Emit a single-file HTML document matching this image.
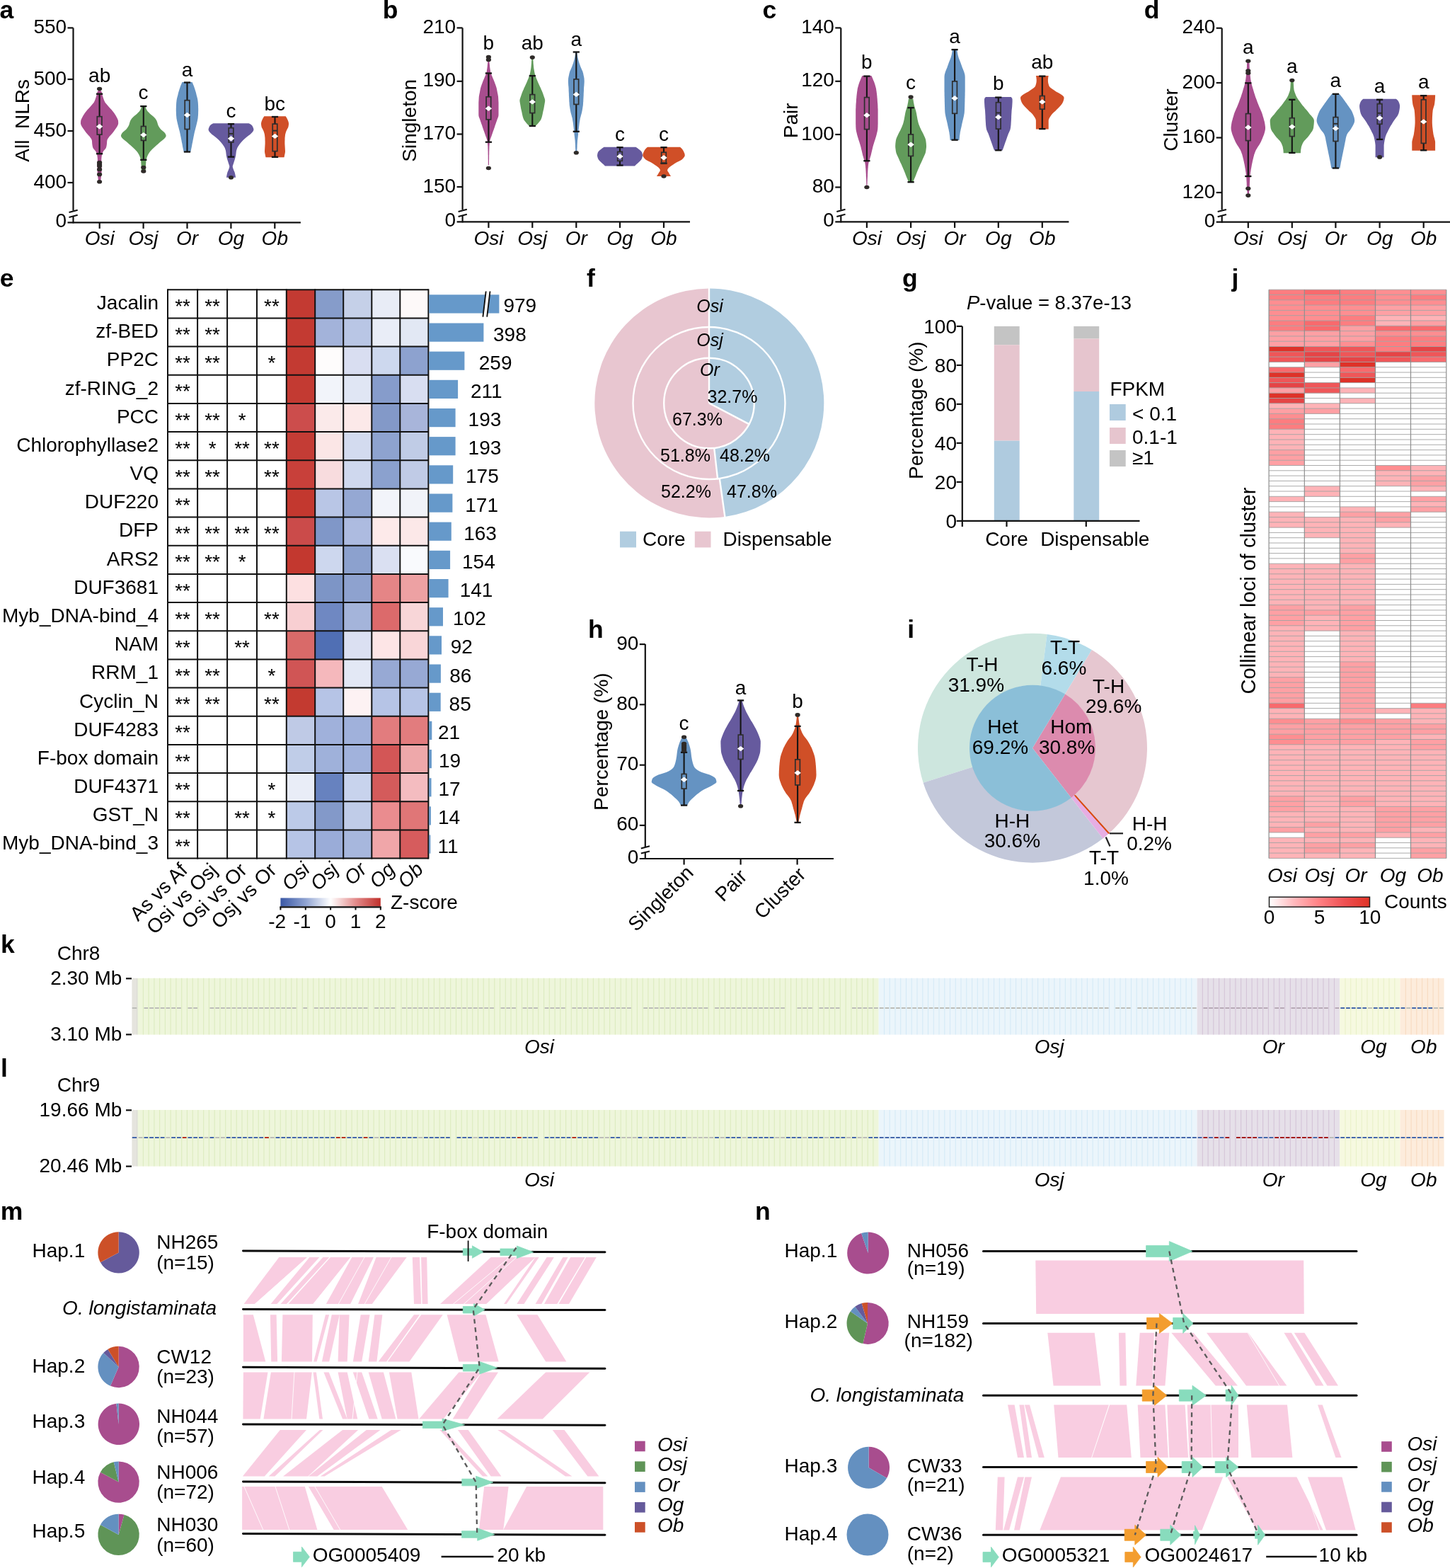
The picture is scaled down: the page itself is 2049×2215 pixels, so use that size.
<!DOCTYPE html>
<html><head><meta charset="utf-8"><title>Figure</title>
<style>
html,body{margin:0;padding:0;background:#ffffff;}
svg{display:block;}
text{font-family:"Liberation Sans", Arial, Helvetica, sans-serif;}
</style></head><body>
<svg xmlns="http://www.w3.org/2000/svg" width="2049" height="2215" viewBox="0 0 2049 2215">
<rect x="0" y="0" width="2049" height="2215" fill="#ffffff"/>
<text x="-0.4" y="25.9" font-size="35.5" font-weight="bold">a</text>
<path d="M142.1 127.9 L143.5 129.6 L144 131.3 L144.3 133 L144.8 134.7 L145.3 136.4 L145.8 138.1 L146.4 139.8 L147 141.5 L147.8 143.2 L148.7 144.9 L150 146.6 L151.5 148.3 L153 150 L154.5 151.7 L156.1 153.4 L157.6 155.1 L159 156.8 L160.4 158.5 L161.7 160.3 L162.8 162 L163.9 163.7 L164.8 165.4 L165.6 167.1 L166.4 168.8 L167 170.5 L167.1 172.2 L167.2 173.9 L167 175.6 L166.3 177.3 L165.4 179 L164.2 180.7 L163 182.4 L161.9 184.1 L160.7 185.8 L159.4 187.5 L157.9 189.2 L156.3 190.9 L154.8 192.6 L153.6 194.3 L152.3 196 L151.5 197.7 L151.2 199.4 L151.1 201.1 L151 202.8 L150.8 204.5 L150.5 206.2 L150.1 207.9 L149.5 209.6 L148.1 211.3 L146.5 213 L145.4 214.7 L144.7 216.4 L144.2 218.1 L143.8 219.8 L143.6 221.5 L143.4 223.2 L143.3 225 L143.3 226.7 L143.3 228.4 L143.4 230.1 L143.4 231.8 L143.5 233.5 L143.5 235.2 L143.6 236.9 L143.6 238.6 L143.6 240.3 L143.6 242 L143.5 243.7 L143.4 245.4 L143.2 247.1 L143 248.8 L142.8 250.5 L142.6 252.2 L142.4 253.9 L142.1 255.6 L139.1 255.6 L138.8 253.9 L138.6 252.2 L138.4 250.5 L138.2 248.8 L138 247.1 L137.8 245.4 L137.7 243.7 L137.6 242 L137.6 240.3 L137.6 238.6 L137.6 236.9 L137.7 235.2 L137.7 233.5 L137.8 231.8 L137.8 230.1 L137.9 228.4 L137.9 226.7 L137.9 225 L137.8 223.2 L137.6 221.5 L137.4 219.8 L137 218.1 L136.5 216.4 L135.8 214.7 L134.7 213 L133.1 211.3 L131.7 209.6 L131.1 207.9 L130.7 206.2 L130.4 204.5 L130.2 202.8 L130.1 201.1 L130 199.4 L129.7 197.7 L128.9 196 L127.6 194.3 L126.4 192.6 L124.9 190.9 L123.3 189.2 L121.8 187.5 L120.5 185.8 L119.3 184.1 L118.2 182.4 L117 180.7 L115.8 179 L114.9 177.3 L114.2 175.6 L114 173.9 L114.1 172.2 L114.2 170.5 L114.8 168.8 L115.6 167.1 L116.4 165.4 L117.3 163.7 L118.4 162 L119.5 160.3 L120.8 158.5 L122.2 156.8 L123.6 155.1 L125.1 153.4 L126.7 151.7 L128.2 150 L129.7 148.3 L131.2 146.6 L132.5 144.9 L133.4 143.2 L134.2 141.5 L134.8 139.8 L135.4 138.1 L135.9 136.4 L136.4 134.7 L136.9 133 L137.2 131.3 L137.7 129.6 L139.1 127.9Z" fill="#a84d8e"/>
<path d="M205.5 150.6 L206 152.3 L206.7 154 L207.6 155.7 L208.8 157.4 L210.4 159.1 L212 160.8 L214.1 162.5 L216.3 164.2 L218.1 165.9 L219.5 167.6 L220.7 169.3 L221.6 171 L222.2 172.7 L222.7 174.5 L223.2 176.2 L224 177.9 L224.9 179.6 L226.1 181.3 L227.5 183 L229.6 184.7 L231.7 186.4 L233.1 188.1 L234.1 189.8 L234.7 191.5 L234.3 193.2 L233 194.9 L231.5 196.6 L229.4 198.3 L227.1 200 L225.1 201.7 L223.3 203.4 L221.4 205.1 L219.5 206.8 L217.6 208.5 L215.7 210.2 L214 211.9 L212.6 213.6 L211.2 215.3 L210.1 217 L209.1 218.7 L208.3 220.5 L207.6 222.2 L207.1 223.9 L206.7 225.6 L206.5 227.3 L206.3 229 L206.2 230.7 L206.1 232.4 L206 234.1 L206 235.8 L205.9 237.5 L205.9 239.2 L205.8 240.9 L205.8 242.6 L199.8 242.6 L199.8 240.9 L199.7 239.2 L199.7 237.5 L199.6 235.8 L199.6 234.1 L199.5 232.4 L199.4 230.7 L199.3 229 L199.1 227.3 L198.9 225.6 L198.5 223.9 L198 222.2 L197.3 220.5 L196.5 218.7 L195.5 217 L194.4 215.3 L193 213.6 L191.6 211.9 L189.9 210.2 L188 208.5 L186.1 206.8 L184.2 205.1 L182.3 203.4 L180.5 201.7 L178.5 200 L176.2 198.3 L174.1 196.6 L172.6 194.9 L171.3 193.2 L170.9 191.5 L171.5 189.8 L172.5 188.1 L173.9 186.4 L176 184.7 L178.1 183 L179.5 181.3 L180.7 179.6 L181.6 177.9 L182.4 176.2 L182.9 174.5 L183.4 172.7 L184 171 L184.9 169.3 L186.1 167.6 L187.5 165.9 L189.3 164.2 L191.5 162.5 L193.6 160.8 L195.2 159.1 L196.8 157.4 L198 155.7 L198.9 154 L199.6 152.3 L200.1 150.6Z" fill="#629b5b"/>
<path d="M271.5 116 L272.3 117.7 L273 119.4 L273.7 121.1 L274.3 122.8 L274.9 124.5 L275.5 126.2 L276 127.9 L276.5 129.6 L277 131.3 L277.4 133 L277.8 134.7 L278.3 136.4 L278.7 138.1 L279.1 139.8 L279.4 141.5 L279.6 143.2 L279.8 144.9 L279.9 146.6 L280 148.3 L280.1 150 L280.1 151.7 L280.2 153.4 L280.2 155.1 L280.2 156.8 L280.1 158.5 L280.1 160.2 L280 161.9 L279.9 163.6 L279.7 165.2 L279.6 166.9 L279.3 168.6 L279 170.3 L278.6 172 L278.2 173.7 L277.8 175.4 L277.4 177.1 L277 178.8 L276.5 180.5 L276.1 182.2 L275.6 183.9 L275.2 185.6 L274.8 187.3 L274.4 189 L274.1 190.7 L273.7 192.4 L273.4 194.1 L273.1 195.8 L272.7 197.5 L272.4 199.2 L272.1 200.9 L271.7 202.6 L271.4 204.3 L271.1 206 L270.8 207.7 L270.4 209.4 L270.1 211.1 L269.7 212.8 L269.4 214.5 L259.6 214.5 L259.3 212.8 L258.9 211.1 L258.6 209.4 L258.2 207.7 L257.9 206 L257.6 204.3 L257.3 202.6 L256.9 200.9 L256.6 199.2 L256.3 197.5 L255.9 195.8 L255.6 194.1 L255.3 192.4 L254.9 190.7 L254.6 189 L254.2 187.3 L253.8 185.6 L253.4 183.9 L252.9 182.2 L252.5 180.5 L252 178.8 L251.6 177.1 L251.2 175.4 L250.8 173.7 L250.4 172 L250 170.3 L249.7 168.6 L249.4 166.9 L249.3 165.2 L249.1 163.6 L249 161.9 L248.9 160.2 L248.9 158.5 L248.8 156.8 L248.8 155.1 L248.8 153.4 L248.9 151.7 L248.9 150 L249 148.3 L249.1 146.6 L249.2 144.9 L249.4 143.2 L249.6 141.5 L249.9 139.8 L250.3 138.1 L250.7 136.4 L251.2 134.7 L251.6 133 L252 131.3 L252.5 129.6 L253 127.9 L253.5 126.2 L254.1 124.5 L254.7 122.8 L255.3 121.1 L256 119.4 L256.7 117.7 L257.5 116Z" fill="#6593c2"/>
<path d="M351.6 174.2 L354.9 175.9 L356.5 177.7 L357.4 179.4 L358.1 181.2 L358.5 182.9 L358.1 184.6 L356.9 186.4 L355.4 188.1 L353.4 189.9 L351.2 191.6 L349 193.3 L346.9 195.1 L344.9 196.8 L343.1 198.6 L341.5 200.3 L340 202.1 L338.6 203.8 L337.4 205.5 L336.2 207.3 L335.3 209 L334.7 210.8 L334.1 212.5 L333.8 214.2 L333.6 216 L333.4 217.7 L333.2 219.5 L332.8 221.2 L332.4 222.9 L331.9 224.7 L331.4 226.4 L330.8 228.2 L330.3 229.9 L329.7 231.7 L329.1 233.4 L328.7 235.1 L329 236.9 L329.6 238.6 L330.3 240.4 L331 242.1 L331.7 243.8 L332.1 245.6 L332.5 247.3 L332.8 249.1 L333 250.8 L320 250.8 L320.2 249.1 L320.5 247.3 L320.9 245.6 L321.3 243.8 L322 242.1 L322.7 240.4 L323.4 238.6 L324 236.9 L324.3 235.1 L323.9 233.4 L323.3 231.7 L322.7 229.9 L322.2 228.2 L321.6 226.4 L321.1 224.7 L320.6 222.9 L320.2 221.2 L319.8 219.5 L319.6 217.7 L319.4 216 L319.2 214.2 L318.9 212.5 L318.3 210.8 L317.7 209 L316.8 207.3 L315.6 205.5 L314.4 203.8 L313 202.1 L311.5 200.3 L309.9 198.6 L308.1 196.8 L306.1 195.1 L304 193.3 L301.8 191.6 L299.6 189.9 L297.6 188.1 L296.1 186.4 L294.9 184.6 L294.5 182.9 L294.9 181.2 L295.6 179.4 L296.5 177.7 L298.1 175.9 L301.4 174.2Z" fill="#665a9e"/>
<path d="M403.7 164.2 L404.8 166 L405.8 167.7 L406.6 169.5 L407.3 171.2 L407.8 173 L408 174.8 L407.9 176.5 L407.6 178.3 L407.2 180 L406.2 181.8 L405.3 183.6 L404.5 185.3 L403.9 187.1 L403.4 188.8 L403 190.6 L402.8 192.4 L402.6 194.1 L402.5 195.9 L402.5 197.7 L402.4 199.4 L402.4 201.2 L402.4 202.9 L402.5 204.7 L402.6 206.5 L402.7 208.2 L402.8 210 L402.9 211.7 L403 213.5 L402.9 215.3 L402.6 217 L402.2 218.8 L401.9 220.5 L401.5 222.3 L375.5 222.3 L375.1 220.5 L374.8 218.8 L374.4 217 L374.1 215.3 L374 213.5 L374.1 211.7 L374.2 210 L374.3 208.2 L374.4 206.5 L374.5 204.7 L374.6 202.9 L374.6 201.2 L374.6 199.4 L374.5 197.7 L374.5 195.9 L374.4 194.1 L374.2 192.4 L374 190.6 L373.6 188.8 L373.1 187.1 L372.5 185.3 L371.7 183.6 L370.8 181.8 L369.8 180 L369.4 178.3 L369.1 176.5 L369 174.8 L369.2 173 L369.7 171.2 L370.4 169.5 L371.2 167.7 L372.2 166 L373.3 164.2Z" fill="#d04f27"/>
<line x1="140.6" y1="132.7" x2="140.6" y2="164.7" stroke="#151515" stroke-width="2.1"/>
<line x1="140.6" y1="190.1" x2="140.6" y2="217.2" stroke="#151515" stroke-width="2.1"/>
<line x1="136" y1="132.7" x2="145.2" y2="132.7" stroke="#151515" stroke-width="2.3"/>
<line x1="136" y1="217.2" x2="145.2" y2="217.2" stroke="#151515" stroke-width="2.3"/>
<rect x="137.3" y="164.7" width="6.6" height="25.4" fill="none" stroke="#2e2e2e" stroke-width="1.7"/>
<polygon points="135.9,178.7 140.6,175 145.3,178.7 140.6,182.4" fill="#ffffff"/>
<ellipse cx="140.6" cy="125.5" rx="3.6" ry="2.8" fill="#2e2a28"/>
<ellipse cx="140.6" cy="229.6" rx="3.6" ry="2.8" fill="#2e2a28"/>
<ellipse cx="140.6" cy="232" rx="3.6" ry="2.8" fill="#2e2a28"/>
<ellipse cx="140.6" cy="234.5" rx="3.6" ry="2.8" fill="#2e2a28"/>
<ellipse cx="140.6" cy="239.4" rx="3.6" ry="2.8" fill="#2e2a28"/>
<ellipse cx="140.6" cy="246.4" rx="3.6" ry="2.8" fill="#2e2a28"/>
<ellipse cx="140.6" cy="256.7" rx="3.6" ry="2.8" fill="#2e2a28"/>
<line x1="202.8" y1="150.1" x2="202.8" y2="178.5" stroke="#151515" stroke-width="2.1"/>
<line x1="202.8" y1="198.4" x2="202.8" y2="225.8" stroke="#151515" stroke-width="2.1"/>
<line x1="198.2" y1="150.1" x2="207.4" y2="150.1" stroke="#151515" stroke-width="2.3"/>
<line x1="198.2" y1="225.8" x2="207.4" y2="225.8" stroke="#151515" stroke-width="2.3"/>
<rect x="199.5" y="178.5" width="6.6" height="19.9" fill="none" stroke="#2e2e2e" stroke-width="1.7"/>
<polygon points="198.1,190.6 202.8,186.9 207.5,190.6 202.8,194.3" fill="#ffffff"/>
<ellipse cx="202.8" cy="236.6" rx="3.6" ry="2.8" fill="#2e2a28"/>
<ellipse cx="202.8" cy="242" rx="3.6" ry="2.8" fill="#2e2a28"/>
<line x1="264.5" y1="116.5" x2="264.5" y2="141.7" stroke="#151515" stroke-width="2.1"/>
<line x1="264.5" y1="182.5" x2="264.5" y2="214.5" stroke="#151515" stroke-width="2.1"/>
<line x1="259.9" y1="116.5" x2="269.1" y2="116.5" stroke="#151515" stroke-width="2.3"/>
<line x1="259.9" y1="214.5" x2="269.1" y2="214.5" stroke="#151515" stroke-width="2.3"/>
<rect x="261.2" y="141.7" width="6.6" height="40.8" fill="none" stroke="#2e2e2e" stroke-width="1.7"/>
<polygon points="259.8,162.5 264.5,158.8 269.2,162.5 264.5,166.2" fill="#ffffff"/>
<line x1="326.5" y1="175.1" x2="326.5" y2="180.7" stroke="#151515" stroke-width="2.1"/>
<line x1="326.5" y1="201" x2="326.5" y2="221.6" stroke="#151515" stroke-width="2.1"/>
<line x1="321.9" y1="175.1" x2="331.1" y2="175.1" stroke="#151515" stroke-width="2.3"/>
<line x1="321.9" y1="221.6" x2="331.1" y2="221.6" stroke="#151515" stroke-width="2.3"/>
<rect x="323.2" y="180.7" width="6.6" height="20.3" fill="none" stroke="#2e2e2e" stroke-width="1.7"/>
<line x1="323.2" y1="188.9" x2="329.8" y2="188.9" stroke="#2e2e2e" stroke-width="2"/>
<polygon points="321.8,195.8 326.5,192.1 331.2,195.8 326.5,199.5" fill="#ffffff"/>
<ellipse cx="326.5" cy="250.8" rx="3.6" ry="2.8" fill="#2e2a28"/>
<line x1="388.5" y1="165" x2="388.5" y2="175.1" stroke="#151515" stroke-width="2.1"/>
<line x1="388.5" y1="213.6" x2="388.5" y2="221.8" stroke="#151515" stroke-width="2.1"/>
<line x1="383.9" y1="165" x2="393.1" y2="165" stroke="#151515" stroke-width="2.3"/>
<line x1="383.9" y1="221.8" x2="393.1" y2="221.8" stroke="#151515" stroke-width="2.3"/>
<rect x="385.2" y="175.1" width="6.6" height="38.5" fill="none" stroke="#2e2e2e" stroke-width="1.7"/>
<line x1="385.2" y1="184.6" x2="391.8" y2="184.6" stroke="#2e2e2e" stroke-width="2"/>
<polygon points="383.8,192.4 388.5,188.7 393.2,192.4 388.5,196.1" fill="#ffffff"/>
<line x1="103.5" y1="39.4" x2="103.5" y2="297.4" stroke="#111" stroke-width="2.2"/>
<line x1="103.5" y1="305.9" x2="103.5" y2="315.4" stroke="#111" stroke-width="2.2"/>
<line x1="97.5" y1="299.9" x2="109.7" y2="296.7" stroke="#111" stroke-width="2.1"/>
<line x1="97.5" y1="307" x2="109.7" y2="303.8" stroke="#111" stroke-width="2.1"/>
<line x1="95.5" y1="39.4" x2="103.5" y2="39.4" stroke="#111" stroke-width="2.2"/>
<text x="94.1" y="46.9" font-size="28" text-anchor="end">550</text>
<line x1="95.5" y1="112" x2="103.5" y2="112" stroke="#111" stroke-width="2.2"/>
<text x="94.1" y="119.5" font-size="28" text-anchor="end">500</text>
<line x1="95.5" y1="185" x2="103.5" y2="185" stroke="#111" stroke-width="2.2"/>
<text x="94.1" y="192.5" font-size="28" text-anchor="end">450</text>
<line x1="95.5" y1="258" x2="103.5" y2="258" stroke="#111" stroke-width="2.2"/>
<text x="94.1" y="265.5" font-size="28" text-anchor="end">400</text>
<text x="94.1" y="321.4" font-size="28" text-anchor="end">0</text>
<line x1="95.5" y1="314.4" x2="424.9" y2="314.4" stroke="#111" stroke-width="2.2"/>
<line x1="140.7" y1="314.4" x2="140.7" y2="322.9" stroke="#111" stroke-width="2.2"/>
<text x="140.7" y="346.3" font-size="28" text-anchor="middle" font-style="italic">Osi</text>
<line x1="202.6" y1="314.4" x2="202.6" y2="322.9" stroke="#111" stroke-width="2.2"/>
<text x="202.6" y="346.3" font-size="28" text-anchor="middle" font-style="italic">Osj</text>
<line x1="264.5" y1="314.4" x2="264.5" y2="322.9" stroke="#111" stroke-width="2.2"/>
<text x="264.5" y="346.3" font-size="28" text-anchor="middle" font-style="italic">Or</text>
<line x1="326.4" y1="314.4" x2="326.4" y2="322.9" stroke="#111" stroke-width="2.2"/>
<text x="326.4" y="346.3" font-size="28" text-anchor="middle" font-style="italic">Og</text>
<line x1="388.3" y1="314.4" x2="388.3" y2="322.9" stroke="#111" stroke-width="2.2"/>
<text x="388.3" y="346.3" font-size="28" text-anchor="middle" font-style="italic">Ob</text>
<text x="140.7" y="116" font-size="28" text-anchor="middle">ab</text>
<text x="202.6" y="140.3" font-size="28" text-anchor="middle">c</text>
<text x="264.5" y="107.9" font-size="28" text-anchor="middle">a</text>
<text x="326.4" y="166.4" font-size="28" text-anchor="middle">c</text>
<text x="388.3" y="156" font-size="28" text-anchor="middle">bc</text>
<text x="40.8" y="170.3" font-size="28" text-anchor="middle" transform="rotate(-90 40.8 170.3)">All&#160; NLRs</text>
<text x="540.7" y="25.9" font-size="35.5" font-weight="bold">b</text>
<path d="M691.4 87.1 L691.6 88.8 L691.8 90.5 L692 92.2 L692.1 93.9 L692.3 95.6 L692.5 97.3 L692.8 99 L693 100.7 L693.4 102.4 L693.8 104.1 L694.5 105.8 L695.3 107.5 L696 109.2 L696.7 110.9 L697.4 112.6 L698.1 114.3 L698.8 116 L699.4 117.7 L700.1 119.4 L700.6 121.1 L701.2 122.8 L701.7 124.5 L702.1 126.2 L702.4 127.9 L702.7 129.6 L703 131.3 L703.4 133 L703.7 134.7 L704 136.4 L704.1 138.1 L704.2 139.8 L704.3 141.5 L704.4 143.2 L704.5 144.9 L704.5 146.6 L704.5 148.3 L704.5 150 L704.5 151.7 L704.5 153.4 L704.5 155.1 L704.5 156.8 L704.5 158.5 L704.5 160.1 L704.5 161.8 L704.4 163.5 L704 165.2 L703.3 166.9 L702.7 168.6 L702.1 170.3 L701.5 172 L700.9 173.7 L700.3 175.4 L699.7 177.1 L699.2 178.8 L698.6 180.5 L698 182.2 L697.4 183.9 L696.8 185.6 L696.2 187.3 L695.6 189 L695 190.7 L694.4 192.4 L693.8 194.1 L693.2 195.8 L692.6 197.5 L692.2 199.2 L692 200.9 L691.8 202.6 L691.7 204.3 L691.5 206 L691.4 207.7 L691.4 209.4 L691.3 211.1 L691.3 212.8 L691.2 214.5 L691.2 216.2 L691.2 217.9 L691.1 219.6 L691.1 221.3 L691.1 223 L691.1 224.7 L691 226.4 L691 228.1 L691 229.8 L691 231.5 L691 233.2 L689.8 233.2 L689.8 231.5 L689.8 229.8 L689.8 228.1 L689.8 226.4 L689.7 224.7 L689.7 223 L689.7 221.3 L689.7 219.6 L689.6 217.9 L689.6 216.2 L689.6 214.5 L689.5 212.8 L689.5 211.1 L689.4 209.4 L689.4 207.7 L689.3 206 L689.1 204.3 L689 202.6 L688.8 200.9 L688.6 199.2 L688.2 197.5 L687.6 195.8 L687 194.1 L686.4 192.4 L685.8 190.7 L685.2 189 L684.6 187.3 L684 185.6 L683.4 183.9 L682.8 182.2 L682.2 180.5 L681.6 178.8 L681.1 177.1 L680.5 175.4 L679.9 173.7 L679.3 172 L678.7 170.3 L678.1 168.6 L677.5 166.9 L676.8 165.2 L676.4 163.5 L676.3 161.8 L676.3 160.1 L676.3 158.5 L676.3 156.8 L676.3 155.1 L676.3 153.4 L676.3 151.7 L676.3 150 L676.3 148.3 L676.3 146.6 L676.3 144.9 L676.4 143.2 L676.5 141.5 L676.6 139.8 L676.7 138.1 L676.8 136.4 L677.1 134.7 L677.4 133 L677.8 131.3 L678.1 129.6 L678.4 127.9 L678.7 126.2 L679.1 124.5 L679.6 122.8 L680.2 121.1 L680.7 119.4 L681.4 117.7 L682 116 L682.7 114.3 L683.4 112.6 L684.1 110.9 L684.8 109.2 L685.5 107.5 L686.3 105.8 L687 104.1 L687.4 102.4 L687.8 100.7 L688 99 L688.3 97.3 L688.5 95.6 L688.7 93.9 L688.8 92.2 L689 90.5 L689.2 88.8 L689.4 87.1Z" fill="#a84d8e"/>
<path d="M753.3 81.6 L753.3 83.3 L753.4 85 L753.5 86.8 L753.6 88.5 L753.7 90.2 L753.9 91.9 L754 93.6 L754.2 95.4 L754.4 97.1 L754.7 98.8 L755 100.5 L755.3 102.3 L755.7 104 L756.1 105.7 L756.7 107.4 L757.3 109.1 L758 110.9 L758.7 112.6 L759.4 114.3 L760.1 116 L760.9 117.8 L761.7 119.5 L762.5 121.2 L763.3 122.9 L764.1 124.6 L764.8 126.4 L765.6 128.1 L766.3 129.8 L767 131.5 L767.6 133.2 L768.2 135 L768.8 136.7 L769.4 138.4 L769.9 140.1 L770.2 141.8 L770.1 143.6 L769.8 145.3 L769.5 147 L769.2 148.7 L768.9 150.5 L768.6 152.2 L768.3 153.9 L767.9 155.6 L767.5 157.3 L767.1 159.1 L766.8 160.8 L766.4 162.5 L766 164.2 L765.5 165.9 L764.9 167.7 L764.1 169.4 L763 171.1 L761.6 172.8 L760.2 174.6 L758.5 176.3 L756.6 178 L748 178 L746.1 176.3 L744.4 174.6 L743 172.8 L741.6 171.1 L740.5 169.4 L739.7 167.7 L739.1 165.9 L738.6 164.2 L738.2 162.5 L737.8 160.8 L737.5 159.1 L737.1 157.3 L736.7 155.6 L736.3 153.9 L736 152.2 L735.7 150.5 L735.4 148.7 L735.1 147 L734.8 145.3 L734.5 143.6 L734.4 141.8 L734.7 140.1 L735.2 138.4 L735.8 136.7 L736.4 135 L737 133.2 L737.6 131.5 L738.3 129.8 L739 128.1 L739.8 126.4 L740.5 124.6 L741.3 122.9 L742.1 121.2 L742.9 119.5 L743.7 117.8 L744.5 116 L745.2 114.3 L745.9 112.6 L746.6 110.9 L747.3 109.1 L747.9 107.4 L748.5 105.7 L748.9 104 L749.3 102.3 L749.6 100.5 L749.9 98.8 L750.2 97.1 L750.4 95.4 L750.6 93.6 L750.7 91.9 L750.9 90.2 L751 88.5 L751.1 86.8 L751.2 85 L751.3 83.3 L751.3 81.6Z" fill="#629b5b"/>
<path d="M815.3 73.5 L815.5 75.2 L815.7 76.9 L816 78.6 L816.2 80.3 L816.6 82 L817 83.7 L817.4 85.3 L817.9 87 L818.4 88.7 L819 90.4 L819.6 92.1 L820.2 93.8 L820.9 95.5 L821.7 97.2 L822.4 98.9 L823.2 100.6 L823.7 102.3 L824.2 104 L824.5 105.7 L824.9 107.4 L825.2 109 L825.5 110.7 L825.6 112.4 L825.7 114.1 L825.7 115.8 L825.6 117.5 L825.5 119.2 L825.4 120.9 L825.2 122.6 L825.1 124.3 L825 126 L825 127.7 L824.9 129.4 L824.8 131.1 L824.7 132.7 L824.7 134.4 L824.6 136.1 L824.5 137.8 L824.4 139.5 L824.3 141.2 L824.3 142.9 L824.1 144.6 L824 146.3 L823.9 148 L823.7 149.7 L823.4 151.4 L823.2 153.1 L822.9 154.8 L822.6 156.4 L822.3 158.1 L821.9 159.8 L821.4 161.5 L820.9 163.2 L820.5 164.9 L820 166.6 L819.7 168.3 L819.4 170 L819.1 171.7 L818.8 173.4 L818.6 175.1 L818.4 176.8 L818.2 178.5 L818 180.1 L817.8 181.8 L817.6 183.5 L817.5 185.2 L817.3 186.9 L817.1 188.6 L817 190.3 L816.8 192 L816.6 193.7 L816.4 195.4 L816.2 197.1 L816 198.8 L815.9 200.5 L815.8 202.2 L815.7 203.8 L815.6 205.5 L815.6 207.2 L815.5 208.9 L815.4 210.6 L815.4 212.3 L815.3 214 L813.3 214 L813.2 212.3 L813.2 210.6 L813.1 208.9 L813 207.2 L813 205.5 L812.9 203.8 L812.8 202.2 L812.7 200.5 L812.6 198.8 L812.4 197.1 L812.2 195.4 L812 193.7 L811.8 192 L811.6 190.3 L811.5 188.6 L811.3 186.9 L811.1 185.2 L811 183.5 L810.8 181.8 L810.6 180.1 L810.4 178.5 L810.2 176.8 L810 175.1 L809.8 173.4 L809.5 171.7 L809.2 170 L808.9 168.3 L808.6 166.6 L808.1 164.9 L807.7 163.2 L807.2 161.5 L806.7 159.8 L806.3 158.1 L806 156.4 L805.7 154.8 L805.4 153.1 L805.2 151.4 L804.9 149.7 L804.7 148 L804.6 146.3 L804.5 144.6 L804.3 142.9 L804.3 141.2 L804.2 139.5 L804.1 137.8 L804 136.1 L803.9 134.4 L803.9 132.7 L803.8 131.1 L803.7 129.4 L803.6 127.7 L803.6 126 L803.5 124.3 L803.4 122.6 L803.2 120.9 L803.1 119.2 L803 117.5 L802.9 115.8 L802.9 114.1 L803 112.4 L803.1 110.7 L803.4 109 L803.7 107.4 L804.1 105.7 L804.4 104 L804.9 102.3 L805.4 100.6 L806.2 98.9 L806.9 97.2 L807.7 95.5 L808.4 93.8 L809 92.1 L809.6 90.4 L810.2 88.7 L810.7 87 L811.2 85.3 L811.6 83.7 L812 82 L812.4 80.3 L812.6 78.6 L812.9 76.9 L813.1 75.2 L813.3 73.5Z" fill="#6593c2"/>
<path d="M898.5 207.7 L901.1 209.5 L903.3 211.3 L905.4 213 L906.9 214.8 L907.5 216.6 L907.9 218.4 L908 220.2 L907.6 221.9 L907.1 223.7 L906.2 225.5 L904.7 227.3 L902.9 229.1 L901 230.8 L898.9 232.6 L897 234.4 L855 234.4 L853.1 232.6 L851 230.8 L849.1 229.1 L847.3 227.3 L845.8 225.5 L844.9 223.7 L844.4 221.9 L844 220.2 L844.1 218.4 L844.5 216.6 L845.1 214.8 L846.6 213 L848.7 211.3 L850.9 209.5 L853.5 207.7Z" fill="#665a9e"/>
<path d="M961 207.7 L963 209.5 L964.5 211.3 L965.6 213.1 L966.5 214.9 L967.3 216.7 L967.7 218.5 L967.7 220.3 L966.7 222.1 L965.1 223.9 L963.2 225.7 L960 227.5 L956.3 229.2 L953.4 231 L950.9 232.8 L948.2 234.6 L945.6 236.4 L944 238.2 L943.1 240 L943.4 241.8 L944.7 243.6 L945.8 245.4 L946.9 247.2 L948 249 L928 249 L929.1 247.2 L930.2 245.4 L931.3 243.6 L932.6 241.8 L932.9 240 L932 238.2 L930.4 236.4 L927.8 234.6 L925.1 232.8 L922.6 231 L919.7 229.2 L916 227.5 L912.8 225.7 L910.9 223.9 L909.3 222.1 L908.3 220.3 L908.3 218.5 L908.7 216.7 L909.5 214.9 L910.4 213.1 L911.5 211.3 L913 209.5 L915 207.7Z" fill="#d04f27"/>
<line x1="690.4" y1="103.5" x2="690.4" y2="136.8" stroke="#151515" stroke-width="2.1"/>
<line x1="690.4" y1="168.8" x2="690.4" y2="200.7" stroke="#151515" stroke-width="2.1"/>
<line x1="685.8" y1="103.5" x2="695" y2="103.5" stroke="#151515" stroke-width="2.3"/>
<line x1="685.8" y1="200.7" x2="695" y2="200.7" stroke="#151515" stroke-width="2.3"/>
<rect x="687.1" y="136.8" width="6.6" height="32" fill="none" stroke="#2e2e2e" stroke-width="1.7"/>
<polygon points="685.7,153.3 690.4,149.6 695.1,153.3 690.4,157" fill="#ffffff"/>
<ellipse cx="690.4" cy="80.6" rx="3.6" ry="2.8" fill="#2e2a28"/>
<ellipse cx="690.4" cy="84.4" rx="3.6" ry="2.8" fill="#2e2a28"/>
<ellipse cx="690.4" cy="237.5" rx="3.6" ry="2.8" fill="#2e2a28"/>
<line x1="752.3" y1="107.1" x2="752.3" y2="133.6" stroke="#151515" stroke-width="2.1"/>
<line x1="752.3" y1="159.6" x2="752.3" y2="178" stroke="#151515" stroke-width="2.1"/>
<line x1="747.7" y1="107.1" x2="756.9" y2="107.1" stroke="#151515" stroke-width="2.3"/>
<line x1="747.7" y1="178" x2="756.9" y2="178" stroke="#151515" stroke-width="2.3"/>
<rect x="749" y="133.6" width="6.6" height="26" fill="none" stroke="#2e2e2e" stroke-width="1.7"/>
<polygon points="747.6,143.9 752.3,140.2 757,143.9 752.3,147.6" fill="#ffffff"/>
<ellipse cx="752.3" cy="81.1" rx="3.6" ry="2.8" fill="#2e2a28"/>
<line x1="814.3" y1="73.5" x2="814.3" y2="111.9" stroke="#151515" stroke-width="2.1"/>
<line x1="814.3" y1="147.4" x2="814.3" y2="185.8" stroke="#151515" stroke-width="2.1"/>
<line x1="809.7" y1="73.5" x2="818.9" y2="73.5" stroke="#151515" stroke-width="2.3"/>
<line x1="809.7" y1="185.8" x2="818.9" y2="185.8" stroke="#151515" stroke-width="2.3"/>
<rect x="811" y="111.9" width="6.6" height="35.5" fill="none" stroke="#2e2e2e" stroke-width="1.7"/>
<polygon points="809.6,133.4 814.3,129.7 819,133.4 814.3,137.1" fill="#ffffff"/>
<ellipse cx="814.3" cy="215.8" rx="3.6" ry="2.8" fill="#2e2a28"/>
<line x1="876" y1="208.2" x2="876" y2="214.4" stroke="#151515" stroke-width="2.1"/>
<line x1="876" y1="227.3" x2="876" y2="233.5" stroke="#151515" stroke-width="2.1"/>
<line x1="871.4" y1="208.2" x2="880.6" y2="208.2" stroke="#151515" stroke-width="2.3"/>
<line x1="871.4" y1="233.5" x2="880.6" y2="233.5" stroke="#151515" stroke-width="2.3"/>
<rect x="872.7" y="214.4" width="6.6" height="12.9" fill="none" stroke="#2e2e2e" stroke-width="1.7"/>
<polygon points="871.3,220.9 876,217.2 880.7,220.9 876,224.6" fill="#ffffff"/>
<line x1="938" y1="208.2" x2="938" y2="215.2" stroke="#151515" stroke-width="2.1"/>
<line x1="938" y1="230.2" x2="938" y2="230.7" stroke="#151515" stroke-width="2.1"/>
<line x1="933.4" y1="208.2" x2="942.6" y2="208.2" stroke="#151515" stroke-width="2.3"/>
<line x1="933.4" y1="230.7" x2="942.6" y2="230.7" stroke="#151515" stroke-width="2.3"/>
<rect x="934.7" y="215.2" width="6.6" height="15" fill="none" stroke="#2e2e2e" stroke-width="1.7"/>
<polygon points="933.3,222.8 938,219.1 942.7,222.8 938,226.5" fill="#ffffff"/>
<ellipse cx="938" cy="249" rx="3.6" ry="2.8" fill="#2e2a28"/>
<line x1="653.6" y1="39.4" x2="653.6" y2="296.4" stroke="#111" stroke-width="2.2"/>
<line x1="653.6" y1="304.9" x2="653.6" y2="314.4" stroke="#111" stroke-width="2.2"/>
<line x1="647.6" y1="298.9" x2="659.8" y2="295.7" stroke="#111" stroke-width="2.1"/>
<line x1="647.6" y1="306" x2="659.8" y2="302.8" stroke="#111" stroke-width="2.1"/>
<line x1="645.6" y1="39.4" x2="653.6" y2="39.4" stroke="#111" stroke-width="2.2"/>
<text x="644.2" y="46.9" font-size="28" text-anchor="end">210</text>
<line x1="645.6" y1="114.8" x2="653.6" y2="114.8" stroke="#111" stroke-width="2.2"/>
<text x="644.2" y="122.3" font-size="28" text-anchor="end">190</text>
<line x1="645.6" y1="189.5" x2="653.6" y2="189.5" stroke="#111" stroke-width="2.2"/>
<text x="644.2" y="197" font-size="28" text-anchor="end">170</text>
<line x1="645.6" y1="264" x2="653.6" y2="264" stroke="#111" stroke-width="2.2"/>
<text x="644.2" y="271.5" font-size="28" text-anchor="end">150</text>
<text x="644.2" y="320.4" font-size="28" text-anchor="end">0</text>
<line x1="645.6" y1="313.4" x2="975" y2="313.4" stroke="#111" stroke-width="2.2"/>
<line x1="690.4" y1="313.4" x2="690.4" y2="321.9" stroke="#111" stroke-width="2.2"/>
<text x="690.4" y="346.3" font-size="28" text-anchor="middle" font-style="italic">Osi</text>
<line x1="752.3" y1="313.4" x2="752.3" y2="321.9" stroke="#111" stroke-width="2.2"/>
<text x="752.3" y="346.3" font-size="28" text-anchor="middle" font-style="italic">Osj</text>
<line x1="814.3" y1="313.4" x2="814.3" y2="321.9" stroke="#111" stroke-width="2.2"/>
<text x="814.3" y="346.3" font-size="28" text-anchor="middle" font-style="italic">Or</text>
<line x1="876" y1="313.4" x2="876" y2="321.9" stroke="#111" stroke-width="2.2"/>
<text x="876" y="346.3" font-size="28" text-anchor="middle" font-style="italic">Og</text>
<line x1="938" y1="313.4" x2="938" y2="321.9" stroke="#111" stroke-width="2.2"/>
<text x="938" y="346.3" font-size="28" text-anchor="middle" font-style="italic">Ob</text>
<text x="690.4" y="69.8" font-size="28" text-anchor="middle">b</text>
<text x="752.3" y="69.8" font-size="28" text-anchor="middle">ab</text>
<text x="814.3" y="65.3" font-size="28" text-anchor="middle">a</text>
<text x="876" y="199.2" font-size="28" text-anchor="middle">c</text>
<text x="938" y="199.2" font-size="28" text-anchor="middle">c</text>
<text x="588" y="170.3" font-size="28" text-anchor="middle" transform="rotate(-90 588 170.3)">Singleton</text>
<text x="1077.6" y="25.9" font-size="35.5" font-weight="bold">c</text>
<path d="M1231.4 107.1 L1232.2 108.8 L1233 110.5 L1233.7 112.2 L1234.4 113.9 L1235.1 115.6 L1235.7 117.3 L1236.3 119 L1236.8 120.7 L1237.3 122.4 L1237.7 124.1 L1238.1 125.8 L1238.3 127.5 L1238.6 129.2 L1238.8 130.9 L1239 132.6 L1239.2 134.3 L1239.4 136 L1239.5 137.7 L1239.7 139.4 L1239.8 141.1 L1239.9 142.8 L1240 144.5 L1240.2 146.3 L1240.3 148 L1240.4 149.7 L1240.4 151.4 L1240.5 153.1 L1240.6 154.8 L1240.6 156.5 L1240.6 158.2 L1240.6 159.9 L1240.6 161.6 L1240.6 163.3 L1240.6 165 L1240.6 166.7 L1240.6 168.4 L1240.6 170.1 L1240.6 171.8 L1240.6 173.5 L1240.6 175.2 L1240.5 176.9 L1240.5 178.6 L1240.4 180.3 L1240.3 182 L1240.1 183.7 L1239.8 185.4 L1239.4 187.1 L1239 188.8 L1238.6 190.5 L1238.1 192.2 L1237.6 193.9 L1237.1 195.6 L1236.6 197.3 L1236 199 L1235.4 200.7 L1234.9 202.4 L1234.4 204.1 L1233.9 205.8 L1233.4 207.5 L1233 209.2 L1232.6 210.9 L1232.2 212.6 L1231.8 214.3 L1231.4 216 L1231 217.7 L1230.6 219.4 L1230.1 221.1 L1229.6 222.8 L1229.1 224.6 L1228.5 226.3 L1227.9 228 L1227.5 229.7 L1227.2 231.4 L1227 233.1 L1226.8 234.8 L1226.7 236.5 L1226.5 238.2 L1226.4 239.9 L1226.3 241.6 L1226.2 243.3 L1226.1 245 L1226 246.7 L1226 248.4 L1225.9 250.1 L1225.8 251.8 L1225.7 253.5 L1225.7 255.2 L1225.6 256.9 L1225.6 258.6 L1225.5 260.3 L1225.5 262 L1224.3 262 L1224.3 260.3 L1224.2 258.6 L1224.2 256.9 L1224.1 255.2 L1224.1 253.5 L1224 251.8 L1223.9 250.1 L1223.8 248.4 L1223.8 246.7 L1223.7 245 L1223.6 243.3 L1223.5 241.6 L1223.4 239.9 L1223.3 238.2 L1223.1 236.5 L1223 234.8 L1222.8 233.1 L1222.6 231.4 L1222.3 229.7 L1221.9 228 L1221.3 226.3 L1220.7 224.6 L1220.2 222.8 L1219.7 221.1 L1219.2 219.4 L1218.8 217.7 L1218.4 216 L1218 214.3 L1217.6 212.6 L1217.2 210.9 L1216.8 209.2 L1216.4 207.5 L1215.9 205.8 L1215.4 204.1 L1214.9 202.4 L1214.4 200.7 L1213.8 199 L1213.2 197.3 L1212.7 195.6 L1212.2 193.9 L1211.7 192.2 L1211.2 190.5 L1210.8 188.8 L1210.4 187.1 L1210 185.4 L1209.7 183.7 L1209.5 182 L1209.4 180.3 L1209.3 178.6 L1209.3 176.9 L1209.2 175.2 L1209.2 173.5 L1209.2 171.8 L1209.2 170.1 L1209.2 168.4 L1209.2 166.7 L1209.2 165 L1209.2 163.3 L1209.2 161.6 L1209.2 159.9 L1209.2 158.2 L1209.2 156.5 L1209.2 154.8 L1209.3 153.1 L1209.4 151.4 L1209.4 149.7 L1209.5 148 L1209.6 146.3 L1209.8 144.5 L1209.9 142.8 L1210 141.1 L1210.1 139.4 L1210.3 137.7 L1210.4 136 L1210.6 134.3 L1210.8 132.6 L1211 130.9 L1211.2 129.2 L1211.5 127.5 L1211.7 125.8 L1212.1 124.1 L1212.5 122.4 L1213 120.7 L1213.5 119 L1214.1 117.3 L1214.7 115.6 L1215.4 113.9 L1216.1 112.2 L1216.8 110.5 L1217.6 108.8 L1218.4 107.1Z" fill="#a84d8e"/>
<path d="M1290.3 139.5 L1290.5 141.2 L1290.8 142.9 L1291 144.6 L1291.4 146.3 L1291.7 148 L1292.1 149.7 L1292.6 151.4 L1293.1 153.1 L1293.7 154.9 L1294.2 156.6 L1294.6 158.3 L1295 160 L1295.3 161.7 L1295.6 163.4 L1295.9 165.1 L1296.2 166.8 L1296.5 168.5 L1296.9 170.2 L1297.3 171.9 L1297.7 173.6 L1298.2 175.3 L1298.9 177 L1299.6 178.7 L1300.3 180.4 L1301.1 182.1 L1301.9 183.9 L1302.8 185.6 L1303.7 187.3 L1304.6 189 L1305.4 190.7 L1306.2 192.4 L1306.9 194.1 L1307.6 195.8 L1308.1 197.5 L1308.4 199.2 L1308.6 200.9 L1308.8 202.6 L1308.9 204.3 L1309 206 L1309 207.7 L1308.8 209.4 L1308.6 211.1 L1308.4 212.8 L1308.1 214.6 L1307.7 216.3 L1307 218 L1306.2 219.7 L1305.4 221.4 L1304.7 223.1 L1303.9 224.8 L1303.2 226.5 L1302.4 228.2 L1301.6 229.9 L1300.8 231.6 L1300 233.3 L1299.3 235 L1298.5 236.7 L1297.8 238.4 L1297.1 240.1 L1296.4 241.8 L1295.7 243.6 L1295 245.3 L1294.4 247 L1293.7 248.7 L1293 250.4 L1292.3 252.1 L1291.6 253.8 L1290.9 255.5 L1290.1 257.2 L1284.1 257.2 L1283.3 255.5 L1282.6 253.8 L1281.9 252.1 L1281.2 250.4 L1280.5 248.7 L1279.8 247 L1279.2 245.3 L1278.5 243.6 L1277.8 241.8 L1277.1 240.1 L1276.4 238.4 L1275.7 236.7 L1274.9 235 L1274.2 233.3 L1273.4 231.6 L1272.6 229.9 L1271.8 228.2 L1271 226.5 L1270.3 224.8 L1269.5 223.1 L1268.8 221.4 L1268 219.7 L1267.2 218 L1266.5 216.3 L1266.1 214.6 L1265.8 212.8 L1265.6 211.1 L1265.4 209.4 L1265.2 207.7 L1265.2 206 L1265.3 204.3 L1265.4 202.6 L1265.6 200.9 L1265.8 199.2 L1266.1 197.5 L1266.6 195.8 L1267.3 194.1 L1268 192.4 L1268.8 190.7 L1269.6 189 L1270.5 187.3 L1271.4 185.6 L1272.3 183.9 L1273.1 182.1 L1273.9 180.4 L1274.6 178.7 L1275.3 177 L1276 175.3 L1276.5 173.6 L1276.9 171.9 L1277.3 170.2 L1277.7 168.5 L1278 166.8 L1278.3 165.1 L1278.6 163.4 L1278.9 161.7 L1279.2 160 L1279.6 158.3 L1280 156.6 L1280.5 154.9 L1281.1 153.1 L1281.6 151.4 L1282.1 149.7 L1282.5 148 L1282.8 146.3 L1283.2 144.6 L1283.4 142.9 L1283.7 141.2 L1283.9 139.5Z" fill="#629b5b"/>
<path d="M1352.3 69.7 L1352.5 71.4 L1352.7 73.1 L1353 74.8 L1353.3 76.5 L1353.7 78.3 L1354.2 80 L1354.7 81.7 L1355.4 83.4 L1356 85.1 L1356.7 86.8 L1357.4 88.5 L1358 90.2 L1358.6 91.9 L1359.2 93.6 L1359.8 95.4 L1360.5 97.1 L1361.2 98.8 L1361.9 100.5 L1362.5 102.2 L1363 103.9 L1363.4 105.6 L1363.6 107.3 L1363.7 109 L1363.7 110.8 L1363.7 112.5 L1363.7 114.2 L1363.7 115.9 L1363.7 117.6 L1363.7 119.3 L1363.7 121 L1363.7 122.7 L1363.7 124.4 L1363.7 126.2 L1363.7 127.9 L1363.7 129.6 L1363.6 131.3 L1363.6 133 L1363.6 134.7 L1363.5 136.4 L1363.5 138.1 L1363.4 139.8 L1363.4 141.5 L1363.4 143.3 L1363.3 145 L1363.3 146.7 L1363.2 148.4 L1363.2 150.1 L1363.1 151.8 L1363.1 153.5 L1363 155.2 L1362.9 156.9 L1362.8 158.7 L1362.6 160.4 L1362.3 162.1 L1362 163.8 L1361.6 165.5 L1361.2 167.2 L1360.8 168.9 L1360.4 170.6 L1360 172.3 L1359.6 174.1 L1359.2 175.8 L1358.9 177.5 L1358.5 179.2 L1358.1 180.9 L1357.7 182.6 L1357.4 184.3 L1357 186 L1356.7 187.7 L1356.5 189.4 L1356.2 191.2 L1356 192.9 L1355.9 194.6 L1355.7 196.3 L1355.6 198 L1342.6 198 L1342.5 196.3 L1342.3 194.6 L1342.2 192.9 L1342 191.2 L1341.7 189.4 L1341.5 187.7 L1341.2 186 L1340.8 184.3 L1340.5 182.6 L1340.1 180.9 L1339.7 179.2 L1339.3 177.5 L1339 175.8 L1338.6 174.1 L1338.2 172.3 L1337.8 170.6 L1337.4 168.9 L1337 167.2 L1336.6 165.5 L1336.2 163.8 L1335.9 162.1 L1335.6 160.4 L1335.4 158.7 L1335.3 156.9 L1335.2 155.2 L1335.1 153.5 L1335.1 151.8 L1335 150.1 L1335 148.4 L1334.9 146.7 L1334.9 145 L1334.8 143.3 L1334.8 141.5 L1334.8 139.8 L1334.7 138.1 L1334.7 136.4 L1334.6 134.7 L1334.6 133 L1334.6 131.3 L1334.5 129.6 L1334.5 127.9 L1334.5 126.2 L1334.5 124.4 L1334.5 122.7 L1334.5 121 L1334.5 119.3 L1334.5 117.6 L1334.5 115.9 L1334.5 114.2 L1334.5 112.5 L1334.5 110.8 L1334.5 109 L1334.6 107.3 L1334.8 105.6 L1335.2 103.9 L1335.7 102.2 L1336.3 100.5 L1337 98.8 L1337.7 97.1 L1338.4 95.4 L1339 93.6 L1339.6 91.9 L1340.2 90.2 L1340.8 88.5 L1341.5 86.8 L1342.2 85.1 L1342.8 83.4 L1343.5 81.7 L1344 80 L1344.5 78.3 L1344.9 76.5 L1345.2 74.8 L1345.5 73.1 L1345.7 71.4 L1345.9 69.7Z" fill="#6593c2"/>
<path d="M1428.7 137.1 L1430.2 138.8 L1430.6 140.5 L1430.6 142.2 L1430.6 144 L1430.5 145.7 L1430.4 147.4 L1430.3 149.1 L1430.2 150.8 L1430 152.5 L1429.8 154.3 L1429.6 156 L1429.5 157.7 L1429.4 159.4 L1429.3 161.1 L1429.2 162.8 L1429.1 164.6 L1429.1 166.3 L1429 168 L1428.9 169.7 L1428.8 171.4 L1428.7 173.1 L1428.6 174.8 L1428.5 176.6 L1428.3 178.3 L1428.1 180 L1427.8 181.7 L1427.4 183.4 L1426.7 185.1 L1425.9 186.9 L1425.1 188.6 L1424.5 190.3 L1423.8 192 L1423.2 193.7 L1422.6 195.4 L1422 197.2 L1421.4 198.9 L1420.8 200.6 L1420.2 202.3 L1419.6 204 L1419 205.7 L1418.4 207.5 L1417.8 209.2 L1417.1 210.9 L1416.5 212.6 L1405.1 212.6 L1404.5 210.9 L1403.8 209.2 L1403.2 207.5 L1402.6 205.7 L1402 204 L1401.4 202.3 L1400.8 200.6 L1400.2 198.9 L1399.6 197.2 L1399 195.4 L1398.4 193.7 L1397.8 192 L1397.1 190.3 L1396.5 188.6 L1395.7 186.9 L1394.9 185.1 L1394.2 183.4 L1393.8 181.7 L1393.5 180 L1393.3 178.3 L1393.1 176.6 L1393 174.8 L1392.9 173.1 L1392.8 171.4 L1392.7 169.7 L1392.6 168 L1392.5 166.3 L1392.5 164.6 L1392.4 162.8 L1392.3 161.1 L1392.2 159.4 L1392.1 157.7 L1392 156 L1391.8 154.3 L1391.6 152.5 L1391.4 150.8 L1391.3 149.1 L1391.2 147.4 L1391.1 145.7 L1391 144 L1391 142.2 L1391 140.5 L1391.4 138.8 L1392.9 137.1Z" fill="#665a9e"/>
<path d="M1481.7 107.1 L1481.3 108.8 L1481.1 110.5 L1480.9 112.2 L1480.9 114 L1481 115.7 L1481.3 117.4 L1481.7 119.1 L1482.2 120.8 L1483 122.5 L1484.9 124.3 L1487.4 126 L1490 127.7 L1492.4 129.4 L1495.4 131.1 L1498.4 132.8 L1501 134.6 L1502.9 136.3 L1503.6 138 L1503.4 139.7 L1503 141.4 L1502.5 143.1 L1501.8 144.8 L1500.8 146.6 L1499.5 148.3 L1498 150 L1496.3 151.7 L1494.6 153.4 L1493 155.1 L1491.2 156.9 L1489.3 158.6 L1487.5 160.3 L1486 162 L1484.8 163.7 L1483.6 165.4 L1482.6 167.2 L1481.9 168.9 L1481.7 170.6 L1481.7 172.3 L1481.7 174 L1481.7 175.7 L1481.7 177.5 L1481.7 179.2 L1481.7 180.9 L1481.7 182.6 L1463.9 182.6 L1463.9 180.9 L1463.9 179.2 L1463.9 177.5 L1463.9 175.7 L1463.9 174 L1463.9 172.3 L1463.9 170.6 L1463.7 168.9 L1463 167.2 L1462 165.4 L1460.8 163.7 L1459.6 162 L1458.1 160.3 L1456.3 158.6 L1454.4 156.9 L1452.6 155.1 L1451 153.4 L1449.3 151.7 L1447.6 150 L1446.1 148.3 L1444.8 146.6 L1443.8 144.8 L1443.1 143.1 L1442.6 141.4 L1442.2 139.7 L1442 138 L1442.7 136.3 L1444.6 134.6 L1447.2 132.8 L1450.2 131.1 L1453.2 129.4 L1455.6 127.7 L1458.2 126 L1460.7 124.3 L1462.6 122.5 L1463.4 120.8 L1463.9 119.1 L1464.3 117.4 L1464.6 115.7 L1464.7 114 L1464.7 112.2 L1464.5 110.5 L1464.3 108.8 L1463.9 107.1Z" fill="#d04f27"/>
<line x1="1224.9" y1="107.6" x2="1224.9" y2="137.6" stroke="#151515" stroke-width="2.1"/>
<line x1="1224.9" y1="182.6" x2="1224.9" y2="227.2" stroke="#151515" stroke-width="2.1"/>
<line x1="1220.3" y1="107.6" x2="1229.5" y2="107.6" stroke="#151515" stroke-width="2.3"/>
<line x1="1220.3" y1="227.2" x2="1229.5" y2="227.2" stroke="#151515" stroke-width="2.3"/>
<rect x="1221.6" y="137.6" width="6.6" height="45" fill="none" stroke="#2e2e2e" stroke-width="1.7"/>
<polygon points="1220.2,162.8 1224.9,159.1 1229.6,162.8 1224.9,166.5" fill="#ffffff"/>
<ellipse cx="1224.9" cy="264.5" rx="3.6" ry="2.8" fill="#2e2a28"/>
<line x1="1287.1" y1="152.2" x2="1287.1" y2="189.9" stroke="#151515" stroke-width="2.1"/>
<line x1="1287.1" y1="220.4" x2="1287.1" y2="257.2" stroke="#151515" stroke-width="2.1"/>
<line x1="1282.5" y1="152.2" x2="1291.7" y2="152.2" stroke="#151515" stroke-width="2.3"/>
<line x1="1282.5" y1="257.2" x2="1291.7" y2="257.2" stroke="#151515" stroke-width="2.3"/>
<rect x="1283.8" y="189.9" width="6.6" height="30.5" fill="none" stroke="#2e2e2e" stroke-width="1.7"/>
<polygon points="1282.4,204.2 1287.1,200.5 1291.8,204.2 1287.1,207.9" fill="#ffffff"/>
<ellipse cx="1287.1" cy="137.1" rx="3.6" ry="2.8" fill="#2e2a28"/>
<line x1="1349.1" y1="70.1" x2="1349.1" y2="114.9" stroke="#151515" stroke-width="2.1"/>
<line x1="1349.1" y1="160.3" x2="1349.1" y2="197.7" stroke="#151515" stroke-width="2.1"/>
<line x1="1344.5" y1="70.1" x2="1353.7" y2="70.1" stroke="#151515" stroke-width="2.3"/>
<line x1="1344.5" y1="197.7" x2="1353.7" y2="197.7" stroke="#151515" stroke-width="2.3"/>
<rect x="1345.8" y="114.9" width="6.6" height="45.4" fill="none" stroke="#2e2e2e" stroke-width="1.7"/>
<polygon points="1344.4,138.7 1349.1,135 1353.8,138.7 1349.1,142.4" fill="#ffffff"/>
<line x1="1410.8" y1="137.6" x2="1410.8" y2="144.7" stroke="#151515" stroke-width="2.1"/>
<line x1="1410.8" y1="182.1" x2="1410.8" y2="212.3" stroke="#151515" stroke-width="2.1"/>
<line x1="1406.2" y1="137.6" x2="1415.4" y2="137.6" stroke="#151515" stroke-width="2.3"/>
<line x1="1406.2" y1="212.3" x2="1415.4" y2="212.3" stroke="#151515" stroke-width="2.3"/>
<rect x="1407.5" y="144.7" width="6.6" height="37.4" fill="none" stroke="#2e2e2e" stroke-width="1.7"/>
<line x1="1407.5" y1="159.4" x2="1414.1" y2="159.4" stroke="#2e2e2e" stroke-width="2"/>
<polygon points="1406.1,165.5 1410.8,161.8 1415.5,165.5 1410.8,169.2" fill="#ffffff"/>
<line x1="1472.8" y1="107.6" x2="1472.8" y2="135.5" stroke="#151515" stroke-width="2.1"/>
<line x1="1472.8" y1="154.2" x2="1472.8" y2="182.1" stroke="#151515" stroke-width="2.1"/>
<line x1="1468.2" y1="107.6" x2="1477.4" y2="107.6" stroke="#151515" stroke-width="2.3"/>
<line x1="1468.2" y1="182.1" x2="1477.4" y2="182.1" stroke="#151515" stroke-width="2.3"/>
<rect x="1469.5" y="135.5" width="6.6" height="18.7" fill="none" stroke="#2e2e2e" stroke-width="1.7"/>
<polygon points="1468.1,143.9 1472.8,140.2 1477.5,143.9 1472.8,147.6" fill="#ffffff"/>
<line x1="1188.3" y1="39.4" x2="1188.3" y2="296.4" stroke="#111" stroke-width="2.2"/>
<line x1="1188.3" y1="304.9" x2="1188.3" y2="314.4" stroke="#111" stroke-width="2.2"/>
<line x1="1182.3" y1="298.9" x2="1194.5" y2="295.7" stroke="#111" stroke-width="2.1"/>
<line x1="1182.3" y1="306" x2="1194.5" y2="302.8" stroke="#111" stroke-width="2.1"/>
<line x1="1180.3" y1="39.4" x2="1188.3" y2="39.4" stroke="#111" stroke-width="2.2"/>
<text x="1178.9" y="46.9" font-size="28" text-anchor="end">140</text>
<line x1="1180.3" y1="114.8" x2="1188.3" y2="114.8" stroke="#111" stroke-width="2.2"/>
<text x="1178.9" y="122.3" font-size="28" text-anchor="end">120</text>
<line x1="1180.3" y1="190" x2="1188.3" y2="190" stroke="#111" stroke-width="2.2"/>
<text x="1178.9" y="197.5" font-size="28" text-anchor="end">100</text>
<line x1="1180.3" y1="264.5" x2="1188.3" y2="264.5" stroke="#111" stroke-width="2.2"/>
<text x="1178.9" y="272" font-size="28" text-anchor="end">80</text>
<text x="1178.9" y="320.4" font-size="28" text-anchor="end">0</text>
<line x1="1180.3" y1="313.4" x2="1510.4" y2="313.4" stroke="#111" stroke-width="2.2"/>
<line x1="1224.9" y1="313.4" x2="1224.9" y2="321.9" stroke="#111" stroke-width="2.2"/>
<text x="1224.9" y="346.3" font-size="28" text-anchor="middle" font-style="italic">Osi</text>
<line x1="1287.1" y1="313.4" x2="1287.1" y2="321.9" stroke="#111" stroke-width="2.2"/>
<text x="1287.1" y="346.3" font-size="28" text-anchor="middle" font-style="italic">Osj</text>
<line x1="1349.1" y1="313.4" x2="1349.1" y2="321.9" stroke="#111" stroke-width="2.2"/>
<text x="1349.1" y="346.3" font-size="28" text-anchor="middle" font-style="italic">Or</text>
<line x1="1410.8" y1="313.4" x2="1410.8" y2="321.9" stroke="#111" stroke-width="2.2"/>
<text x="1410.8" y="346.3" font-size="28" text-anchor="middle" font-style="italic">Og</text>
<line x1="1472.8" y1="313.4" x2="1472.8" y2="321.9" stroke="#111" stroke-width="2.2"/>
<text x="1472.8" y="346.3" font-size="28" text-anchor="middle" font-style="italic">Ob</text>
<text x="1224.9" y="97" font-size="28" text-anchor="middle">b</text>
<text x="1287.1" y="125.8" font-size="28" text-anchor="middle">c</text>
<text x="1349.1" y="60.5" font-size="28" text-anchor="middle">a</text>
<text x="1410.8" y="127.2" font-size="28" text-anchor="middle">b</text>
<text x="1472.8" y="97" font-size="28" text-anchor="middle">ab</text>
<text x="1127.2" y="170.3" font-size="28" text-anchor="middle" transform="rotate(-90 1127.2 170.3)">Pair</text>
<text x="1616.7" y="25.9" font-size="35.5" font-weight="bold">d</text>
<path d="M1765.5 88.5 L1765.5 90.2 L1765.6 91.9 L1765.6 93.6 L1765.7 95.2 L1765.8 96.9 L1765.9 98.6 L1766.1 100.3 L1766.2 102 L1766.4 103.7 L1766.6 105.4 L1766.7 107 L1766.9 108.7 L1767.1 110.4 L1767.3 112.1 L1767.6 113.8 L1767.9 115.5 L1768.3 117.2 L1768.7 118.9 L1769.1 120.5 L1769.6 122.2 L1770.1 123.9 L1770.6 125.6 L1771.1 127.3 L1771.6 129 L1772.1 130.7 L1772.6 132.3 L1773.2 134 L1773.7 135.7 L1774.3 137.4 L1774.9 139.1 L1775.6 140.8 L1776.2 142.5 L1776.8 144.2 L1777.4 145.8 L1778.1 147.5 L1778.8 149.2 L1779.5 150.9 L1780.2 152.6 L1781 154.3 L1781.7 156 L1782.4 157.6 L1783.1 159.3 L1783.7 161 L1784.2 162.7 L1784.7 164.4 L1785.2 166.1 L1785.7 167.8 L1786.1 169.4 L1786.6 171.1 L1787 172.8 L1787.3 174.5 L1787.6 176.2 L1787.8 177.9 L1788 179.6 L1788 181.2 L1787.9 182.9 L1787.6 184.6 L1787.2 186.3 L1786.7 188 L1786.2 189.7 L1785.5 191.4 L1784.9 193.1 L1784.2 194.7 L1783.5 196.4 L1782.8 198.1 L1782.1 199.8 L1781.2 201.5 L1780.2 203.2 L1779.2 204.9 L1778.1 206.5 L1777 208.2 L1776 209.9 L1775 211.6 L1774.2 213.3 L1773.5 215 L1772.9 216.7 L1772.3 218.3 L1771.9 220 L1771.4 221.7 L1771 223.4 L1770.6 225.1 L1770.2 226.8 L1769.8 228.5 L1769.5 230.2 L1769.1 231.8 L1768.8 233.5 L1768.5 235.2 L1768.2 236.9 L1767.9 238.6 L1767.6 240.3 L1767.4 242 L1767.1 243.6 L1766.9 245.3 L1766.7 247 L1766.5 248.7 L1766.4 250.4 L1766.2 252.1 L1766.2 253.8 L1766.1 255.4 L1766 257.1 L1765.9 258.8 L1765.9 260.5 L1765.8 262.2 L1765.7 263.9 L1765.6 265.6 L1765.5 267.3 L1765.3 268.9 L1765.2 270.6 L1765 272.3 L1764.8 274 L1762.8 274 L1762.6 272.3 L1762.4 270.6 L1762.3 268.9 L1762.1 267.3 L1762 265.6 L1761.9 263.9 L1761.8 262.2 L1761.7 260.5 L1761.7 258.8 L1761.6 257.1 L1761.5 255.4 L1761.4 253.8 L1761.4 252.1 L1761.2 250.4 L1761.1 248.7 L1760.9 247 L1760.7 245.3 L1760.5 243.6 L1760.2 242 L1760 240.3 L1759.7 238.6 L1759.4 236.9 L1759.1 235.2 L1758.8 233.5 L1758.5 231.8 L1758.1 230.2 L1757.8 228.5 L1757.4 226.8 L1757 225.1 L1756.6 223.4 L1756.2 221.7 L1755.7 220 L1755.3 218.3 L1754.7 216.7 L1754.1 215 L1753.4 213.3 L1752.6 211.6 L1751.6 209.9 L1750.6 208.2 L1749.5 206.5 L1748.4 204.9 L1747.4 203.2 L1746.4 201.5 L1745.5 199.8 L1744.8 198.1 L1744.1 196.4 L1743.4 194.7 L1742.7 193.1 L1742.1 191.4 L1741.4 189.7 L1740.9 188 L1740.4 186.3 L1740 184.6 L1739.7 182.9 L1739.6 181.2 L1739.6 179.6 L1739.8 177.9 L1740 176.2 L1740.3 174.5 L1740.6 172.8 L1741 171.1 L1741.5 169.4 L1741.9 167.8 L1742.4 166.1 L1742.9 164.4 L1743.4 162.7 L1743.9 161 L1744.5 159.3 L1745.2 157.6 L1745.9 156 L1746.6 154.3 L1747.4 152.6 L1748.1 150.9 L1748.8 149.2 L1749.5 147.5 L1750.2 145.8 L1750.8 144.2 L1751.4 142.5 L1752 140.8 L1752.7 139.1 L1753.3 137.4 L1753.9 135.7 L1754.4 134 L1755 132.3 L1755.5 130.7 L1756 129 L1756.5 127.3 L1757 125.6 L1757.5 123.9 L1758 122.2 L1758.5 120.5 L1758.9 118.9 L1759.3 117.2 L1759.7 115.5 L1760 113.8 L1760.3 112.1 L1760.5 110.4 L1760.7 108.7 L1760.9 107 L1761 105.4 L1761.2 103.7 L1761.4 102 L1761.5 100.3 L1761.7 98.6 L1761.8 96.9 L1761.9 95.2 L1762 93.6 L1762 91.9 L1762.1 90.2 L1762.1 88.5Z" fill="#a84d8e"/>
<path d="M1827.8 115.2 L1827.8 116.9 L1827.9 118.6 L1828 120.3 L1828.1 122 L1828.2 123.8 L1828.4 125.5 L1828.6 127.2 L1829.1 128.9 L1829.6 130.6 L1830.3 132.3 L1830.9 134 L1831.7 135.7 L1832.6 137.5 L1833.7 139.2 L1834.8 140.9 L1836 142.6 L1837.3 144.3 L1838.5 146 L1839.8 147.7 L1841.1 149.4 L1842.6 151.1 L1844 152.9 L1845.5 154.6 L1847 156.3 L1848.4 158 L1849.7 159.7 L1851 161.4 L1852.5 163.1 L1854 164.8 L1855.4 166.6 L1856.4 168.3 L1856.9 170 L1856.9 171.7 L1856.8 173.4 L1856.7 175.1 L1856.5 176.8 L1856.3 178.5 L1856.1 180.3 L1855.7 182 L1855 183.7 L1854.1 185.4 L1852.9 187.1 L1851.7 188.8 L1850.5 190.5 L1849.2 192.2 L1847.8 193.9 L1846.1 195.7 L1844.5 197.4 L1843 199.1 L1841.8 200.8 L1840.8 202.5 L1840.1 204.2 L1839.4 205.9 L1838.9 207.6 L1838.6 209.4 L1838.3 211.1 L1838.1 212.8 L1838 214.5 L1837.9 216.2 L1813.7 216.2 L1813.6 214.5 L1813.5 212.8 L1813.3 211.1 L1813 209.4 L1812.7 207.6 L1812.2 205.9 L1811.5 204.2 L1810.8 202.5 L1809.8 200.8 L1808.6 199.1 L1807.1 197.4 L1805.5 195.7 L1803.8 193.9 L1802.4 192.2 L1801.1 190.5 L1799.9 188.8 L1798.7 187.1 L1797.5 185.4 L1796.6 183.7 L1795.9 182 L1795.5 180.3 L1795.3 178.5 L1795.1 176.8 L1794.9 175.1 L1794.8 173.4 L1794.7 171.7 L1794.7 170 L1795.2 168.3 L1796.2 166.6 L1797.6 164.8 L1799.1 163.1 L1800.6 161.4 L1801.9 159.7 L1803.2 158 L1804.6 156.3 L1806.1 154.6 L1807.6 152.9 L1809 151.1 L1810.5 149.4 L1811.8 147.7 L1813.1 146 L1814.3 144.3 L1815.6 142.6 L1816.8 140.9 L1817.9 139.2 L1819 137.5 L1819.9 135.7 L1820.7 134 L1821.3 132.3 L1822 130.6 L1822.5 128.9 L1823 127.2 L1823.2 125.5 L1823.4 123.8 L1823.5 122 L1823.6 120.3 L1823.7 118.6 L1823.8 116.9 L1823.8 115.2Z" fill="#629b5b"/>
<path d="M1892.6 132.5 L1894 134.2 L1895.3 135.9 L1896.6 137.6 L1897.9 139.3 L1899.1 141 L1900.4 142.7 L1901.6 144.4 L1902.8 146.1 L1903.9 147.8 L1905.2 149.5 L1906.4 151.2 L1907.6 152.9 L1908.7 154.6 L1909.8 156.3 L1910.7 158 L1911.4 159.7 L1912.1 161.4 L1912.6 163.1 L1913.2 164.8 L1913.7 166.5 L1914 168.2 L1914.2 169.9 L1914.1 171.6 L1913.7 173.3 L1913 175 L1912.1 176.7 L1911.2 178.4 L1910.2 180.1 L1909.3 181.8 L1908.1 183.5 L1906.8 185.2 L1905.4 186.8 L1904.2 188.5 L1903.3 190.2 L1902.7 191.9 L1902.2 193.6 L1901.8 195.3 L1901.5 197 L1901.2 198.7 L1900.8 200.4 L1900.5 202.1 L1900.2 203.8 L1899.8 205.5 L1899.5 207.2 L1899.1 208.9 L1898.8 210.6 L1898.4 212.3 L1898.1 214 L1897.7 215.7 L1897.4 217.4 L1897 219.1 L1896.7 220.8 L1896.3 222.5 L1896 224.2 L1895.6 225.9 L1895.3 227.6 L1894.9 229.3 L1894.6 231 L1894.3 232.7 L1894 234.4 L1893.7 236.1 L1893.4 237.8 L1881.4 237.8 L1881.1 236.1 L1880.8 234.4 L1880.5 232.7 L1880.2 231 L1879.9 229.3 L1879.5 227.6 L1879.2 225.9 L1878.8 224.2 L1878.5 222.5 L1878.1 220.8 L1877.8 219.1 L1877.4 217.4 L1877.1 215.7 L1876.7 214 L1876.4 212.3 L1876 210.6 L1875.7 208.9 L1875.3 207.2 L1875 205.5 L1874.6 203.8 L1874.3 202.1 L1874 200.4 L1873.6 198.7 L1873.3 197 L1873 195.3 L1872.6 193.6 L1872.1 191.9 L1871.5 190.2 L1870.6 188.5 L1869.4 186.8 L1868 185.2 L1866.7 183.5 L1865.5 181.8 L1864.6 180.1 L1863.6 178.4 L1862.7 176.7 L1861.8 175 L1861.1 173.3 L1860.7 171.6 L1860.6 169.9 L1860.8 168.2 L1861.1 166.5 L1861.6 164.8 L1862.2 163.1 L1862.7 161.4 L1863.4 159.7 L1864.1 158 L1865 156.3 L1866.1 154.6 L1867.2 152.9 L1868.4 151.2 L1869.6 149.5 L1870.9 147.8 L1872 146.1 L1873.2 144.4 L1874.4 142.7 L1875.7 141 L1876.9 139.3 L1878.2 137.6 L1879.5 135.9 L1880.8 134.2 L1882.2 132.5Z" fill="#6593c2"/>
<path d="M1972.9 139.8 L1974.9 141.5 L1976.2 143.2 L1977 145 L1977.6 146.7 L1978 148.4 L1978.1 150.1 L1978 151.8 L1977.8 153.6 L1977.5 155.3 L1977.2 157 L1976.8 158.7 L1976.3 160.4 L1975.6 162.1 L1974.6 163.9 L1973.4 165.6 L1972.1 167.3 L1970.8 169 L1969.6 170.7 L1968.4 172.5 L1967.4 174.2 L1966.4 175.9 L1965.3 177.6 L1964.3 179.3 L1963.4 181.1 L1962.5 182.8 L1961.6 184.5 L1960.8 186.2 L1959.9 187.9 L1959.1 189.6 L1958.4 191.4 L1957.8 193.1 L1957.4 194.8 L1957 196.5 L1956.6 198.2 L1956.3 200 L1956 201.7 L1955.8 203.4 L1955.6 205.1 L1955.6 206.8 L1955.6 208.6 L1955.6 210.3 L1955.6 212 L1955.6 213.7 L1955.6 215.4 L1955.6 217.1 L1955.6 218.9 L1955.6 220.6 L1955.6 222.3 L1943.6 222.3 L1943.6 220.6 L1943.6 218.9 L1943.6 217.1 L1943.6 215.4 L1943.6 213.7 L1943.6 212 L1943.6 210.3 L1943.6 208.6 L1943.6 206.8 L1943.6 205.1 L1943.4 203.4 L1943.2 201.7 L1942.9 200 L1942.6 198.2 L1942.2 196.5 L1941.8 194.8 L1941.4 193.1 L1940.8 191.4 L1940.1 189.6 L1939.3 187.9 L1938.4 186.2 L1937.6 184.5 L1936.7 182.8 L1935.8 181.1 L1934.9 179.3 L1933.9 177.6 L1932.8 175.9 L1931.8 174.2 L1930.8 172.5 L1929.6 170.7 L1928.4 169 L1927.1 167.3 L1925.8 165.6 L1924.6 163.9 L1923.6 162.1 L1922.9 160.4 L1922.4 158.7 L1922 157 L1921.7 155.3 L1921.4 153.6 L1921.2 151.8 L1921.1 150.1 L1921.2 148.4 L1921.6 146.7 L1922.2 145 L1923 143.2 L1924.3 141.5 L1926.3 139.8Z" fill="#665a9e"/>
<path d="M2028.1 134.2 L2028.1 135.9 L2028 137.6 L2027.9 139.3 L2027.8 141 L2027.6 142.7 L2027.4 144.5 L2027.2 146.2 L2026.9 147.9 L2026.5 149.6 L2025.9 151.3 L2025.4 153 L2024.9 154.7 L2024.6 156.4 L2024.5 158.1 L2024.3 159.8 L2024.2 161.5 L2024.1 163.2 L2024 165 L2023.9 166.7 L2023.9 168.4 L2023.8 170.1 L2023.8 171.8 L2023.8 173.5 L2023.9 175.2 L2024 176.9 L2024.1 178.6 L2024.3 180.3 L2024.5 182 L2024.7 183.8 L2024.9 185.5 L2025.2 187.2 L2025.4 188.9 L2025.7 190.6 L2026.1 192.3 L2026.6 194 L2027.1 195.7 L2027.5 197.4 L2027.9 199.1 L2028.1 200.8 L2028.1 202.5 L2028.1 204.3 L2028.1 206 L2028.1 207.7 L2028.1 209.4 L2028.1 211.1 L2028.1 212.8 L1995.3 212.8 L1995.3 211.1 L1995.3 209.4 L1995.3 207.7 L1995.3 206 L1995.3 204.3 L1995.3 202.5 L1995.3 200.8 L1995.5 199.1 L1995.9 197.4 L1996.3 195.7 L1996.8 194 L1997.3 192.3 L1997.7 190.6 L1998 188.9 L1998.2 187.2 L1998.5 185.5 L1998.7 183.8 L1998.9 182 L1999.1 180.3 L1999.3 178.6 L1999.4 176.9 L1999.5 175.2 L1999.6 173.5 L1999.6 171.8 L1999.6 170.1 L1999.5 168.4 L1999.5 166.7 L1999.4 165 L1999.3 163.2 L1999.2 161.5 L1999.1 159.8 L1998.9 158.1 L1998.8 156.4 L1998.5 154.7 L1998 153 L1997.5 151.3 L1996.9 149.6 L1996.5 147.9 L1996.2 146.2 L1996 144.5 L1995.8 142.7 L1995.6 141 L1995.5 139.3 L1995.4 137.6 L1995.3 135.9 L1995.3 134.2Z" fill="#d04f27"/>
<line x1="1763.8" y1="117.3" x2="1763.8" y2="160.6" stroke="#151515" stroke-width="2.1"/>
<line x1="1763.8" y1="198.6" x2="1763.8" y2="249" stroke="#151515" stroke-width="2.1"/>
<line x1="1759.2" y1="117.3" x2="1768.4" y2="117.3" stroke="#151515" stroke-width="2.3"/>
<line x1="1759.2" y1="249" x2="1768.4" y2="249" stroke="#151515" stroke-width="2.3"/>
<rect x="1760.5" y="160.6" width="6.6" height="38" fill="none" stroke="#2e2e2e" stroke-width="1.7"/>
<polygon points="1759.1,180 1763.8,176.3 1768.5,180 1763.8,183.7" fill="#ffffff"/>
<ellipse cx="1763.8" cy="86.2" rx="3.6" ry="2.8" fill="#2e2a28"/>
<ellipse cx="1763.8" cy="100" rx="3.6" ry="2.8" fill="#2e2a28"/>
<ellipse cx="1763.8" cy="103.2" rx="3.6" ry="2.8" fill="#2e2a28"/>
<ellipse cx="1763.8" cy="266.3" rx="3.6" ry="2.8" fill="#2e2a28"/>
<ellipse cx="1763.8" cy="276.1" rx="3.6" ry="2.8" fill="#2e2a28"/>
<line x1="1825.8" y1="140.8" x2="1825.8" y2="166.7" stroke="#151515" stroke-width="2.1"/>
<line x1="1825.8" y1="192.6" x2="1825.8" y2="215.9" stroke="#151515" stroke-width="2.1"/>
<line x1="1821.2" y1="140.8" x2="1830.4" y2="140.8" stroke="#151515" stroke-width="2.3"/>
<line x1="1821.2" y1="215.9" x2="1830.4" y2="215.9" stroke="#151515" stroke-width="2.3"/>
<rect x="1822.5" y="166.7" width="6.6" height="25.9" fill="none" stroke="#2e2e2e" stroke-width="1.7"/>
<polygon points="1821.1,179.1 1825.8,175.4 1830.5,179.1 1825.8,182.8" fill="#ffffff"/>
<ellipse cx="1825.8" cy="113.5" rx="3.6" ry="2.8" fill="#2e2a28"/>
<line x1="1887.4" y1="132.8" x2="1887.4" y2="165.6" stroke="#151515" stroke-width="2.1"/>
<line x1="1887.4" y1="199.5" x2="1887.4" y2="237.5" stroke="#151515" stroke-width="2.1"/>
<line x1="1882.8" y1="132.8" x2="1892" y2="132.8" stroke="#151515" stroke-width="2.3"/>
<line x1="1882.8" y1="237.5" x2="1892" y2="237.5" stroke="#151515" stroke-width="2.3"/>
<rect x="1884.1" y="165.6" width="6.6" height="33.9" fill="none" stroke="#2e2e2e" stroke-width="1.7"/>
<line x1="1884.1" y1="174.8" x2="1890.7" y2="174.8" stroke="#2e2e2e" stroke-width="2"/>
<polygon points="1882.7,181.4 1887.4,177.7 1892.1,181.4 1887.4,185.1" fill="#ffffff"/>
<line x1="1949.6" y1="140.8" x2="1949.6" y2="146.7" stroke="#151515" stroke-width="2.1"/>
<line x1="1949.6" y1="175.3" x2="1949.6" y2="196.9" stroke="#151515" stroke-width="2.1"/>
<line x1="1945" y1="140.8" x2="1954.2" y2="140.8" stroke="#151515" stroke-width="2.3"/>
<line x1="1945" y1="196.9" x2="1954.2" y2="196.9" stroke="#151515" stroke-width="2.3"/>
<rect x="1946.3" y="146.7" width="6.6" height="28.6" fill="none" stroke="#2e2e2e" stroke-width="1.7"/>
<line x1="1946.3" y1="159.8" x2="1952.9" y2="159.8" stroke="#2e2e2e" stroke-width="2"/>
<polygon points="1944.9,166.7 1949.6,163 1954.3,166.7 1949.6,170.4" fill="#ffffff"/>
<ellipse cx="1949.6" cy="221.9" rx="3.6" ry="2.8" fill="#2e2a28"/>
<line x1="2011.7" y1="135.1" x2="2011.7" y2="140.8" stroke="#151515" stroke-width="2.1"/>
<line x1="2011.7" y1="202.4" x2="2011.7" y2="212.3" stroke="#151515" stroke-width="2.1"/>
<line x1="2007.1" y1="135.1" x2="2016.3" y2="135.1" stroke="#151515" stroke-width="2.3"/>
<line x1="2007.1" y1="212.3" x2="2016.3" y2="212.3" stroke="#151515" stroke-width="2.3"/>
<rect x="2008.4" y="140.8" width="6.6" height="61.6" fill="none" stroke="#2e2e2e" stroke-width="1.7"/>
<polygon points="2007,171.9 2011.7,168.2 2016.4,171.9 2011.7,175.6" fill="#ffffff"/>
<line x1="1726.7" y1="39.7" x2="1726.7" y2="296.6" stroke="#111" stroke-width="2.2"/>
<line x1="1726.7" y1="305.1" x2="1726.7" y2="314.6" stroke="#111" stroke-width="2.2"/>
<line x1="1720.7" y1="299.1" x2="1732.9" y2="295.9" stroke="#111" stroke-width="2.1"/>
<line x1="1720.7" y1="306.2" x2="1732.9" y2="303" stroke="#111" stroke-width="2.1"/>
<line x1="1718.7" y1="39.7" x2="1726.7" y2="39.7" stroke="#111" stroke-width="2.2"/>
<text x="1717.3" y="47.2" font-size="28" text-anchor="end">240</text>
<line x1="1718.7" y1="117" x2="1726.7" y2="117" stroke="#111" stroke-width="2.2"/>
<text x="1717.3" y="124.5" font-size="28" text-anchor="end">200</text>
<line x1="1718.7" y1="194.5" x2="1726.7" y2="194.5" stroke="#111" stroke-width="2.2"/>
<text x="1717.3" y="202" font-size="28" text-anchor="end">160</text>
<line x1="1718.7" y1="272" x2="1726.7" y2="272" stroke="#111" stroke-width="2.2"/>
<text x="1717.3" y="279.5" font-size="28" text-anchor="end">120</text>
<text x="1717.3" y="320.6" font-size="28" text-anchor="end">0</text>
<line x1="1718.7" y1="313.6" x2="2049" y2="313.6" stroke="#111" stroke-width="2.2"/>
<line x1="1763.8" y1="313.6" x2="1763.8" y2="322.1" stroke="#111" stroke-width="2.2"/>
<text x="1763.8" y="346.3" font-size="28" text-anchor="middle" font-style="italic">Osi</text>
<line x1="1825.8" y1="313.6" x2="1825.8" y2="322.1" stroke="#111" stroke-width="2.2"/>
<text x="1825.8" y="346.3" font-size="28" text-anchor="middle" font-style="italic">Osj</text>
<line x1="1887.4" y1="313.6" x2="1887.4" y2="322.1" stroke="#111" stroke-width="2.2"/>
<text x="1887.4" y="346.3" font-size="28" text-anchor="middle" font-style="italic">Or</text>
<line x1="1949.6" y1="313.6" x2="1949.6" y2="322.1" stroke="#111" stroke-width="2.2"/>
<text x="1949.6" y="346.3" font-size="28" text-anchor="middle" font-style="italic">Og</text>
<line x1="2011.7" y1="313.6" x2="2011.7" y2="322.1" stroke="#111" stroke-width="2.2"/>
<text x="2011.7" y="346.3" font-size="28" text-anchor="middle" font-style="italic">Ob</text>
<text x="1763.8" y="75.9" font-size="28" text-anchor="middle">a</text>
<text x="1825.8" y="102.8" font-size="28" text-anchor="middle">a</text>
<text x="1887.4" y="122.5" font-size="28" text-anchor="middle">a</text>
<text x="1949.6" y="130.8" font-size="28" text-anchor="middle">a</text>
<text x="2011.7" y="125.3" font-size="28" text-anchor="middle">a</text>
<text x="1664.5" y="169.4" font-size="28" text-anchor="middle" transform="rotate(-90 1664.5 169.4)">Cluster</text>
<text x="-0.3" y="405.3" font-size="35.5" font-weight="bold">e</text>
<rect x="404.8" y="409.2" width="40.4" height="40.5" fill="#c33a32"/>
<rect x="445.2" y="409.2" width="40" height="40.5" fill="#869cca"/>
<rect x="485.2" y="409.2" width="40.1" height="40.5" fill="#c5d0e8"/>
<rect x="525.3" y="409.2" width="40" height="40.5" fill="#e8ecf6"/>
<rect x="565.3" y="409.2" width="40.1" height="40.5" fill="#fdf9f9"/>
<rect x="404.8" y="449.4" width="40.4" height="40.5" fill="#c33a32"/>
<rect x="445.2" y="449.4" width="40" height="40.5" fill="#a3b3da"/>
<rect x="485.2" y="449.4" width="40.1" height="40.5" fill="#b9c6e5"/>
<rect x="525.3" y="449.4" width="40" height="40.5" fill="#e9edf7"/>
<rect x="565.3" y="449.4" width="40.1" height="40.5" fill="#e2e8f4"/>
<rect x="404.8" y="489.5" width="40.4" height="40.5" fill="#c33a32"/>
<rect x="445.2" y="489.5" width="40" height="40.5" fill="#fefcfc"/>
<rect x="485.2" y="489.5" width="40.1" height="40.5" fill="#d9def1"/>
<rect x="525.3" y="489.5" width="40" height="40.5" fill="#cdd8ee"/>
<rect x="565.3" y="489.5" width="40.1" height="40.5" fill="#8da2cf"/>
<rect x="404.8" y="529.7" width="40.4" height="40.5" fill="#c33a32"/>
<rect x="445.2" y="529.7" width="40" height="40.5" fill="#f2f4fa"/>
<rect x="485.2" y="529.7" width="40.1" height="40.5" fill="#e0e6f4"/>
<rect x="525.3" y="529.7" width="40" height="40.5" fill="#869ccb"/>
<rect x="565.3" y="529.7" width="40.1" height="40.5" fill="#d8def1"/>
<rect x="404.8" y="569.9" width="40.4" height="40.5" fill="#cc4d4c"/>
<rect x="445.2" y="569.9" width="40" height="40.5" fill="#fbeaea"/>
<rect x="485.2" y="569.9" width="40.1" height="40.5" fill="#fce9e9"/>
<rect x="525.3" y="569.9" width="40" height="40.5" fill="#8399c8"/>
<rect x="565.3" y="569.9" width="40.1" height="40.5" fill="#a8b5da"/>
<rect x="404.8" y="610" width="40.4" height="40.5" fill="#c43c35"/>
<rect x="445.2" y="610" width="40" height="40.5" fill="#fbe6e6"/>
<rect x="485.2" y="610" width="40.1" height="40.5" fill="#d3dbef"/>
<rect x="525.3" y="610" width="40" height="40.5" fill="#8ea3cf"/>
<rect x="565.3" y="610" width="40.1" height="40.5" fill="#c0cce6"/>
<rect x="404.8" y="650.2" width="40.4" height="40.5" fill="#c8403a"/>
<rect x="445.2" y="650.2" width="40" height="40.5" fill="#f8dcde"/>
<rect x="485.2" y="650.2" width="40.1" height="40.5" fill="#cfd8ee"/>
<rect x="525.3" y="650.2" width="40" height="40.5" fill="#8ba1ce"/>
<rect x="565.3" y="650.2" width="40.1" height="40.5" fill="#c0cbe6"/>
<rect x="404.8" y="690.4" width="40.4" height="40.5" fill="#c3382f"/>
<rect x="445.2" y="690.4" width="40" height="40.5" fill="#b9c6e6"/>
<rect x="485.2" y="690.4" width="40.1" height="40.5" fill="#95a8d3"/>
<rect x="525.3" y="690.4" width="40" height="40.5" fill="#f2f4fa"/>
<rect x="565.3" y="690.4" width="40.1" height="40.5" fill="#f1f3f9"/>
<rect x="404.8" y="730.6" width="40.4" height="40.5" fill="#cb4b4a"/>
<rect x="445.2" y="730.6" width="40" height="40.5" fill="#8097c8"/>
<rect x="485.2" y="730.6" width="40.1" height="40.5" fill="#adbbe0"/>
<rect x="525.3" y="730.6" width="40" height="40.5" fill="#fdeaea"/>
<rect x="565.3" y="730.6" width="40.1" height="40.5" fill="#fce8e8"/>
<rect x="404.8" y="770.7" width="40.4" height="40.5" fill="#c3382f"/>
<rect x="445.2" y="770.7" width="40" height="40.5" fill="#cdd7ee"/>
<rect x="485.2" y="770.7" width="40.1" height="40.5" fill="#8ca1ce"/>
<rect x="525.3" y="770.7" width="40" height="40.5" fill="#dae0f2"/>
<rect x="565.3" y="770.7" width="40.1" height="40.5" fill="#f9fafd"/>
<rect x="404.8" y="810.9" width="40.4" height="40.5" fill="#fde0e1"/>
<rect x="445.2" y="810.9" width="40" height="40.5" fill="#7d95c6"/>
<rect x="485.2" y="810.9" width="40.1" height="40.5" fill="#8ea2cf"/>
<rect x="525.3" y="810.9" width="40" height="40.5" fill="#e58586"/>
<rect x="565.3" y="810.9" width="40.1" height="40.5" fill="#eda1a3"/>
<rect x="404.8" y="851.1" width="40.4" height="40.5" fill="#f8cfd2"/>
<rect x="445.2" y="851.1" width="40" height="40.5" fill="#6f88c2"/>
<rect x="485.2" y="851.1" width="40.1" height="40.5" fill="#a4b4da"/>
<rect x="525.3" y="851.1" width="40" height="40.5" fill="#dc6a6b"/>
<rect x="565.3" y="851.1" width="40.1" height="40.5" fill="#f8d6d8"/>
<rect x="404.8" y="891.2" width="40.4" height="40.5" fill="#d96a69"/>
<rect x="445.2" y="891.2" width="40" height="40.5" fill="#506fb4"/>
<rect x="485.2" y="891.2" width="40.1" height="40.5" fill="#dbe0f2"/>
<rect x="525.3" y="891.2" width="40" height="40.5" fill="#fde5e6"/>
<rect x="565.3" y="891.2" width="40.1" height="40.5" fill="#f9d6d8"/>
<rect x="404.8" y="931.4" width="40.4" height="40.5" fill="#d05555"/>
<rect x="445.2" y="931.4" width="40" height="40.5" fill="#f5b8bc"/>
<rect x="485.2" y="931.4" width="40.1" height="40.5" fill="#e3e8f5"/>
<rect x="525.3" y="931.4" width="40" height="40.5" fill="#97a9d4"/>
<rect x="565.3" y="931.4" width="40.1" height="40.5" fill="#97a9d4"/>
<rect x="404.8" y="971.6" width="40.4" height="40.5" fill="#c33a30"/>
<rect x="445.2" y="971.6" width="40" height="40.5" fill="#b6c4e6"/>
<rect x="485.2" y="971.6" width="40.1" height="40.5" fill="#fdf2f3"/>
<rect x="525.3" y="971.6" width="40" height="40.5" fill="#b6c4e6"/>
<rect x="565.3" y="971.6" width="40.1" height="40.5" fill="#b6c4e6"/>
<rect x="404.8" y="1011.8" width="40.4" height="40.5" fill="#bfcae6"/>
<rect x="445.2" y="1011.8" width="40" height="40.5" fill="#a0b1db"/>
<rect x="485.2" y="1011.8" width="40.1" height="40.5" fill="#a0b1db"/>
<rect x="525.3" y="1011.8" width="40" height="40.5" fill="#e27c7e"/>
<rect x="565.3" y="1011.8" width="40.1" height="40.5" fill="#e27c7e"/>
<rect x="404.8" y="1051.9" width="40.4" height="40.5" fill="#c0cde8"/>
<rect x="445.2" y="1051.9" width="40" height="40.5" fill="#9fb1da"/>
<rect x="485.2" y="1051.9" width="40.1" height="40.5" fill="#a1b2dc"/>
<rect x="525.3" y="1051.9" width="40" height="40.5" fill="#d35656"/>
<rect x="565.3" y="1051.9" width="40.1" height="40.5" fill="#eea8aa"/>
<rect x="404.8" y="1092.1" width="40.4" height="40.5" fill="#e9edf7"/>
<rect x="445.2" y="1092.1" width="40" height="40.5" fill="#6782bf"/>
<rect x="485.2" y="1092.1" width="40.1" height="40.5" fill="#c8d3ed"/>
<rect x="525.3" y="1092.1" width="40" height="40.5" fill="#d45b5b"/>
<rect x="565.3" y="1092.1" width="40.1" height="40.5" fill="#f4bcc0"/>
<rect x="404.8" y="1132.3" width="40.4" height="40.5" fill="#bccae8"/>
<rect x="445.2" y="1132.3" width="40" height="40.5" fill="#8399c9"/>
<rect x="485.2" y="1132.3" width="40.1" height="40.5" fill="#c0cce8"/>
<rect x="525.3" y="1132.3" width="40" height="40.5" fill="#ea8c8f"/>
<rect x="565.3" y="1132.3" width="40.1" height="40.5" fill="#e07677"/>
<rect x="404.8" y="1172.4" width="40.4" height="40.5" fill="#b6c4e6"/>
<rect x="445.2" y="1172.4" width="40" height="40.5" fill="#9aacd8"/>
<rect x="485.2" y="1172.4" width="40.1" height="40.5" fill="#a7b7dd"/>
<rect x="525.3" y="1172.4" width="40" height="40.5" fill="#f0a6a9"/>
<rect x="565.3" y="1172.4" width="40.1" height="40.5" fill="#d65c5d"/>
<line x1="237" y1="409.2" x2="605.4" y2="409.2" stroke="#111" stroke-width="2"/>
<line x1="237" y1="449.4" x2="605.4" y2="449.4" stroke="#111" stroke-width="2"/>
<line x1="237" y1="489.5" x2="605.4" y2="489.5" stroke="#111" stroke-width="2"/>
<line x1="237" y1="529.7" x2="605.4" y2="529.7" stroke="#111" stroke-width="2"/>
<line x1="237" y1="569.9" x2="605.4" y2="569.9" stroke="#111" stroke-width="2"/>
<line x1="237" y1="610" x2="605.4" y2="610" stroke="#111" stroke-width="2"/>
<line x1="237" y1="650.2" x2="605.4" y2="650.2" stroke="#111" stroke-width="2"/>
<line x1="237" y1="690.4" x2="605.4" y2="690.4" stroke="#111" stroke-width="2"/>
<line x1="237" y1="730.6" x2="605.4" y2="730.6" stroke="#111" stroke-width="2"/>
<line x1="237" y1="770.7" x2="605.4" y2="770.7" stroke="#111" stroke-width="2"/>
<line x1="237" y1="810.9" x2="605.4" y2="810.9" stroke="#111" stroke-width="2"/>
<line x1="237" y1="851.1" x2="605.4" y2="851.1" stroke="#111" stroke-width="2"/>
<line x1="237" y1="891.2" x2="605.4" y2="891.2" stroke="#111" stroke-width="2"/>
<line x1="237" y1="931.4" x2="605.4" y2="931.4" stroke="#111" stroke-width="2"/>
<line x1="237" y1="971.6" x2="605.4" y2="971.6" stroke="#111" stroke-width="2"/>
<line x1="237" y1="1011.8" x2="605.4" y2="1011.8" stroke="#111" stroke-width="2"/>
<line x1="237" y1="1051.9" x2="605.4" y2="1051.9" stroke="#111" stroke-width="2"/>
<line x1="237" y1="1092.1" x2="605.4" y2="1092.1" stroke="#111" stroke-width="2"/>
<line x1="237" y1="1132.3" x2="605.4" y2="1132.3" stroke="#111" stroke-width="2"/>
<line x1="237" y1="1172.4" x2="605.4" y2="1172.4" stroke="#111" stroke-width="2"/>
<line x1="237" y1="1212.6" x2="605.4" y2="1212.6" stroke="#111" stroke-width="2"/>
<line x1="237" y1="408.2" x2="237" y2="1213.6" stroke="#111" stroke-width="2"/>
<line x1="279.1" y1="408.2" x2="279.1" y2="1213.6" stroke="#111" stroke-width="2"/>
<line x1="321.1" y1="408.2" x2="321.1" y2="1213.6" stroke="#111" stroke-width="2"/>
<line x1="363" y1="408.2" x2="363" y2="1213.6" stroke="#111" stroke-width="2"/>
<line x1="404.8" y1="408.2" x2="404.8" y2="1213.6" stroke="#111" stroke-width="2"/>
<line x1="445.2" y1="408.2" x2="445.2" y2="1213.6" stroke="#111" stroke-width="2"/>
<line x1="485.2" y1="408.2" x2="485.2" y2="1213.6" stroke="#111" stroke-width="2"/>
<line x1="525.3" y1="408.2" x2="525.3" y2="1213.6" stroke="#111" stroke-width="2"/>
<line x1="565.3" y1="408.2" x2="565.3" y2="1213.6" stroke="#111" stroke-width="2"/>
<line x1="605.4" y1="408.2" x2="605.4" y2="1213.6" stroke="#111" stroke-width="2"/>
<text x="224" y="437.1" font-size="28" text-anchor="end">Jacalin</text>
<text x="258.1" y="441.8" font-size="28" text-anchor="middle">**</text>
<text x="300.1" y="441.8" font-size="28" text-anchor="middle">**</text>
<text x="383.9" y="441.8" font-size="28" text-anchor="middle">**</text>
<text x="224" y="477.3" font-size="28" text-anchor="end">zf-BED</text>
<text x="258.1" y="482" font-size="28" text-anchor="middle">**</text>
<text x="300.1" y="482" font-size="28" text-anchor="middle">**</text>
<text x="224" y="517.4" font-size="28" text-anchor="end">PP2C</text>
<text x="258.1" y="522.1" font-size="28" text-anchor="middle">**</text>
<text x="300.1" y="522.1" font-size="28" text-anchor="middle">**</text>
<text x="383.9" y="522.1" font-size="28" text-anchor="middle">*</text>
<text x="224" y="557.6" font-size="28" text-anchor="end">zf-RING_2</text>
<text x="258.1" y="562.3" font-size="28" text-anchor="middle">**</text>
<text x="224" y="597.8" font-size="28" text-anchor="end">PCC</text>
<text x="258.1" y="602.5" font-size="28" text-anchor="middle">**</text>
<text x="300.1" y="602.5" font-size="28" text-anchor="middle">**</text>
<text x="342.1" y="602.5" font-size="28" text-anchor="middle">*</text>
<text x="224" y="637.9" font-size="28" text-anchor="end">Chlorophyllase2</text>
<text x="258.1" y="642.6" font-size="28" text-anchor="middle">**</text>
<text x="300.1" y="642.6" font-size="28" text-anchor="middle">*</text>
<text x="342.1" y="642.6" font-size="28" text-anchor="middle">**</text>
<text x="383.9" y="642.6" font-size="28" text-anchor="middle">**</text>
<text x="224" y="678.1" font-size="28" text-anchor="end">VQ</text>
<text x="258.1" y="682.8" font-size="28" text-anchor="middle">**</text>
<text x="300.1" y="682.8" font-size="28" text-anchor="middle">**</text>
<text x="383.9" y="682.8" font-size="28" text-anchor="middle">**</text>
<text x="224" y="718.3" font-size="28" text-anchor="end">DUF220</text>
<text x="258.1" y="723" font-size="28" text-anchor="middle">**</text>
<text x="224" y="758.4" font-size="28" text-anchor="end">DFP</text>
<text x="258.1" y="763.1" font-size="28" text-anchor="middle">**</text>
<text x="300.1" y="763.1" font-size="28" text-anchor="middle">**</text>
<text x="342.1" y="763.1" font-size="28" text-anchor="middle">**</text>
<text x="383.9" y="763.1" font-size="28" text-anchor="middle">**</text>
<text x="224" y="798.6" font-size="28" text-anchor="end">ARS2</text>
<text x="258.1" y="803.3" font-size="28" text-anchor="middle">**</text>
<text x="300.1" y="803.3" font-size="28" text-anchor="middle">**</text>
<text x="342.1" y="803.3" font-size="28" text-anchor="middle">*</text>
<text x="224" y="838.8" font-size="28" text-anchor="end">DUF3681</text>
<text x="258.1" y="843.5" font-size="28" text-anchor="middle">**</text>
<text x="224" y="879" font-size="28" text-anchor="end">Myb_DNA-bind_4</text>
<text x="258.1" y="883.7" font-size="28" text-anchor="middle">**</text>
<text x="300.1" y="883.7" font-size="28" text-anchor="middle">**</text>
<text x="383.9" y="883.7" font-size="28" text-anchor="middle">**</text>
<text x="224" y="919.1" font-size="28" text-anchor="end">NAM</text>
<text x="258.1" y="923.8" font-size="28" text-anchor="middle">**</text>
<text x="342.1" y="923.8" font-size="28" text-anchor="middle">**</text>
<text x="224" y="959.3" font-size="28" text-anchor="end">RRM_1</text>
<text x="258.1" y="964" font-size="28" text-anchor="middle">**</text>
<text x="300.1" y="964" font-size="28" text-anchor="middle">**</text>
<text x="383.9" y="964" font-size="28" text-anchor="middle">*</text>
<text x="224" y="999.5" font-size="28" text-anchor="end">Cyclin_N</text>
<text x="258.1" y="1004.2" font-size="28" text-anchor="middle">**</text>
<text x="300.1" y="1004.2" font-size="28" text-anchor="middle">**</text>
<text x="383.9" y="1004.2" font-size="28" text-anchor="middle">**</text>
<text x="224" y="1039.6" font-size="28" text-anchor="end">DUF4283</text>
<text x="258.1" y="1044.3" font-size="28" text-anchor="middle">**</text>
<text x="224" y="1079.8" font-size="28" text-anchor="end">F-box domain</text>
<text x="258.1" y="1084.5" font-size="28" text-anchor="middle">**</text>
<text x="224" y="1120" font-size="28" text-anchor="end">DUF4371</text>
<text x="258.1" y="1124.7" font-size="28" text-anchor="middle">**</text>
<text x="383.9" y="1124.7" font-size="28" text-anchor="middle">*</text>
<text x="224" y="1160.1" font-size="28" text-anchor="end">GST_N</text>
<text x="258.1" y="1164.8" font-size="28" text-anchor="middle">**</text>
<text x="342.1" y="1164.8" font-size="28" text-anchor="middle">**</text>
<text x="383.9" y="1164.8" font-size="28" text-anchor="middle">*</text>
<text x="224" y="1200.3" font-size="28" text-anchor="end">Myb_DNA-bind_3</text>
<text x="258.1" y="1205" font-size="28" text-anchor="middle">**</text>
<rect x="606.2" y="416.3" width="99.2" height="26.2" fill="#6699ca"/>
<text x="711.4" y="441.3" font-size="28">979</text>
<rect x="606.2" y="456.5" width="77.2" height="26.2" fill="#6699ca"/>
<text x="697" y="481.5" font-size="28">398</text>
<rect x="606.2" y="496.6" width="50.2" height="26.2" fill="#6699ca"/>
<text x="676.8" y="521.6" font-size="28">259</text>
<rect x="606.2" y="536.8" width="40.9" height="26.2" fill="#6699ca"/>
<text x="665" y="561.8" font-size="28">211</text>
<rect x="606.2" y="577" width="37.4" height="26.2" fill="#6699ca"/>
<text x="661.6" y="602" font-size="28">193</text>
<rect x="606.2" y="617.1" width="37.4" height="26.2" fill="#6699ca"/>
<text x="661.6" y="642.1" font-size="28">193</text>
<rect x="606.2" y="657.3" width="34" height="26.2" fill="#6699ca"/>
<text x="658" y="682.3" font-size="28">175</text>
<rect x="606.2" y="697.5" width="33.2" height="26.2" fill="#6699ca"/>
<text x="657.3" y="722.5" font-size="28">171</text>
<rect x="606.2" y="737.6" width="31.6" height="26.2" fill="#6699ca"/>
<text x="655.2" y="762.6" font-size="28">163</text>
<rect x="606.2" y="777.8" width="29.9" height="26.2" fill="#6699ca"/>
<text x="653" y="802.8" font-size="28">154</text>
<rect x="606.2" y="818" width="27.4" height="26.2" fill="#6699ca"/>
<text x="649.7" y="843" font-size="28">141</text>
<rect x="606.2" y="858.2" width="19.8" height="26.2" fill="#6699ca"/>
<text x="640" y="883.2" font-size="28">102</text>
<rect x="606.2" y="898.3" width="17.8" height="26.2" fill="#6699ca"/>
<text x="636.8" y="923.3" font-size="28">92</text>
<rect x="606.2" y="938.5" width="16.7" height="26.2" fill="#6699ca"/>
<text x="635.2" y="963.5" font-size="28">86</text>
<rect x="606.2" y="978.7" width="16.5" height="26.2" fill="#6699ca"/>
<text x="634.6" y="1003.7" font-size="28">85</text>
<rect x="606.2" y="1018.8" width="4.1" height="26.2" fill="#6699ca"/>
<text x="619" y="1043.8" font-size="28">21</text>
<rect x="606.2" y="1059" width="3.7" height="26.2" fill="#6699ca"/>
<text x="619.9" y="1084" font-size="28">19</text>
<rect x="606.2" y="1099.2" width="3.3" height="26.2" fill="#6699ca"/>
<text x="619.4" y="1124.2" font-size="28">17</text>
<rect x="606.2" y="1139.3" width="2.7" height="26.2" fill="#6699ca"/>
<text x="619" y="1164.3" font-size="28">14</text>
<rect x="606.2" y="1179.5" width="2.1" height="26.2" fill="#6699ca"/>
<text x="618.4" y="1204.5" font-size="28">11</text>
<polygon points="682.6,447.3 686.9,411.8 692.3,411.8 688,447.3" fill="#ffffff"/>
<line x1="682.4" y1="447.6" x2="686.7" y2="411.5" stroke="#111" stroke-width="1.9"/>
<line x1="688.2" y1="447.6" x2="692.5" y2="411.5" stroke="#111" stroke-width="1.9"/>
<text x="266.6" y="1231" font-size="28" text-anchor="end" transform="rotate(-45 266.6 1231)">As vs Af</text>
<text x="308.6" y="1231" font-size="28" text-anchor="end" transform="rotate(-45 308.6 1231)">Osi vs Osj</text>
<text x="350.6" y="1231" font-size="28" text-anchor="end" transform="rotate(-45 350.6 1231)">Osi vs Or</text>
<text x="392.4" y="1231" font-size="28" text-anchor="end" transform="rotate(-45 392.4 1231)">Osj vs Or</text>
<text x="439.5" y="1229.8" font-size="28" text-anchor="end" font-style="italic" transform="rotate(-45 439.5 1229.8)">Osi</text>
<text x="479.7" y="1229.8" font-size="28" text-anchor="end" font-style="italic" transform="rotate(-45 479.7 1229.8)">Osj</text>
<text x="519.8" y="1229.8" font-size="28" text-anchor="end" font-style="italic" transform="rotate(-45 519.8 1229.8)">Or</text>
<text x="559.8" y="1229.8" font-size="28" text-anchor="end" font-style="italic" transform="rotate(-45 559.8 1229.8)">Og</text>
<text x="599.8" y="1229.8" font-size="28" text-anchor="end" font-style="italic" transform="rotate(-45 599.8 1229.8)">Ob</text>
<defs><linearGradient id="zg" x1="0" x2="1" y1="0" y2="0"><stop offset="0" stop-color="#3a58a5"/><stop offset="0.25" stop-color="#8fa3d2"/><stop offset="0.5" stop-color="#ffffff"/><stop offset="0.75" stop-color="#e38c8c"/><stop offset="1" stop-color="#c0302b"/></linearGradient></defs>
<rect x="396.4" y="1268.5" width="141.4" height="12" fill="url(#zg)"/>
<line x1="395.4" y1="1281.3" x2="538.8" y2="1281.3" stroke="#111" stroke-width="2.2"/>
<line x1="396.4" y1="1281" x2="396.4" y2="1285.5" stroke="#111" stroke-width="2"/>
<line x1="431.8" y1="1281" x2="431.8" y2="1285.5" stroke="#111" stroke-width="2"/>
<line x1="467.1" y1="1281" x2="467.1" y2="1285.5" stroke="#111" stroke-width="2"/>
<line x1="502.5" y1="1281" x2="502.5" y2="1285.5" stroke="#111" stroke-width="2"/>
<line x1="537.8" y1="1281" x2="537.8" y2="1285.5" stroke="#111" stroke-width="2"/>
<text x="404.2" y="1310.5" font-size="28" text-anchor="end">-2</text>
<text x="439.4" y="1310.5" font-size="28" text-anchor="end">-1</text>
<text x="467.1" y="1310.5" font-size="28" text-anchor="middle">0</text>
<text x="502.5" y="1310.5" font-size="28" text-anchor="middle">1</text>
<text x="537.8" y="1310.5" font-size="28" text-anchor="middle">2</text>
<text x="552" y="1284" font-size="28">Z-score</text>
<text x="828.9" y="405.3" font-size="35.5" font-weight="bold">f</text>
<path d="M1002 407.5 A162 162 0 0 1 1024.3 730 L1016.8 676 A107.5 107.5 0 0 0 1002 462 Z" fill="#b1cde0"/>
<path d="M1024.3 730 A162 162 0 1 1 1002 407.5 L1002 462 A107.5 107.5 0 1 0 1016.8 676 Z" fill="#e8c6d0"/>
<path d="M1002 462 A107.5 107.5 0 0 1 1014.1 676.3 L1009.2 632.9 A63.8 63.8 0 0 0 1002 505.7 Z" fill="#b1cde0"/>
<path d="M1014.1 676.3 A107.5 107.5 0 1 1 1002 462 L1002 505.7 A63.8 63.8 0 1 0 1009.2 632.9 Z" fill="#e8c6d0"/>
<path d="M1002 569.5 L1002 505.7 A63.8 63.8 0 0 1 1058.5 599.2 Z" fill="#b1cde0"/>
<path d="M1002 569.5 L1058.5 599.2 A63.8 63.8 0 1 1 1002 505.7 Z" fill="#e8c6d0"/>
<circle cx="1002" cy="569.5" r="107.5" fill="none" stroke="#fff" stroke-width="2.4"/>
<circle cx="1002" cy="569.5" r="63.8" fill="none" stroke="#fff" stroke-width="2.4"/>
<line x1="1002" y1="569.5" x2="1002" y2="406.5" stroke="#fff" stroke-width="2.4"/>
<line x1="1016.8" y1="676" x2="1024.5" y2="730.9" stroke="#fff" stroke-width="2.4"/>
<line x1="1009.2" y1="632.9" x2="1014.2" y2="677.3" stroke="#fff" stroke-width="2.4"/>
<line x1="1002" y1="569.5" x2="1059.4" y2="599.6" stroke="#fff" stroke-width="2.4"/>
<text x="1003" y="440.5" font-size="25" text-anchor="middle" font-style="italic">Osi</text>
<text x="1003" y="489" font-size="25" text-anchor="middle" font-style="italic">Osj</text>
<text x="1003" y="531" font-size="25" text-anchor="middle" font-style="italic">Or</text>
<text x="999.5" y="569" font-size="25">32.7%</text>
<text x="950" y="600.7" font-size="25">67.3%</text>
<text x="933" y="652" font-size="25">51.8%</text>
<text x="1017" y="652" font-size="25">48.2%</text>
<text x="934" y="703.4" font-size="25">52.2%</text>
<text x="1027" y="703.4" font-size="25">47.8%</text>
<rect x="876" y="750.7" width="23" height="22.7" fill="#b1cde0"/>
<text x="908" y="771" font-size="28">Core</text>
<rect x="981.8" y="750.7" width="22.7" height="22.7" fill="#e8c6d0"/>
<text x="1021.6" y="771" font-size="28">Dispensable</text>
<text x="1275" y="405.3" font-size="35.5" font-weight="bold">g</text>
<rect x="1404.8" y="460.9" width="35.9" height="26.4" fill="#c4c4c4"/>
<rect x="1404.8" y="487.3" width="35.9" height="135.3" fill="#e6c5ce"/>
<rect x="1404.8" y="622.6" width="35.9" height="113.3" fill="#afcbdf"/>
<rect x="1517.3" y="460.9" width="35.9" height="17.6" fill="#c4c4c4"/>
<rect x="1517.3" y="478.5" width="35.9" height="74.5" fill="#e6c5ce"/>
<rect x="1517.3" y="553" width="35.9" height="182.9" fill="#afcbdf"/>
<line x1="1359.8" y1="460.9" x2="1359.8" y2="744" stroke="#111" stroke-width="2.2"/>
<line x1="1351.8" y1="735.9" x2="1359.8" y2="735.9" stroke="#111" stroke-width="2.2"/>
<text x="1352" y="745.9" font-size="28" text-anchor="end">0</text>
<line x1="1351.8" y1="680.9" x2="1359.8" y2="680.9" stroke="#111" stroke-width="2.2"/>
<text x="1352" y="690.9" font-size="28" text-anchor="end">20</text>
<line x1="1351.8" y1="625.9" x2="1359.8" y2="625.9" stroke="#111" stroke-width="2.2"/>
<text x="1352" y="635.9" font-size="28" text-anchor="end">40</text>
<line x1="1351.8" y1="570.9" x2="1359.8" y2="570.9" stroke="#111" stroke-width="2.2"/>
<text x="1352" y="580.9" font-size="28" text-anchor="end">60</text>
<line x1="1351.8" y1="515.9" x2="1359.8" y2="515.9" stroke="#111" stroke-width="2.2"/>
<text x="1352" y="525.9" font-size="28" text-anchor="end">80</text>
<line x1="1351.8" y1="460.9" x2="1359.8" y2="460.9" stroke="#111" stroke-width="2.2"/>
<text x="1352" y="470.9" font-size="28" text-anchor="end">100</text>
<line x1="1358.8" y1="735.9" x2="1610.5" y2="735.9" stroke="#111" stroke-width="2.2"/>
<line x1="1422.5" y1="735.9" x2="1422.5" y2="744" stroke="#111" stroke-width="2.2"/>
<line x1="1534.8" y1="735.9" x2="1534.8" y2="744" stroke="#111" stroke-width="2.2"/>
<text x="1422.5" y="771" font-size="28" text-anchor="middle">Core</text>
<text x="1547.2" y="771" font-size="28" text-anchor="middle">Dispensable</text>
<text x="1304.5" y="579.7" font-size="28" text-anchor="middle" transform="rotate(-90 1304.5 579.7)">Percentage (%)</text>
<text x="1366" y="437" font-size="27.5"><tspan font-style="italic">P</tspan>-value = 8.37e-13</text>
<text x="1568.4" y="559" font-size="28">FPKM</text>
<rect x="1568" y="571" width="22.7" height="23" fill="#afcbdf"/>
<rect x="1568" y="604" width="22.7" height="23" fill="#e6c5ce"/>
<rect x="1568" y="636" width="22.7" height="23" fill="#c4c4c4"/>
<text x="1600" y="594" font-size="28">&lt; 0.1</text>
<text x="1600" y="627" font-size="28">0.1-1</text>
<text x="1600" y="656" font-size="28">≥1</text>
<text x="830.9" y="900.9" font-size="35.5" font-weight="bold">h</text>
<path d="M969 1041.2 L970 1042.9 L970.9 1044.6 L971.7 1046.4 L972.5 1048.1 L973.1 1049.8 L973.7 1051.5 L974.3 1053.2 L974.8 1055 L975.3 1056.7 L975.7 1058.4 L976 1060.1 L976.3 1061.9 L976.5 1063.6 L976.7 1065.3 L976.9 1067 L977.1 1068.7 L977.4 1070.5 L977.7 1072.2 L978 1073.9 L978.4 1075.6 L978.8 1077.3 L979.3 1079.1 L979.9 1080.8 L980.6 1082.5 L981.6 1084.2 L983.2 1086 L985.5 1087.7 L988.4 1089.4 L991.8 1091.1 L997.2 1092.8 L1002.9 1094.6 L1006.5 1096.3 L1009.4 1098 L1011.2 1099.7 L1011.9 1101.5 L1012.3 1103.2 L1012.5 1104.9 L1011.1 1106.6 L1008.3 1108.3 L1005.5 1110.1 L1002.1 1111.8 L998.4 1113.5 L994.8 1115.2 L991.8 1116.9 L989.3 1118.7 L987.1 1120.4 L985 1122.1 L983 1123.8 L981.1 1125.5 L979.2 1127.3 L977.2 1129 L975.5 1130.7 L974 1132.4 L972.9 1134.2 L972 1135.9 L971.3 1137.6 L961.9 1137.6 L961.2 1135.9 L960.3 1134.2 L959.2 1132.4 L957.7 1130.7 L956 1129 L954 1127.3 L952.1 1125.5 L950.2 1123.8 L948.2 1122.1 L946.1 1120.4 L943.9 1118.7 L941.4 1116.9 L938.4 1115.2 L934.8 1113.5 L931.1 1111.8 L927.7 1110.1 L924.9 1108.3 L922.1 1106.6 L920.7 1104.9 L920.9 1103.2 L921.3 1101.5 L922 1099.7 L923.8 1098 L926.7 1096.3 L930.3 1094.6 L936 1092.8 L941.4 1091.1 L944.8 1089.4 L947.7 1087.7 L950 1086 L951.6 1084.2 L952.6 1082.5 L953.3 1080.8 L953.9 1079.1 L954.4 1077.3 L954.8 1075.6 L955.2 1073.9 L955.5 1072.2 L955.8 1070.5 L956.1 1068.7 L956.3 1067 L956.5 1065.3 L956.7 1063.6 L956.9 1061.9 L957.2 1060.1 L957.5 1058.4 L957.9 1056.7 L958.4 1055 L958.9 1053.2 L959.5 1051.5 L960.1 1049.8 L960.7 1048.1 L961.5 1046.4 L962.3 1044.6 L963.2 1042.9 L964.2 1041.2Z" fill="#6593c2"/>
<path d="M1048.5 989.4 L1049 991.1 L1049.5 992.8 L1050 994.5 L1050.6 996.2 L1051.2 997.9 L1051.9 999.6 L1052.6 1001.3 L1053.3 1003 L1054.1 1004.7 L1054.9 1006.4 L1055.8 1008.1 L1056.7 1009.8 L1057.7 1011.5 L1058.6 1013.2 L1059.6 1015 L1060.6 1016.7 L1061.6 1018.4 L1062.7 1020.1 L1063.7 1021.8 L1064.7 1023.5 L1065.7 1025.2 L1066.6 1026.9 L1067.5 1028.6 L1068.4 1030.3 L1069.3 1032 L1070.1 1033.7 L1070.9 1035.4 L1071.5 1037.1 L1072.2 1038.8 L1072.9 1040.5 L1073.5 1042.2 L1074.1 1043.9 L1074.5 1045.6 L1074.8 1047.3 L1074.8 1049 L1074.8 1050.7 L1074.7 1052.4 L1074.7 1054.1 L1074.6 1055.8 L1074.5 1057.5 L1074.4 1059.2 L1074.3 1060.9 L1074.1 1062.6 L1073.7 1064.4 L1073.2 1066.1 L1072.7 1067.8 L1072.1 1069.5 L1071.5 1071.2 L1070.9 1072.9 L1070.2 1074.6 L1069.4 1076.3 L1068.5 1078 L1067.5 1079.7 L1066.6 1081.4 L1065.6 1083.1 L1064.7 1084.8 L1063.7 1086.5 L1062.6 1088.2 L1061.6 1089.9 L1060.5 1091.6 L1059.5 1093.3 L1058.6 1095 L1057.6 1096.7 L1056.7 1098.4 L1055.7 1100.1 L1054.8 1101.8 L1054 1103.5 L1053.2 1105.2 L1052.6 1106.9 L1052 1108.6 L1051.4 1110.3 L1050.9 1112 L1050.5 1113.8 L1050.1 1115.5 L1049.7 1117.2 L1049.4 1118.9 L1049.1 1120.6 L1048.9 1122.3 L1048.7 1124 L1048.5 1125.7 L1048.3 1127.4 L1048.1 1129.1 L1048 1130.8 L1047.8 1132.5 L1047.7 1134.2 L1047.5 1135.9 L1047.4 1137.6 L1045.8 1137.6 L1045.7 1135.9 L1045.5 1134.2 L1045.4 1132.5 L1045.2 1130.8 L1045.1 1129.1 L1044.9 1127.4 L1044.7 1125.7 L1044.5 1124 L1044.3 1122.3 L1044.1 1120.6 L1043.8 1118.9 L1043.5 1117.2 L1043.1 1115.5 L1042.7 1113.8 L1042.3 1112 L1041.8 1110.3 L1041.2 1108.6 L1040.6 1106.9 L1040 1105.2 L1039.2 1103.5 L1038.4 1101.8 L1037.5 1100.1 L1036.5 1098.4 L1035.6 1096.7 L1034.6 1095 L1033.7 1093.3 L1032.7 1091.6 L1031.6 1089.9 L1030.6 1088.2 L1029.5 1086.5 L1028.5 1084.8 L1027.6 1083.1 L1026.6 1081.4 L1025.7 1079.7 L1024.7 1078 L1023.8 1076.3 L1023 1074.6 L1022.3 1072.9 L1021.7 1071.2 L1021.1 1069.5 L1020.5 1067.8 L1020 1066.1 L1019.5 1064.4 L1019.1 1062.6 L1018.9 1060.9 L1018.8 1059.2 L1018.7 1057.5 L1018.6 1055.8 L1018.5 1054.1 L1018.5 1052.4 L1018.4 1050.7 L1018.4 1049 L1018.4 1047.3 L1018.7 1045.6 L1019.1 1043.9 L1019.7 1042.2 L1020.3 1040.5 L1021 1038.8 L1021.7 1037.1 L1022.3 1035.4 L1023.1 1033.7 L1023.9 1032 L1024.8 1030.3 L1025.7 1028.6 L1026.6 1026.9 L1027.5 1025.2 L1028.5 1023.5 L1029.5 1021.8 L1030.5 1020.1 L1031.6 1018.4 L1032.6 1016.7 L1033.6 1015 L1034.6 1013.2 L1035.5 1011.5 L1036.5 1009.8 L1037.4 1008.1 L1038.3 1006.4 L1039.1 1004.7 L1039.9 1003 L1040.6 1001.3 L1041.3 999.6 L1042 997.9 L1042.6 996.2 L1043.2 994.5 L1043.7 992.8 L1044.2 991.1 L1044.7 989.4Z" fill="#665a9e"/>
<path d="M1128.3 1010.6 L1128.3 1012.3 L1128.4 1014 L1128.6 1015.7 L1128.8 1017.3 L1129 1019 L1129.2 1020.7 L1129.5 1022.4 L1129.8 1024.1 L1130.1 1025.8 L1130.5 1027.5 L1131.1 1029.2 L1131.7 1030.8 L1132.4 1032.5 L1133.1 1034.2 L1133.9 1035.9 L1134.8 1037.6 L1135.8 1039.3 L1137.1 1041 L1138.4 1042.6 L1139.7 1044.3 L1141 1046 L1142.1 1047.7 L1143.1 1049.4 L1144 1051.1 L1145 1052.8 L1145.8 1054.5 L1146.7 1056.1 L1147.4 1057.8 L1148.1 1059.5 L1148.7 1061.2 L1149.4 1062.9 L1149.9 1064.6 L1150.5 1066.3 L1151 1067.9 L1151.4 1069.6 L1151.7 1071.3 L1152 1073 L1152.2 1074.7 L1152.4 1076.4 L1152.6 1078.1 L1152.7 1079.8 L1152.9 1081.4 L1153 1083.1 L1153.1 1084.8 L1153.2 1086.5 L1153.3 1088.2 L1153.4 1089.9 L1153.4 1091.6 L1153.5 1093.2 L1153.5 1094.9 L1153.4 1096.6 L1153.2 1098.3 L1152.9 1100 L1152.4 1101.7 L1151.9 1103.4 L1151.3 1105.1 L1150.7 1106.7 L1150.1 1108.4 L1149.4 1110.1 L1148.6 1111.8 L1147.7 1113.5 L1146.8 1115.2 L1145.8 1116.9 L1144.8 1118.5 L1143.8 1120.2 L1142.5 1121.9 L1141.2 1123.6 L1139.9 1125.3 L1138.6 1127 L1137.5 1128.7 L1136.6 1130.4 L1135.9 1132 L1135.4 1133.7 L1134.9 1135.4 L1134.4 1137.1 L1134 1138.8 L1133.5 1140.5 L1133.1 1142.2 L1132.6 1143.8 L1132.1 1145.5 L1131.6 1147.2 L1131.2 1148.9 L1130.7 1150.6 L1130.3 1152.3 L1129.9 1154 L1129.6 1155.7 L1129.2 1157.3 L1128.9 1159 L1128.6 1160.7 L1128.3 1162.4 L1125.9 1162.4 L1125.6 1160.7 L1125.3 1159 L1125 1157.3 L1124.6 1155.7 L1124.3 1154 L1123.9 1152.3 L1123.5 1150.6 L1123 1148.9 L1122.6 1147.2 L1122.1 1145.5 L1121.6 1143.8 L1121.1 1142.2 L1120.7 1140.5 L1120.2 1138.8 L1119.8 1137.1 L1119.3 1135.4 L1118.8 1133.7 L1118.3 1132 L1117.6 1130.4 L1116.7 1128.7 L1115.6 1127 L1114.3 1125.3 L1113 1123.6 L1111.7 1121.9 L1110.4 1120.2 L1109.4 1118.5 L1108.4 1116.9 L1107.4 1115.2 L1106.5 1113.5 L1105.6 1111.8 L1104.8 1110.1 L1104.1 1108.4 L1103.5 1106.7 L1102.9 1105.1 L1102.3 1103.4 L1101.8 1101.7 L1101.3 1100 L1101 1098.3 L1100.8 1096.6 L1100.7 1094.9 L1100.7 1093.2 L1100.8 1091.6 L1100.8 1089.9 L1100.9 1088.2 L1101 1086.5 L1101.1 1084.8 L1101.2 1083.1 L1101.3 1081.4 L1101.5 1079.8 L1101.6 1078.1 L1101.8 1076.4 L1102 1074.7 L1102.2 1073 L1102.5 1071.3 L1102.8 1069.6 L1103.2 1067.9 L1103.7 1066.3 L1104.3 1064.6 L1104.8 1062.9 L1105.5 1061.2 L1106.1 1059.5 L1106.8 1057.8 L1107.5 1056.1 L1108.4 1054.5 L1109.2 1052.8 L1110.2 1051.1 L1111.1 1049.4 L1112.1 1047.7 L1113.2 1046 L1114.5 1044.3 L1115.8 1042.6 L1117.1 1041 L1118.4 1039.3 L1119.4 1037.6 L1120.3 1035.9 L1121.1 1034.2 L1121.8 1032.5 L1122.5 1030.8 L1123.1 1029.2 L1123.7 1027.5 L1124.1 1025.8 L1124.4 1024.1 L1124.7 1022.4 L1125 1020.7 L1125.2 1019 L1125.4 1017.3 L1125.6 1015.7 L1125.8 1014 L1125.9 1012.3 L1125.9 1010.6Z" fill="#d04f27"/>
<line x1="966.6" y1="1062.8" x2="966.6" y2="1093.4" stroke="#151515" stroke-width="2.1"/>
<line x1="966.6" y1="1114.1" x2="966.6" y2="1137.6" stroke="#151515" stroke-width="2.1"/>
<line x1="962" y1="1062.8" x2="971.2" y2="1062.8" stroke="#151515" stroke-width="2.3"/>
<line x1="962" y1="1137.6" x2="971.2" y2="1137.6" stroke="#151515" stroke-width="2.3"/>
<rect x="963.3" y="1093.4" width="6.6" height="20.7" fill="none" stroke="#2e2e2e" stroke-width="1.7"/>
<polygon points="961.9,1101.2 966.6,1097.5 971.3,1101.2 966.6,1104.9" fill="#ffffff"/>
<ellipse cx="966.6" cy="1041.2" rx="3.6" ry="2.8" fill="#2e2a28"/>
<ellipse cx="966.6" cy="1050.6" rx="3.6" ry="2.8" fill="#2e2a28"/>
<ellipse cx="966.6" cy="1053" rx="3.6" ry="2.8" fill="#2e2a28"/>
<ellipse cx="966.6" cy="1055.4" rx="3.6" ry="2.8" fill="#2e2a28"/>
<ellipse cx="966.6" cy="1057.8" rx="3.6" ry="2.8" fill="#2e2a28"/>
<ellipse cx="966.6" cy="1060.2" rx="3.6" ry="2.8" fill="#2e2a28"/>
<line x1="1046.6" y1="989.4" x2="1046.6" y2="1038.1" stroke="#151515" stroke-width="2.1"/>
<line x1="1046.6" y1="1072.5" x2="1046.6" y2="1117" stroke="#151515" stroke-width="2.1"/>
<line x1="1042" y1="989.4" x2="1051.2" y2="989.4" stroke="#151515" stroke-width="2.3"/>
<line x1="1042" y1="1117" x2="1051.2" y2="1117" stroke="#151515" stroke-width="2.3"/>
<rect x="1043.3" y="1038.1" width="6.6" height="34.4" fill="none" stroke="#2e2e2e" stroke-width="1.7"/>
<polygon points="1041.9,1057.6 1046.6,1053.9 1051.3,1057.6 1046.6,1061.3" fill="#ffffff"/>
<ellipse cx="1046.6" cy="1138.8" rx="3.6" ry="2.8" fill="#2e2a28"/>
<line x1="1127.1" y1="1025.9" x2="1127.1" y2="1072.9" stroke="#151515" stroke-width="2.1"/>
<line x1="1127.1" y1="1108.9" x2="1127.1" y2="1161.9" stroke="#151515" stroke-width="2.1"/>
<line x1="1122.5" y1="1025.9" x2="1131.7" y2="1025.9" stroke="#151515" stroke-width="2.3"/>
<line x1="1122.5" y1="1161.9" x2="1131.7" y2="1161.9" stroke="#151515" stroke-width="2.3"/>
<rect x="1123.8" y="1072.9" width="6.6" height="36" fill="none" stroke="#2e2e2e" stroke-width="1.7"/>
<polygon points="1122.4,1091.8 1127.1,1088.1 1131.8,1091.8 1127.1,1095.5" fill="#ffffff"/>
<ellipse cx="1127.1" cy="1009.9" rx="3.6" ry="2.8" fill="#2e2a28"/>
<line x1="911.8" y1="910.1" x2="911.8" y2="1196" stroke="#111" stroke-width="2.2"/>
<line x1="911.8" y1="1204.5" x2="911.8" y2="1214" stroke="#111" stroke-width="2.2"/>
<line x1="905.8" y1="1198.5" x2="918" y2="1195.3" stroke="#111" stroke-width="2.1"/>
<line x1="905.8" y1="1205.6" x2="918" y2="1202.4" stroke="#111" stroke-width="2.1"/>
<line x1="903.8" y1="910.1" x2="911.8" y2="910.1" stroke="#111" stroke-width="2.2"/>
<text x="902.4" y="917.6" font-size="28" text-anchor="end">90</text>
<line x1="903.8" y1="995.3" x2="911.8" y2="995.3" stroke="#111" stroke-width="2.2"/>
<text x="902.4" y="1002.8" font-size="28" text-anchor="end">80</text>
<line x1="903.8" y1="1080.7" x2="911.8" y2="1080.7" stroke="#111" stroke-width="2.2"/>
<text x="902.4" y="1088.2" font-size="28" text-anchor="end">70</text>
<line x1="903.8" y1="1165.9" x2="911.8" y2="1165.9" stroke="#111" stroke-width="2.2"/>
<text x="902.4" y="1173.4" font-size="28" text-anchor="end">60</text>
<text x="902.4" y="1220" font-size="28" text-anchor="end">0</text>
<line x1="903.8" y1="1213" x2="1178" y2="1213" stroke="#111" stroke-width="2.2"/>
<line x1="966.6" y1="1213" x2="966.6" y2="1221.5" stroke="#111" stroke-width="2.2"/>
<line x1="1046.6" y1="1213" x2="1046.6" y2="1221.5" stroke="#111" stroke-width="2.2"/>
<line x1="1126.6" y1="1213" x2="1126.6" y2="1221.5" stroke="#111" stroke-width="2.2"/>
<text x="981.6" y="1234.5" font-size="28" text-anchor="end" transform="rotate(-45 981.6 1234.5)">Singleton</text>
<text x="1057.1" y="1239.7" font-size="28" text-anchor="end" transform="rotate(-45 1057.1 1239.7)">Pair</text>
<text x="1140.1" y="1237" font-size="28" text-anchor="end" transform="rotate(-45 1140.1 1237)">Cluster</text>
<text x="966.6" y="1031" font-size="28" text-anchor="middle">c</text>
<text x="1046.6" y="980.5" font-size="28" text-anchor="middle">a</text>
<text x="1127" y="1000" font-size="28" text-anchor="middle">b</text>
<text x="859" y="1047.6" font-size="28" text-anchor="middle" transform="rotate(-90 859 1047.6)">Percentage (%)</text>
<text x="1282.3" y="900.9" font-size="35.5" font-weight="bold">i</text>
<path d="M1304.6 1105.7 A162 162 0 0 1 1479.6 896 L1470.2 968.9 A88.5 88.5 0 0 0 1374.6 1083.5 Z" fill="#cde6de"/>
<path d="M1479.6 896 A162 162 0 0 1 1542.9 918.1 L1504.8 981 A88.5 88.5 0 0 0 1470.2 968.9 Z" fill="#b3dcea"/>
<path d="M1542.9 918.1 A162 162 0 0 1 1567.8 1176.7 L1518.4 1122.3 A88.5 88.5 0 0 0 1504.8 981 Z" fill="#e6c7d0"/>
<path d="M1567.8 1176.7 A162 162 0 0 1 1566.3 1178 L1517.6 1123 A88.5 88.5 0 0 0 1518.4 1122.3 Z" fill="#d84a10"/>
<path d="M1566.3 1178 A162 162 0 0 1 1558.5 1184.5 L1513.4 1126.5 A88.5 88.5 0 0 0 1517.6 1123 Z" fill="#e6aee3"/>
<path d="M1558.5 1184.5 A162 162 0 0 1 1304.6 1105.7 L1374.6 1083.5 A88.5 88.5 0 0 0 1513.4 1126.5 Z" fill="#c3c8da"/>
<path d="M1459 1056.7 L1505.1 980.6 A89 89 0 0 1 1513.7 1126.9 Z" fill="#dc8bae"/>
<path d="M1459 1056.7 L1513.7 1126.9 A89 89 0 1 1 1505.1 980.6 Z" fill="#8bbfd8"/>
<line x1="1519.1" y1="1123.7" x2="1567.2" y2="1177.3" stroke="#d84a10" stroke-width="2"/>
<line x1="1567.9" y1="1177.3" x2="1587" y2="1177.3" stroke="#222" stroke-width="2.2"/>
<line x1="1562.7" y1="1182.5" x2="1568.5" y2="1195.5" stroke="#222" stroke-width="2.2"/>
<text x="1388" y="948.4" font-size="28" text-anchor="middle">T-H</text>
<text x="1379.4" y="977" font-size="28" text-anchor="middle">31.9%</text>
<text x="1505" y="923.5" font-size="28" text-anchor="middle">T-T</text>
<text x="1503.4" y="952.6" font-size="28" text-anchor="middle">6.6%</text>
<text x="1566.6" y="978.7" font-size="28" text-anchor="middle">T-H</text>
<text x="1573.6" y="1007.4" font-size="28" text-anchor="middle">29.6%</text>
<text x="1417" y="1035.5" font-size="28" text-anchor="middle">Het</text>
<text x="1413.5" y="1064.6" font-size="28" text-anchor="middle">69.2%</text>
<text x="1513.8" y="1035.5" font-size="28" text-anchor="middle">Hom</text>
<text x="1507.6" y="1064.6" font-size="28" text-anchor="middle">30.8%</text>
<text x="1430.4" y="1169.4" font-size="28" text-anchor="middle">H-H</text>
<text x="1430.4" y="1197.3" font-size="28" text-anchor="middle">30.6%</text>
<text x="1560" y="1221" font-size="28" text-anchor="middle">T-T</text>
<text x="1563" y="1249.6" font-size="28" text-anchor="middle">1.0%</text>
<text x="1599.7" y="1173.2" font-size="28">H-H</text>
<text x="1592.2" y="1201" font-size="28">0.2%</text>
<text x="1740.4" y="405.3" font-size="35.5" font-weight="bold">j</text>
<rect x="1793.1" y="409.2" width="50.2" height="7.5" fill="#fd7d80"/>
<rect x="1843.3" y="409.2" width="50.1" height="7.5" fill="#f86a6d"/>
<rect x="1893.4" y="409.2" width="50.1" height="7.5" fill="#fd7d80"/>
<rect x="1943.5" y="409.2" width="50" height="7.5" fill="#ff8e91"/>
<rect x="1993.5" y="409.2" width="50.3" height="7.5" fill="#ff8e91"/>
<rect x="1793.1" y="416.5" width="50.2" height="7.5" fill="#fd7d80"/>
<rect x="1843.3" y="416.5" width="50.1" height="7.5" fill="#fd7d80"/>
<rect x="1893.4" y="416.5" width="50.1" height="7.5" fill="#fd7d80"/>
<rect x="1943.5" y="416.5" width="50" height="7.5" fill="#ff8e91"/>
<rect x="1993.5" y="416.5" width="50.3" height="7.5" fill="#fd7d80"/>
<rect x="1793.1" y="423.8" width="50.2" height="7.5" fill="#ff8e91"/>
<rect x="1843.3" y="423.8" width="50.1" height="7.5" fill="#fd7d80"/>
<rect x="1893.4" y="423.8" width="50.1" height="7.5" fill="#fd7d80"/>
<rect x="1943.5" y="423.8" width="50" height="7.5" fill="#ff8e91"/>
<rect x="1993.5" y="423.8" width="50.3" height="7.5" fill="#ff8e91"/>
<rect x="1793.1" y="431.1" width="50.2" height="7.5" fill="#ff8e91"/>
<rect x="1843.3" y="431.1" width="50.1" height="7.5" fill="#ff8e91"/>
<rect x="1893.4" y="431.1" width="50.1" height="7.5" fill="#ff8e91"/>
<rect x="1943.5" y="431.1" width="50" height="7.5" fill="#ffa0a4"/>
<rect x="1993.5" y="431.1" width="50.3" height="7.5" fill="#ffa0a4"/>
<rect x="1793.1" y="438.4" width="50.2" height="7.5" fill="#ff8e91"/>
<rect x="1843.3" y="438.4" width="50.1" height="7.5" fill="#ff8e91"/>
<rect x="1893.4" y="438.4" width="50.1" height="7.5" fill="#ff8e91"/>
<rect x="1943.5" y="438.4" width="50" height="7.5" fill="#ffa0a4"/>
<rect x="1993.5" y="438.4" width="50.3" height="7.5" fill="#ffa0a4"/>
<rect x="1793.1" y="445.7" width="50.2" height="7.5" fill="#ff8e91"/>
<rect x="1843.3" y="445.7" width="50.1" height="7.5" fill="#ff8e91"/>
<rect x="1893.4" y="445.7" width="50.1" height="7.5" fill="#fd7d80"/>
<rect x="1943.5" y="445.7" width="50" height="7.5" fill="#ffb3b7"/>
<rect x="1993.5" y="445.7" width="50.3" height="7.5" fill="#ffb3b7"/>
<rect x="1793.1" y="453" width="50.2" height="7.5" fill="#fd7d80"/>
<rect x="1843.3" y="453" width="50.1" height="7.5" fill="#f86a6d"/>
<rect x="1893.4" y="453" width="50.1" height="7.5" fill="#fd7d80"/>
<rect x="1943.5" y="453" width="50" height="7.5" fill="#ffb3b7"/>
<rect x="1993.5" y="453" width="50.3" height="7.5" fill="#ffa0a4"/>
<rect x="1793.1" y="460.3" width="50.2" height="7.5" fill="#fd7d80"/>
<rect x="1843.3" y="460.3" width="50.1" height="7.5" fill="#f86a6d"/>
<rect x="1893.4" y="460.3" width="50.1" height="7.5" fill="#ffa0a4"/>
<rect x="1943.5" y="460.3" width="50" height="7.5" fill="#f86a6d"/>
<rect x="1993.5" y="460.3" width="50.3" height="7.5" fill="#f86a6d"/>
<rect x="1793.1" y="467.6" width="50.2" height="7.5" fill="#ffa0a4"/>
<rect x="1843.3" y="467.6" width="50.1" height="7.5" fill="#ffa0a4"/>
<rect x="1893.4" y="467.6" width="50.1" height="7.5" fill="#ffa0a4"/>
<rect x="1943.5" y="467.6" width="50" height="7.5" fill="#ff8e91"/>
<rect x="1993.5" y="467.6" width="50.3" height="7.5" fill="#ff8e91"/>
<rect x="1793.1" y="474.9" width="50.2" height="7.5" fill="#ffa0a4"/>
<rect x="1843.3" y="474.9" width="50.1" height="7.5" fill="#ffa0a4"/>
<rect x="1893.4" y="474.9" width="50.1" height="7.5" fill="#ffa0a4"/>
<rect x="1943.5" y="474.9" width="50" height="7.5" fill="#fd7d80"/>
<rect x="1993.5" y="474.9" width="50.3" height="7.5" fill="#fd7d80"/>
<rect x="1793.1" y="482.2" width="50.2" height="7.5" fill="#ffa0a4"/>
<rect x="1843.3" y="482.2" width="50.1" height="7.5" fill="#ffa0a4"/>
<rect x="1893.4" y="482.2" width="50.1" height="7.5" fill="#ff8e91"/>
<rect x="1943.5" y="482.2" width="50" height="7.5" fill="#fd7d80"/>
<rect x="1993.5" y="482.2" width="50.3" height="7.5" fill="#fd7d80"/>
<rect x="1793.1" y="489.5" width="50.2" height="7.5" fill="#de3228"/>
<rect x="1843.3" y="489.5" width="50.1" height="7.5" fill="#ef5658"/>
<rect x="1893.4" y="489.5" width="50.1" height="7.5" fill="#ef5658"/>
<rect x="1943.5" y="489.5" width="50" height="7.5" fill="#fd7d80"/>
<rect x="1993.5" y="489.5" width="50.3" height="7.5" fill="#e54446"/>
<rect x="1793.1" y="496.8" width="50.2" height="7.5" fill="#ef5658"/>
<rect x="1843.3" y="496.8" width="50.1" height="7.5" fill="#e54446"/>
<rect x="1893.4" y="496.8" width="50.1" height="7.5" fill="#ef5658"/>
<rect x="1943.5" y="496.8" width="50" height="7.5" fill="#e54446"/>
<rect x="1993.5" y="496.8" width="50.3" height="7.5" fill="#ef5658"/>
<rect x="1793.1" y="504.1" width="50.2" height="7.5" fill="#ef5658"/>
<rect x="1843.3" y="504.1" width="50.1" height="7.5" fill="#e54446"/>
<rect x="1893.4" y="504.1" width="50.1" height="7.5" fill="#e54446"/>
<rect x="1943.5" y="504.1" width="50" height="7.5" fill="#ef5658"/>
<rect x="1993.5" y="504.1" width="50.3" height="7.5" fill="#f86a6d"/>
<rect x="1843.3" y="511.4" width="50.1" height="7.5" fill="#ffa0a4"/>
<rect x="1893.4" y="511.4" width="50.1" height="7.5" fill="#de3228"/>
<rect x="1793.1" y="518.7" width="50.2" height="7.5" fill="#f86a6d"/>
<rect x="1893.4" y="518.7" width="50.1" height="7.5" fill="#f86a6d"/>
<rect x="1793.1" y="526" width="50.2" height="7.5" fill="#de3228"/>
<rect x="1893.4" y="526" width="50.1" height="7.5" fill="#ef5658"/>
<rect x="1793.1" y="533.3" width="50.2" height="7.5" fill="#ef5658"/>
<rect x="1893.4" y="533.3" width="50.1" height="7.5" fill="#de3228"/>
<rect x="1793.1" y="540.6" width="50.2" height="7.5" fill="#e54446"/>
<rect x="1843.3" y="540.6" width="50.1" height="7.5" fill="#ef5658"/>
<rect x="1793.1" y="547.9" width="50.2" height="7.5" fill="#ffa0a4"/>
<rect x="1843.3" y="547.9" width="50.1" height="7.5" fill="#ef5658"/>
<rect x="1893.4" y="547.9" width="50.1" height="7.5" fill="#ffb3b7"/>
<rect x="1793.1" y="555.2" width="50.2" height="7.5" fill="#de3228"/>
<rect x="1793.1" y="562.5" width="50.2" height="7.5" fill="#e54446"/>
<rect x="1893.4" y="562.5" width="50.1" height="7.5" fill="#ffb3b7"/>
<rect x="1793.1" y="569.8" width="50.2" height="7.5" fill="#ffb3b7"/>
<rect x="1843.3" y="569.8" width="50.1" height="7.5" fill="#ffb3b7"/>
<rect x="1793.1" y="577.1" width="50.2" height="7.5" fill="#ffa0a4"/>
<rect x="1843.3" y="577.1" width="50.1" height="7.5" fill="#ffa0a4"/>
<rect x="1793.1" y="584.4" width="50.2" height="7.5" fill="#ff8e91"/>
<rect x="1793.1" y="591.7" width="50.2" height="7.5" fill="#fd7d80"/>
<rect x="1793.1" y="599" width="50.2" height="7.5" fill="#fd7d80"/>
<rect x="1793.1" y="606.3" width="50.2" height="7.5" fill="#ffb3b7"/>
<rect x="1793.1" y="613.7" width="50.2" height="7.5" fill="#ffb3b7"/>
<rect x="1793.1" y="621" width="50.2" height="7.5" fill="#ffb3b7"/>
<rect x="1793.1" y="628.3" width="50.2" height="7.5" fill="#ffb3b7"/>
<rect x="1793.1" y="635.6" width="50.2" height="7.5" fill="#ffa0a4"/>
<rect x="1793.1" y="642.9" width="50.2" height="7.5" fill="#ffa0a4"/>
<rect x="1793.1" y="650.2" width="50.2" height="7.5" fill="#ffa0a4"/>
<rect x="1943.5" y="657.5" width="50" height="7.5" fill="#ff8e91"/>
<rect x="1993.5" y="657.5" width="50.3" height="7.5" fill="#ffb3b7"/>
<rect x="1943.5" y="664.8" width="50" height="7.5" fill="#ffb3b7"/>
<rect x="1993.5" y="664.8" width="50.3" height="7.5" fill="#ffb3b7"/>
<rect x="1943.5" y="672.1" width="50" height="7.5" fill="#ffb3b7"/>
<rect x="1993.5" y="672.1" width="50.3" height="7.5" fill="#ffa0a4"/>
<rect x="1943.5" y="679.4" width="50" height="7.5" fill="#ffb3b7"/>
<rect x="1993.5" y="679.4" width="50.3" height="7.5" fill="#ffa0a4"/>
<rect x="1843.3" y="686.7" width="50.1" height="7.5" fill="#ffb3b7"/>
<rect x="1993.5" y="686.7" width="50.3" height="7.5" fill="#ffb3b7"/>
<rect x="1843.3" y="694" width="50.1" height="7.5" fill="#ffb3b7"/>
<rect x="1793.1" y="701.3" width="50.2" height="7.5" fill="#ffb3b7"/>
<rect x="1993.5" y="701.3" width="50.3" height="7.5" fill="#ffa0a4"/>
<rect x="1993.5" y="708.6" width="50.3" height="7.5" fill="#ffb3b7"/>
<rect x="1893.4" y="715.9" width="50.1" height="7.5" fill="#ffb3b7"/>
<rect x="1993.5" y="715.9" width="50.3" height="7.5" fill="#ffa0a4"/>
<rect x="1793.1" y="723.2" width="50.2" height="7.5" fill="#ffb3b7"/>
<rect x="1893.4" y="723.2" width="50.1" height="7.5" fill="#ffa0a4"/>
<rect x="1943.5" y="723.2" width="50" height="7.5" fill="#ffa0a4"/>
<rect x="1793.1" y="730.5" width="50.2" height="7.5" fill="#ffb3b7"/>
<rect x="1843.3" y="730.5" width="50.1" height="7.5" fill="#ffb3b7"/>
<rect x="1893.4" y="730.5" width="50.1" height="7.5" fill="#ffb3b7"/>
<rect x="1943.5" y="730.5" width="50" height="7.5" fill="#ffa0a4"/>
<rect x="1793.1" y="737.8" width="50.2" height="7.5" fill="#ffb3b7"/>
<rect x="1843.3" y="737.8" width="50.1" height="7.5" fill="#ffb3b7"/>
<rect x="1893.4" y="737.8" width="50.1" height="7.5" fill="#ffb3b7"/>
<rect x="1943.5" y="737.8" width="50" height="7.5" fill="#ffb3b7"/>
<rect x="1843.3" y="745.1" width="50.1" height="7.5" fill="#ffb3b7"/>
<rect x="1893.4" y="745.1" width="50.1" height="7.5" fill="#ffb3b7"/>
<rect x="1843.3" y="752.4" width="50.1" height="7.5" fill="#ffb3b7"/>
<rect x="1893.4" y="752.4" width="50.1" height="7.5" fill="#ffb3b7"/>
<rect x="1893.4" y="759.7" width="50.1" height="7.5" fill="#ffb3b7"/>
<rect x="1893.4" y="767" width="50.1" height="7.5" fill="#ffb3b7"/>
<rect x="1893.4" y="774.3" width="50.1" height="7.5" fill="#ffb3b7"/>
<rect x="1893.4" y="781.6" width="50.1" height="7.5" fill="#ffa0a4"/>
<rect x="1893.4" y="788.9" width="50.1" height="7.5" fill="#ffa0a4"/>
<rect x="1793.1" y="796.2" width="50.2" height="7.5" fill="#ffb3b7"/>
<rect x="1843.3" y="796.2" width="50.1" height="7.5" fill="#ffb3b7"/>
<rect x="1893.4" y="796.2" width="50.1" height="7.5" fill="#ffb3b7"/>
<rect x="1793.1" y="803.5" width="50.2" height="7.5" fill="#ffb3b7"/>
<rect x="1843.3" y="803.5" width="50.1" height="7.5" fill="#ffb3b7"/>
<rect x="1893.4" y="803.5" width="50.1" height="7.5" fill="#ffb3b7"/>
<rect x="1793.1" y="810.8" width="50.2" height="7.5" fill="#ffb3b7"/>
<rect x="1843.3" y="810.8" width="50.1" height="7.5" fill="#ffb3b7"/>
<rect x="1893.4" y="810.8" width="50.1" height="7.5" fill="#ffb3b7"/>
<rect x="1793.1" y="818.1" width="50.2" height="7.5" fill="#ffb3b7"/>
<rect x="1843.3" y="818.1" width="50.1" height="7.5" fill="#ffb3b7"/>
<rect x="1893.4" y="818.1" width="50.1" height="7.5" fill="#ffb3b7"/>
<rect x="1793.1" y="825.4" width="50.2" height="7.5" fill="#ffb3b7"/>
<rect x="1843.3" y="825.4" width="50.1" height="7.5" fill="#ffb3b7"/>
<rect x="1893.4" y="825.4" width="50.1" height="7.5" fill="#ffb3b7"/>
<rect x="1793.1" y="832.7" width="50.2" height="7.5" fill="#ffb3b7"/>
<rect x="1843.3" y="832.7" width="50.1" height="7.5" fill="#ffb3b7"/>
<rect x="1893.4" y="832.7" width="50.1" height="7.5" fill="#ffb3b7"/>
<rect x="1793.1" y="840" width="50.2" height="7.5" fill="#ffb3b7"/>
<rect x="1843.3" y="840" width="50.1" height="7.5" fill="#ffb3b7"/>
<rect x="1893.4" y="840" width="50.1" height="7.5" fill="#ffb3b7"/>
<rect x="1793.1" y="847.3" width="50.2" height="7.5" fill="#ffb3b7"/>
<rect x="1843.3" y="847.3" width="50.1" height="7.5" fill="#ffb3b7"/>
<rect x="1893.4" y="847.3" width="50.1" height="7.5" fill="#ffb3b7"/>
<rect x="1793.1" y="854.6" width="50.2" height="7.5" fill="#ffa0a4"/>
<rect x="1843.3" y="854.6" width="50.1" height="7.5" fill="#ffb3b7"/>
<rect x="1893.4" y="854.6" width="50.1" height="7.5" fill="#ffa0a4"/>
<rect x="1793.1" y="861.9" width="50.2" height="7.5" fill="#ffa0a4"/>
<rect x="1843.3" y="861.9" width="50.1" height="7.5" fill="#ffa0a4"/>
<rect x="1893.4" y="861.9" width="50.1" height="7.5" fill="#ffa0a4"/>
<rect x="1793.1" y="869.2" width="50.2" height="7.5" fill="#ffa0a4"/>
<rect x="1843.3" y="869.2" width="50.1" height="7.5" fill="#ffb3b7"/>
<rect x="1893.4" y="869.2" width="50.1" height="7.5" fill="#ffa0a4"/>
<rect x="1793.1" y="876.5" width="50.2" height="7.5" fill="#ffa0a4"/>
<rect x="1843.3" y="876.5" width="50.1" height="7.5" fill="#ffb3b7"/>
<rect x="1893.4" y="876.5" width="50.1" height="7.5" fill="#ffa0a4"/>
<rect x="1793.1" y="883.8" width="50.2" height="7.5" fill="#ffb3b7"/>
<rect x="1843.3" y="883.8" width="50.1" height="7.5" fill="#ffb3b7"/>
<rect x="1893.4" y="883.8" width="50.1" height="7.5" fill="#ffa0a4"/>
<rect x="1793.1" y="891.1" width="50.2" height="7.5" fill="#ffb3b7"/>
<rect x="1893.4" y="891.1" width="50.1" height="7.5" fill="#ffb3b7"/>
<rect x="1793.1" y="898.4" width="50.2" height="7.5" fill="#ffb3b7"/>
<rect x="1893.4" y="898.4" width="50.1" height="7.5" fill="#ffb3b7"/>
<rect x="1793.1" y="905.7" width="50.2" height="7.5" fill="#ffb3b7"/>
<rect x="1893.4" y="905.7" width="50.1" height="7.5" fill="#ffb3b7"/>
<rect x="1793.1" y="913" width="50.2" height="7.5" fill="#ffb3b7"/>
<rect x="1893.4" y="913" width="50.1" height="7.5" fill="#ffb3b7"/>
<rect x="1793.1" y="920.3" width="50.2" height="7.5" fill="#ffb3b7"/>
<rect x="1893.4" y="920.3" width="50.1" height="7.5" fill="#ffb3b7"/>
<rect x="1793.1" y="927.6" width="50.2" height="7.5" fill="#ffb3b7"/>
<rect x="1893.4" y="927.6" width="50.1" height="7.5" fill="#ffb3b7"/>
<rect x="1793.1" y="934.9" width="50.2" height="7.5" fill="#ffb3b7"/>
<rect x="1893.4" y="934.9" width="50.1" height="7.5" fill="#ffa0a4"/>
<rect x="1793.1" y="942.2" width="50.2" height="7.5" fill="#ffb3b7"/>
<rect x="1893.4" y="942.2" width="50.1" height="7.5" fill="#ffa0a4"/>
<rect x="1793.1" y="949.5" width="50.2" height="7.5" fill="#ffb3b7"/>
<rect x="1893.4" y="949.5" width="50.1" height="7.5" fill="#ffa0a4"/>
<rect x="1793.1" y="956.8" width="50.2" height="7.5" fill="#ffa0a4"/>
<rect x="1893.4" y="956.8" width="50.1" height="7.5" fill="#ffa0a4"/>
<rect x="1793.1" y="964.1" width="50.2" height="7.5" fill="#ffa0a4"/>
<rect x="1893.4" y="964.1" width="50.1" height="7.5" fill="#ffa0a4"/>
<rect x="1793.1" y="971.4" width="50.2" height="7.5" fill="#ffa0a4"/>
<rect x="1893.4" y="971.4" width="50.1" height="7.5" fill="#ffa0a4"/>
<rect x="1793.1" y="978.7" width="50.2" height="7.5" fill="#ffa0a4"/>
<rect x="1893.4" y="978.7" width="50.1" height="7.5" fill="#ffa0a4"/>
<rect x="1793.1" y="986" width="50.2" height="7.5" fill="#ffa0a4"/>
<rect x="1893.4" y="986" width="50.1" height="7.5" fill="#ffa0a4"/>
<rect x="1793.1" y="993.3" width="50.2" height="7.5" fill="#f86a6d"/>
<rect x="1893.4" y="993.3" width="50.1" height="7.5" fill="#ffa0a4"/>
<rect x="1993.5" y="993.3" width="50.3" height="7.5" fill="#fd7d80"/>
<rect x="1793.1" y="1000.6" width="50.2" height="7.5" fill="#ffb3b7"/>
<rect x="1893.4" y="1000.6" width="50.1" height="7.5" fill="#ffa0a4"/>
<rect x="1943.5" y="1000.6" width="50" height="7.5" fill="#ffb3b7"/>
<rect x="1993.5" y="1000.6" width="50.3" height="7.5" fill="#ffb3b7"/>
<rect x="1793.1" y="1007.9" width="50.2" height="7.5" fill="#ffb3b7"/>
<rect x="1893.4" y="1007.9" width="50.1" height="7.5" fill="#ffb3b7"/>
<rect x="1993.5" y="1007.9" width="50.3" height="7.5" fill="#ffb3b7"/>
<rect x="1793.1" y="1015.3" width="50.2" height="7.5" fill="#ff8e91"/>
<rect x="1843.3" y="1015.3" width="50.1" height="7.5" fill="#ffa0a4"/>
<rect x="1893.4" y="1015.3" width="50.1" height="7.5" fill="#ff8e91"/>
<rect x="1943.5" y="1015.3" width="50" height="7.5" fill="#ffa0a4"/>
<rect x="1993.5" y="1015.3" width="50.3" height="7.5" fill="#ffb3b7"/>
<rect x="1793.1" y="1022.6" width="50.2" height="7.5" fill="#ffa0a4"/>
<rect x="1843.3" y="1022.6" width="50.1" height="7.5" fill="#ffa0a4"/>
<rect x="1893.4" y="1022.6" width="50.1" height="7.5" fill="#ffa0a4"/>
<rect x="1943.5" y="1022.6" width="50" height="7.5" fill="#ffa0a4"/>
<rect x="1993.5" y="1022.6" width="50.3" height="7.5" fill="#ffa0a4"/>
<rect x="1793.1" y="1029.9" width="50.2" height="7.5" fill="#ffa0a4"/>
<rect x="1843.3" y="1029.9" width="50.1" height="7.5" fill="#ffa0a4"/>
<rect x="1893.4" y="1029.9" width="50.1" height="7.5" fill="#ffa0a4"/>
<rect x="1943.5" y="1029.9" width="50" height="7.5" fill="#ffa0a4"/>
<rect x="1993.5" y="1029.9" width="50.3" height="7.5" fill="#ffa0a4"/>
<rect x="1793.1" y="1037.2" width="50.2" height="7.5" fill="#ff8e91"/>
<rect x="1843.3" y="1037.2" width="50.1" height="7.5" fill="#ffa0a4"/>
<rect x="1893.4" y="1037.2" width="50.1" height="7.5" fill="#ffa0a4"/>
<rect x="1943.5" y="1037.2" width="50" height="7.5" fill="#ffa0a4"/>
<rect x="1993.5" y="1037.2" width="50.3" height="7.5" fill="#ffb3b7"/>
<rect x="1793.1" y="1044.5" width="50.2" height="7.5" fill="#ff8e91"/>
<rect x="1843.3" y="1044.5" width="50.1" height="7.5" fill="#ffa0a4"/>
<rect x="1893.4" y="1044.5" width="50.1" height="7.5" fill="#ffa0a4"/>
<rect x="1943.5" y="1044.5" width="50" height="7.5" fill="#ffb3b7"/>
<rect x="1993.5" y="1044.5" width="50.3" height="7.5" fill="#ffa0a4"/>
<rect x="1793.1" y="1051.8" width="50.2" height="7.5" fill="#ffb3b7"/>
<rect x="1843.3" y="1051.8" width="50.1" height="7.5" fill="#ffb3b7"/>
<rect x="1893.4" y="1051.8" width="50.1" height="7.5" fill="#ffb3b7"/>
<rect x="1943.5" y="1051.8" width="50" height="7.5" fill="#ffb3b7"/>
<rect x="1993.5" y="1051.8" width="50.3" height="7.5" fill="#ffa0a4"/>
<rect x="1793.1" y="1059.1" width="50.2" height="7.5" fill="#ffb3b7"/>
<rect x="1843.3" y="1059.1" width="50.1" height="7.5" fill="#ffb3b7"/>
<rect x="1893.4" y="1059.1" width="50.1" height="7.5" fill="#ffb3b7"/>
<rect x="1943.5" y="1059.1" width="50" height="7.5" fill="#ffb3b7"/>
<rect x="1993.5" y="1059.1" width="50.3" height="7.5" fill="#ffb3b7"/>
<rect x="1793.1" y="1066.4" width="50.2" height="7.5" fill="#ffb3b7"/>
<rect x="1843.3" y="1066.4" width="50.1" height="7.5" fill="#ffb3b7"/>
<rect x="1893.4" y="1066.4" width="50.1" height="7.5" fill="#ffb3b7"/>
<rect x="1943.5" y="1066.4" width="50" height="7.5" fill="#ffb3b7"/>
<rect x="1993.5" y="1066.4" width="50.3" height="7.5" fill="#ffb3b7"/>
<rect x="1793.1" y="1073.7" width="50.2" height="7.5" fill="#ffb3b7"/>
<rect x="1843.3" y="1073.7" width="50.1" height="7.5" fill="#ffb3b7"/>
<rect x="1893.4" y="1073.7" width="50.1" height="7.5" fill="#ffb3b7"/>
<rect x="1943.5" y="1073.7" width="50" height="7.5" fill="#ffb3b7"/>
<rect x="1993.5" y="1073.7" width="50.3" height="7.5" fill="#ffb3b7"/>
<rect x="1793.1" y="1081" width="50.2" height="7.5" fill="#ffb3b7"/>
<rect x="1843.3" y="1081" width="50.1" height="7.5" fill="#ffb3b7"/>
<rect x="1893.4" y="1081" width="50.1" height="7.5" fill="#ffb3b7"/>
<rect x="1943.5" y="1081" width="50" height="7.5" fill="#ffb3b7"/>
<rect x="1993.5" y="1081" width="50.3" height="7.5" fill="#ffb3b7"/>
<rect x="1793.1" y="1088.3" width="50.2" height="7.5" fill="#ffb3b7"/>
<rect x="1843.3" y="1088.3" width="50.1" height="7.5" fill="#ffb3b7"/>
<rect x="1893.4" y="1088.3" width="50.1" height="7.5" fill="#ffb3b7"/>
<rect x="1943.5" y="1088.3" width="50" height="7.5" fill="#ffb3b7"/>
<rect x="1993.5" y="1088.3" width="50.3" height="7.5" fill="#ffb3b7"/>
<rect x="1793.1" y="1095.6" width="50.2" height="7.5" fill="#ffb3b7"/>
<rect x="1843.3" y="1095.6" width="50.1" height="7.5" fill="#ffb3b7"/>
<rect x="1893.4" y="1095.6" width="50.1" height="7.5" fill="#ffb3b7"/>
<rect x="1943.5" y="1095.6" width="50" height="7.5" fill="#ffb3b7"/>
<rect x="1993.5" y="1095.6" width="50.3" height="7.5" fill="#ffb3b7"/>
<rect x="1793.1" y="1102.9" width="50.2" height="7.5" fill="#ffb3b7"/>
<rect x="1843.3" y="1102.9" width="50.1" height="7.5" fill="#ffb3b7"/>
<rect x="1893.4" y="1102.9" width="50.1" height="7.5" fill="#ffb3b7"/>
<rect x="1943.5" y="1102.9" width="50" height="7.5" fill="#ffb3b7"/>
<rect x="1993.5" y="1102.9" width="50.3" height="7.5" fill="#ffb3b7"/>
<rect x="1793.1" y="1110.2" width="50.2" height="7.5" fill="#ffb3b7"/>
<rect x="1843.3" y="1110.2" width="50.1" height="7.5" fill="#ffb3b7"/>
<rect x="1893.4" y="1110.2" width="50.1" height="7.5" fill="#ffb3b7"/>
<rect x="1943.5" y="1110.2" width="50" height="7.5" fill="#ffb3b7"/>
<rect x="1993.5" y="1110.2" width="50.3" height="7.5" fill="#ffb3b7"/>
<rect x="1793.1" y="1117.5" width="50.2" height="7.5" fill="#ffb3b7"/>
<rect x="1843.3" y="1117.5" width="50.1" height="7.5" fill="#ffb3b7"/>
<rect x="1893.4" y="1117.5" width="50.1" height="7.5" fill="#ffb3b7"/>
<rect x="1943.5" y="1117.5" width="50" height="7.5" fill="#ffb3b7"/>
<rect x="1993.5" y="1117.5" width="50.3" height="7.5" fill="#ffb3b7"/>
<rect x="1793.1" y="1124.8" width="50.2" height="7.5" fill="#ffa0a4"/>
<rect x="1843.3" y="1124.8" width="50.1" height="7.5" fill="#ffb3b7"/>
<rect x="1893.4" y="1124.8" width="50.1" height="7.5" fill="#ffa0a4"/>
<rect x="1943.5" y="1124.8" width="50" height="7.5" fill="#ffb3b7"/>
<rect x="1993.5" y="1124.8" width="50.3" height="7.5" fill="#ffb3b7"/>
<rect x="1793.1" y="1132.1" width="50.2" height="7.5" fill="#ffa0a4"/>
<rect x="1843.3" y="1132.1" width="50.1" height="7.5" fill="#ffb3b7"/>
<rect x="1893.4" y="1132.1" width="50.1" height="7.5" fill="#ffa0a4"/>
<rect x="1943.5" y="1132.1" width="50" height="7.5" fill="#ffb3b7"/>
<rect x="1993.5" y="1132.1" width="50.3" height="7.5" fill="#ffb3b7"/>
<rect x="1793.1" y="1139.4" width="50.2" height="7.5" fill="#ffa0a4"/>
<rect x="1843.3" y="1139.4" width="50.1" height="7.5" fill="#ffb3b7"/>
<rect x="1893.4" y="1139.4" width="50.1" height="7.5" fill="#ffb3b7"/>
<rect x="1943.5" y="1139.4" width="50" height="7.5" fill="#ffa0a4"/>
<rect x="1993.5" y="1139.4" width="50.3" height="7.5" fill="#ffa0a4"/>
<rect x="1793.1" y="1146.7" width="50.2" height="7.5" fill="#ffb3b7"/>
<rect x="1843.3" y="1146.7" width="50.1" height="7.5" fill="#ffb3b7"/>
<rect x="1893.4" y="1146.7" width="50.1" height="7.5" fill="#ffb3b7"/>
<rect x="1943.5" y="1146.7" width="50" height="7.5" fill="#ffa0a4"/>
<rect x="1993.5" y="1146.7" width="50.3" height="7.5" fill="#ffa0a4"/>
<rect x="1793.1" y="1154" width="50.2" height="7.5" fill="#ffb3b7"/>
<rect x="1843.3" y="1154" width="50.1" height="7.5" fill="#ffb3b7"/>
<rect x="1893.4" y="1154" width="50.1" height="7.5" fill="#ffb3b7"/>
<rect x="1943.5" y="1154" width="50" height="7.5" fill="#ffa0a4"/>
<rect x="1993.5" y="1154" width="50.3" height="7.5" fill="#ffa0a4"/>
<rect x="1793.1" y="1161.3" width="50.2" height="7.5" fill="#ffb3b7"/>
<rect x="1843.3" y="1161.3" width="50.1" height="7.5" fill="#ffa0a4"/>
<rect x="1893.4" y="1161.3" width="50.1" height="7.5" fill="#ffb3b7"/>
<rect x="1943.5" y="1161.3" width="50" height="7.5" fill="#ffa0a4"/>
<rect x="1993.5" y="1161.3" width="50.3" height="7.5" fill="#ffa0a4"/>
<rect x="1793.1" y="1168.6" width="50.2" height="7.5" fill="#ffa0a4"/>
<rect x="1843.3" y="1168.6" width="50.1" height="7.5" fill="#ffb3b7"/>
<rect x="1893.4" y="1168.6" width="50.1" height="7.5" fill="#ffb3b7"/>
<rect x="1943.5" y="1168.6" width="50" height="7.5" fill="#ffa0a4"/>
<rect x="1993.5" y="1168.6" width="50.3" height="7.5" fill="#ffb3b7"/>
<rect x="1843.3" y="1175.9" width="50.1" height="7.5" fill="#ffa0a4"/>
<rect x="1893.4" y="1175.9" width="50.1" height="7.5" fill="#ffa0a4"/>
<rect x="1943.5" y="1175.9" width="50" height="7.5" fill="#ffb3b7"/>
<rect x="1993.5" y="1175.9" width="50.3" height="7.5" fill="#ffa0a4"/>
<rect x="1793.1" y="1183.2" width="50.2" height="7.5" fill="#ffb3b7"/>
<rect x="1843.3" y="1183.2" width="50.1" height="7.5" fill="#ffb3b7"/>
<rect x="1893.4" y="1183.2" width="50.1" height="7.5" fill="#ffb3b7"/>
<rect x="1993.5" y="1183.2" width="50.3" height="7.5" fill="#ffb3b7"/>
<rect x="1793.1" y="1190.5" width="50.2" height="7.5" fill="#ffb3b7"/>
<rect x="1843.3" y="1190.5" width="50.1" height="7.5" fill="#ffa0a4"/>
<rect x="1893.4" y="1190.5" width="50.1" height="7.5" fill="#ffa0a4"/>
<rect x="1993.5" y="1190.5" width="50.3" height="7.5" fill="#ffb3b7"/>
<rect x="1793.1" y="1197.8" width="50.2" height="7.5" fill="#ffb3b7"/>
<rect x="1843.3" y="1197.8" width="50.1" height="7.5" fill="#ffa0a4"/>
<rect x="1893.4" y="1197.8" width="50.1" height="7.5" fill="#ffb3b7"/>
<rect x="1993.5" y="1197.8" width="50.3" height="7.5" fill="#ffa0a4"/>
<rect x="1793.1" y="1205.1" width="50.2" height="7.5" fill="#ffb3b7"/>
<rect x="1843.3" y="1205.1" width="50.1" height="7.5" fill="#ffb3b7"/>
<rect x="1893.4" y="1205.1" width="50.1" height="7.5" fill="#ffb3b7"/>
<rect x="1993.5" y="1205.1" width="50.3" height="7.5" fill="#ffa0a4"/>
<path d="M1793.1 409.2H2043.8M1793.1 416.5H2043.8M1793.1 423.8H2043.8M1793.1 431.1H2043.8M1793.1 438.4H2043.8M1793.1 445.7H2043.8M1793.1 453H2043.8M1793.1 460.3H2043.8M1793.1 467.6H2043.8M1793.1 474.9H2043.8M1793.1 482.2H2043.8M1793.1 489.5H2043.8M1793.1 496.8H2043.8M1793.1 504.1H2043.8M1793.1 511.4H2043.8M1793.1 518.7H2043.8M1793.1 526H2043.8M1793.1 533.3H2043.8M1793.1 540.6H2043.8M1793.1 547.9H2043.8M1793.1 555.2H2043.8M1793.1 562.5H2043.8M1793.1 569.8H2043.8M1793.1 577.1H2043.8M1793.1 584.4H2043.8M1793.1 591.7H2043.8M1793.1 599H2043.8M1793.1 606.3H2043.8M1793.1 613.7H2043.8M1793.1 621H2043.8M1793.1 628.3H2043.8M1793.1 635.6H2043.8M1793.1 642.9H2043.8M1793.1 650.2H2043.8M1793.1 657.5H2043.8M1793.1 664.8H2043.8M1793.1 672.1H2043.8M1793.1 679.4H2043.8M1793.1 686.7H2043.8M1793.1 694H2043.8M1793.1 701.3H2043.8M1793.1 708.6H2043.8M1793.1 715.9H2043.8M1793.1 723.2H2043.8M1793.1 730.5H2043.8M1793.1 737.8H2043.8M1793.1 745.1H2043.8M1793.1 752.4H2043.8M1793.1 759.7H2043.8M1793.1 767H2043.8M1793.1 774.3H2043.8M1793.1 781.6H2043.8M1793.1 788.9H2043.8M1793.1 796.2H2043.8M1793.1 803.5H2043.8M1793.1 810.8H2043.8M1793.1 818.1H2043.8M1793.1 825.4H2043.8M1793.1 832.7H2043.8M1793.1 840H2043.8M1793.1 847.3H2043.8M1793.1 854.6H2043.8M1793.1 861.9H2043.8M1793.1 869.2H2043.8M1793.1 876.5H2043.8M1793.1 883.8H2043.8M1793.1 891.1H2043.8M1793.1 898.4H2043.8M1793.1 905.7H2043.8M1793.1 913H2043.8M1793.1 920.3H2043.8M1793.1 927.6H2043.8M1793.1 934.9H2043.8M1793.1 942.2H2043.8M1793.1 949.5H2043.8M1793.1 956.8H2043.8M1793.1 964.1H2043.8M1793.1 971.4H2043.8M1793.1 978.7H2043.8M1793.1 986H2043.8M1793.1 993.3H2043.8M1793.1 1000.6H2043.8M1793.1 1007.9H2043.8M1793.1 1015.3H2043.8M1793.1 1022.6H2043.8M1793.1 1029.9H2043.8M1793.1 1037.2H2043.8M1793.1 1044.5H2043.8M1793.1 1051.8H2043.8M1793.1 1059.1H2043.8M1793.1 1066.4H2043.8M1793.1 1073.7H2043.8M1793.1 1081H2043.8M1793.1 1088.3H2043.8M1793.1 1095.6H2043.8M1793.1 1102.9H2043.8M1793.1 1110.2H2043.8M1793.1 1117.5H2043.8M1793.1 1124.8H2043.8M1793.1 1132.1H2043.8M1793.1 1139.4H2043.8M1793.1 1146.7H2043.8M1793.1 1154H2043.8M1793.1 1161.3H2043.8M1793.1 1168.6H2043.8M1793.1 1175.9H2043.8M1793.1 1183.2H2043.8M1793.1 1190.5H2043.8M1793.1 1197.8H2043.8M1793.1 1205.1H2043.8M1793.1 1212.4H2043.8" fill="none" stroke="#a2a2a2" stroke-width="0.9"/>
<path d="M1793.1 409.2V1212.4M1843.3 409.2V1212.4M1893.4 409.2V1212.4M1943.5 409.2V1212.4M1993.5 409.2V1212.4M2043.8 409.2V1212.4" fill="none" stroke="#8e8e8e" stroke-width="1.2"/>
<text x="1812" y="1245.6" font-size="28" text-anchor="middle" font-style="italic">Osi</text>
<text x="1864.4" y="1245.6" font-size="28" text-anchor="middle" font-style="italic">Osj</text>
<text x="1916" y="1245.6" font-size="28" text-anchor="middle" font-style="italic">Or</text>
<text x="1968.5" y="1245.6" font-size="28" text-anchor="middle" font-style="italic">Og</text>
<text x="2021" y="1245.6" font-size="28" text-anchor="middle" font-style="italic">Ob</text>
<text x="1774" y="834.5" font-size="29" text-anchor="middle" transform="rotate(-90 1774 834.5)">Collinear loci of cluster</text>
<defs><linearGradient id="cg" x1="0" x2="1" y1="0" y2="0"><stop offset="0" stop-color="#ffffff"/><stop offset="0.25" stop-color="#ffb8bc"/><stop offset="0.5" stop-color="#ff8083"/><stop offset="0.75" stop-color="#ee5052"/><stop offset="1" stop-color="#e03326"/></linearGradient></defs>
<rect x="1793.5" y="1267.2" width="142" height="14" fill="url(#cg)" stroke="#222" stroke-width="1.5"/>
<text x="1793.5" y="1305" font-size="28" text-anchor="middle">0</text>
<text x="1864.6" y="1305" font-size="28" text-anchor="middle">5</text>
<text x="1935.8" y="1305" font-size="28" text-anchor="middle">10</text>
<text x="1956" y="1282.8" font-size="28">Counts</text>
<text x="0.9" y="1346" font-size="35.5" font-weight="bold">k</text>
<text x="80.7" y="1356" font-size="28">Chr8</text>
<rect x="186.4" y="1381.8" width="8.2" height="79.8" fill="#e5e4de" rx="1.5"/>
<rect x="193.4" y="1381.8" width="1.2" height="79.8" fill="#d9d9cf"/>
<rect x="194.6" y="1381.8" width="1047.1" height="79.8" fill="#eef6db"/>
<path d="M202.4 1381.8V1461.6M210.1 1381.8V1461.6M217.9 1381.8V1461.6M225.6 1381.8V1461.6M233.4 1381.8V1461.6M241.1 1381.8V1461.6M248.9 1381.8V1461.6M256.7 1381.8V1461.6M264.4 1381.8V1461.6M272.2 1381.8V1461.6M279.9 1381.8V1461.6M287.7 1381.8V1461.6M295.4 1381.8V1461.6M303.2 1381.8V1461.6M310.9 1381.8V1461.6M318.7 1381.8V1461.6M326.5 1381.8V1461.6M334.2 1381.8V1461.6M342 1381.8V1461.6M349.7 1381.8V1461.6M357.5 1381.8V1461.6M365.2 1381.8V1461.6M373 1381.8V1461.6M380.8 1381.8V1461.6M388.5 1381.8V1461.6M396.3 1381.8V1461.6M404 1381.8V1461.6M411.8 1381.8V1461.6M419.5 1381.8V1461.6M427.3 1381.8V1461.6M435 1381.8V1461.6M442.8 1381.8V1461.6M450.6 1381.8V1461.6M458.3 1381.8V1461.6M466.1 1381.8V1461.6M473.8 1381.8V1461.6M481.6 1381.8V1461.6M489.3 1381.8V1461.6M497.1 1381.8V1461.6M504.9 1381.8V1461.6M512.6 1381.8V1461.6M520.4 1381.8V1461.6M528.1 1381.8V1461.6M535.9 1381.8V1461.6M543.6 1381.8V1461.6M551.4 1381.8V1461.6M559.1 1381.8V1461.6M566.9 1381.8V1461.6M574.7 1381.8V1461.6M582.4 1381.8V1461.6M590.2 1381.8V1461.6M597.9 1381.8V1461.6M605.7 1381.8V1461.6M613.4 1381.8V1461.6M621.2 1381.8V1461.6M629 1381.8V1461.6M636.7 1381.8V1461.6M644.5 1381.8V1461.6M652.2 1381.8V1461.6M660 1381.8V1461.6M667.7 1381.8V1461.6M675.5 1381.8V1461.6M683.2 1381.8V1461.6M691 1381.8V1461.6M698.8 1381.8V1461.6M706.5 1381.8V1461.6M714.3 1381.8V1461.6M722 1381.8V1461.6M729.8 1381.8V1461.6M737.5 1381.8V1461.6M745.3 1381.8V1461.6M753.1 1381.8V1461.6M760.8 1381.8V1461.6M768.6 1381.8V1461.6M776.3 1381.8V1461.6M784.1 1381.8V1461.6M791.8 1381.8V1461.6M799.6 1381.8V1461.6M807.3 1381.8V1461.6M815.1 1381.8V1461.6M822.9 1381.8V1461.6M830.6 1381.8V1461.6M838.4 1381.8V1461.6M846.1 1381.8V1461.6M853.9 1381.8V1461.6M861.6 1381.8V1461.6M869.4 1381.8V1461.6M877.2 1381.8V1461.6M884.9 1381.8V1461.6M892.7 1381.8V1461.6M900.4 1381.8V1461.6M908.2 1381.8V1461.6M915.9 1381.8V1461.6M923.7 1381.8V1461.6M931.4 1381.8V1461.6M939.2 1381.8V1461.6M947 1381.8V1461.6M954.7 1381.8V1461.6M962.5 1381.8V1461.6M970.2 1381.8V1461.6M978 1381.8V1461.6M985.7 1381.8V1461.6M993.5 1381.8V1461.6M1001.3 1381.8V1461.6M1009 1381.8V1461.6M1016.8 1381.8V1461.6M1024.5 1381.8V1461.6M1032.3 1381.8V1461.6M1040 1381.8V1461.6M1047.8 1381.8V1461.6M1055.5 1381.8V1461.6M1063.3 1381.8V1461.6M1071.1 1381.8V1461.6M1078.8 1381.8V1461.6M1086.6 1381.8V1461.6M1094.3 1381.8V1461.6M1102.1 1381.8V1461.6M1109.8 1381.8V1461.6M1117.6 1381.8V1461.6M1125.4 1381.8V1461.6M1133.1 1381.8V1461.6M1140.9 1381.8V1461.6M1148.6 1381.8V1461.6M1156.4 1381.8V1461.6M1164.1 1381.8V1461.6M1171.9 1381.8V1461.6M1179.7 1381.8V1461.6M1187.4 1381.8V1461.6M1195.2 1381.8V1461.6M1202.9 1381.8V1461.6M1210.7 1381.8V1461.6M1218.4 1381.8V1461.6M1226.2 1381.8V1461.6M1233.9 1381.8V1461.6" fill="none" stroke="#dcecbf" stroke-width="1.1"/>
<rect x="1241.7" y="1381.8" width="449.9" height="79.8" fill="#ebf5fb"/>
<path d="M1249.5 1381.8V1461.6M1257.2 1381.8V1461.6M1265 1381.8V1461.6M1272.7 1381.8V1461.6M1280.5 1381.8V1461.6M1288.2 1381.8V1461.6M1296 1381.8V1461.6M1303.8 1381.8V1461.6M1311.5 1381.8V1461.6M1319.3 1381.8V1461.6M1327 1381.8V1461.6M1334.8 1381.8V1461.6M1342.5 1381.8V1461.6M1350.3 1381.8V1461.6M1358 1381.8V1461.6M1365.8 1381.8V1461.6M1373.6 1381.8V1461.6M1381.3 1381.8V1461.6M1389.1 1381.8V1461.6M1396.8 1381.8V1461.6M1404.6 1381.8V1461.6M1412.3 1381.8V1461.6M1420.1 1381.8V1461.6M1427.9 1381.8V1461.6M1435.6 1381.8V1461.6M1443.4 1381.8V1461.6M1451.1 1381.8V1461.6M1458.9 1381.8V1461.6M1466.6 1381.8V1461.6M1474.4 1381.8V1461.6M1482.1 1381.8V1461.6M1489.9 1381.8V1461.6M1497.7 1381.8V1461.6M1505.4 1381.8V1461.6M1513.2 1381.8V1461.6M1520.9 1381.8V1461.6M1528.7 1381.8V1461.6M1536.4 1381.8V1461.6M1544.2 1381.8V1461.6M1552 1381.8V1461.6M1559.7 1381.8V1461.6M1567.5 1381.8V1461.6M1575.2 1381.8V1461.6M1583 1381.8V1461.6M1590.7 1381.8V1461.6M1598.5 1381.8V1461.6M1606.2 1381.8V1461.6M1614 1381.8V1461.6M1621.8 1381.8V1461.6M1629.5 1381.8V1461.6M1637.3 1381.8V1461.6M1645 1381.8V1461.6M1652.8 1381.8V1461.6M1660.5 1381.8V1461.6M1668.3 1381.8V1461.6M1676.1 1381.8V1461.6M1683.8 1381.8V1461.6" fill="none" stroke="#d5eaf6" stroke-width="1.1"/>
<rect x="1691.6" y="1381.8" width="201.7" height="79.8" fill="#e6e0e9"/>
<path d="M1699.3 1381.8V1461.6M1707.1 1381.8V1461.6M1714.8 1381.8V1461.6M1722.6 1381.8V1461.6M1730.3 1381.8V1461.6M1738.1 1381.8V1461.6M1745.9 1381.8V1461.6M1753.6 1381.8V1461.6M1761.4 1381.8V1461.6M1769.1 1381.8V1461.6M1776.9 1381.8V1461.6M1784.6 1381.8V1461.6M1792.4 1381.8V1461.6M1800.2 1381.8V1461.6M1807.9 1381.8V1461.6M1815.7 1381.8V1461.6M1823.4 1381.8V1461.6M1831.2 1381.8V1461.6M1838.9 1381.8V1461.6M1846.7 1381.8V1461.6M1854.4 1381.8V1461.6M1862.2 1381.8V1461.6M1870 1381.8V1461.6M1877.7 1381.8V1461.6M1885.5 1381.8V1461.6" fill="none" stroke="#d4c4d8" stroke-width="1.1"/>
<rect x="1893.2" y="1381.8" width="85.3" height="79.8" fill="#f6f9e0"/>
<path d="M1901 1381.8V1461.6M1908.7 1381.8V1461.6M1916.5 1381.8V1461.6M1924.3 1381.8V1461.6M1932 1381.8V1461.6M1939.8 1381.8V1461.6M1947.5 1381.8V1461.6M1955.3 1381.8V1461.6M1963 1381.8V1461.6M1970.8 1381.8V1461.6" fill="none" stroke="#e9f1c8" stroke-width="1.1"/>
<rect x="1978.5" y="1381.8" width="62.1" height="79.8" fill="#fdecdc"/>
<path d="M1986.3 1381.8V1461.6M1994.1 1381.8V1461.6M2001.8 1381.8V1461.6M2009.6 1381.8V1461.6M2017.3 1381.8V1461.6M2025.1 1381.8V1461.6M2032.8 1381.8V1461.6" fill="none" stroke="#f7dbc0" stroke-width="1.1"/>
<path d="M203.5 1424.1H209.2M211.2 1424.1H217M219 1424.1H224.7M226.7 1424.1H232.5M234.5 1424.1H240.2M242.2 1424.1H248M250 1424.1H255.8M265.5 1424.1H271.3M273.3 1424.1H279M296.5 1424.1H302.3M304.3 1424.1H310M312 1424.1H317.8M319.8 1424.1H325.6M327.6 1424.1H333.3M335.3 1424.1H341.1M343.1 1424.1H348.8M350.8 1424.1H356.6M358.6 1424.1H364.3M366.3 1424.1H372.1M374.1 1424.1H379.9M381.9 1424.1H387.6M389.6 1424.1H395.4M397.4 1424.1H403.1M405.1 1424.1H410.9M412.9 1424.1H418.6M428.4 1424.1H434.1M443.9 1424.1H449.7M451.7 1424.1H457.4M459.4 1424.1H465.2M467.2 1424.1H472.9M474.9 1424.1H480.7M482.7 1424.1H488.4M490.4 1424.1H496.2M498.2 1424.1H504M506 1424.1H511.7M513.7 1424.1H519.5M529.2 1424.1H535M537 1424.1H542.7M544.7 1424.1H550.5M552.5 1424.1H558.2M568 1424.1H573.8M575.8 1424.1H581.5M583.5 1424.1H589.3M591.3 1424.1H597M599 1424.1H604.8M606.8 1424.1H612.5M614.5 1424.1H620.3M622.3 1424.1H628.1M630.1 1424.1H635.8M637.8 1424.1H643.6M645.6 1424.1H651.3M653.3 1424.1H659.1M661.1 1424.1H666.8M668.8 1424.1H674.6M676.6 1424.1H682.3M684.3 1424.1H690.1M692.1 1424.1H697.9M707.6 1424.1H713.4M715.4 1424.1H721.1M723.1 1424.1H728.9M738.6 1424.1H744.4M746.4 1424.1H752.2M754.2 1424.1H759.9M769.7 1424.1H775.4M777.4 1424.1H783.2M785.2 1424.1H790.9M792.9 1424.1H798.7M808.4 1424.1H814.2M816.2 1424.1H822M824 1424.1H829.7M831.7 1424.1H837.5M839.5 1424.1H845.2M847.2 1424.1H853M855 1424.1H860.7M862.7 1424.1H868.5M870.5 1424.1H876.3M878.3 1424.1H884M886 1424.1H891.8M909.3 1424.1H915M917 1424.1H922.8M924.8 1424.1H930.5M932.5 1424.1H938.3M940.3 1424.1H946.1M948.1 1424.1H953.8M955.8 1424.1H961.6M963.6 1424.1H969.3M971.3 1424.1H977.1M979.1 1424.1H984.8M986.8 1424.1H992.6M994.6 1424.1H1000.4M1010.1 1424.1H1015.9M1017.9 1424.1H1023.6M1025.6 1424.1H1031.4M1033.4 1424.1H1039.1M1041.1 1424.1H1046.9M1048.9 1424.1H1054.6M1056.6 1424.1H1062.4M1064.4 1424.1H1070.2M1072.2 1424.1H1077.9M1079.9 1424.1H1085.7M1087.7 1424.1H1093.4M1095.4 1424.1H1101.2M1103.2 1424.1H1108.9M1126.5 1424.1H1132.2M1134.2 1424.1H1140M1142 1424.1H1147.7M1157.5 1424.1H1163.2M1165.2 1424.1H1171M1173 1424.1H1178.8M1180.8 1424.1H1186.5M1204 1424.1H1209.8M1211.8 1424.1H1217.5M1219.5 1424.1H1225.3M1227.3 1424.1H1233M1235 1424.1H1240.8M1242.8 1424.1H1248.6M1250.6 1424.1H1256.3M1258.3 1424.1H1264.1M1266.1 1424.1H1271.8M1273.8 1424.1H1279.6M1281.6 1424.1H1287.3M1289.3 1424.1H1295.1M1297.1 1424.1H1302.9M1304.9 1424.1H1310.6M1312.6 1424.1H1318.4M1320.4 1424.1H1326.1M1328.1 1424.1H1333.9M1335.9 1424.1H1341.6M1343.6 1424.1H1349.4M1351.4 1424.1H1357.1M1359.1 1424.1H1364.9M1366.9 1424.1H1372.7M1374.7 1424.1H1380.4M1382.4 1424.1H1388.2M1390.2 1424.1H1395.9M1397.9 1424.1H1403.7M1405.7 1424.1H1411.4M1413.4 1424.1H1419.2M1421.2 1424.1H1427M1429 1424.1H1434.7M1436.7 1424.1H1442.5M1444.5 1424.1H1450.2M1452.2 1424.1H1458M1460 1424.1H1465.7M1467.7 1424.1H1473.5M1475.5 1424.1H1481.2M1483.2 1424.1H1489M1491 1424.1H1496.8M1498.8 1424.1H1504.5M1506.5 1424.1H1512.3M1514.3 1424.1H1520M1522 1424.1H1527.8M1529.8 1424.1H1535.5M1537.5 1424.1H1543.3M1545.3 1424.1H1551.1M1553.1 1424.1H1558.8M1560.8 1424.1H1566.6M1576.3 1424.1H1582.1M1584.1 1424.1H1589.8M1591.8 1424.1H1597.6M1607.3 1424.1H1613.1M1615.1 1424.1H1620.9M1622.9 1424.1H1628.6M1630.6 1424.1H1636.4M1638.4 1424.1H1644.1M1646.1 1424.1H1651.9M1653.9 1424.1H1659.6M1661.6 1424.1H1667.4M1669.4 1424.1H1675.2M1677.2 1424.1H1682.9M1684.9 1424.1H1690.7M1933.1 1424.1H1938.9M1987.4 1424.1H1993.2M2026.2 1424.1H2031.9M2033.9 1424.1H2039.7M186.8 1424.1H193.2" fill="none" stroke="#bcbdb8" stroke-width="2"/>
<path d="M1700.4 1424.1H1706.2M1708.2 1424.1H1713.9M1715.9 1424.1H1721.7M1723.7 1424.1H1729.4M1731.4 1424.1H1737.2M1739.2 1424.1H1745M1747 1424.1H1752.7M1754.7 1424.1H1760.5M1762.5 1424.1H1768.2M1770.2 1424.1H1776M1778 1424.1H1783.7M1785.7 1424.1H1791.5M1801.3 1424.1H1807M1809 1424.1H1814.8M1824.5 1424.1H1830.3M1832.3 1424.1H1838M1840 1424.1H1845.8M1847.8 1424.1H1853.5M1855.5 1424.1H1861.3M1863.3 1424.1H1869.1M1871.1 1424.1H1876.8M1886.6 1424.1H1892.3" fill="none" stroke="#b7a9b6" stroke-width="2"/>
<path d="M1894.3 1424.1H1900.1M1902.1 1424.1H1907.8M1909.8 1424.1H1915.6M1917.6 1424.1H1923.4M1925.4 1424.1H1931.1M1940.9 1424.1H1946.6M1948.6 1424.1H1954.4M1956.4 1424.1H1962.1M1964.1 1424.1H1969.9M1971.9 1424.1H1977.6M1979.6 1424.1H1985.4M1995.2 1424.1H2000.9M2002.9 1424.1H2008.7M2010.7 1424.1H2016.4M2018.4 1424.1H2024.2" fill="none" stroke="#4467ab" stroke-width="2"/>
<line x1="178" y1="1382.3" x2="186" y2="1382.3" stroke="#111" stroke-width="2.2"/>
<line x1="178" y1="1461.4" x2="186" y2="1461.4" stroke="#111" stroke-width="2.2"/>
<text x="172.3" y="1391.3" font-size="28" text-anchor="end">2.30 Mb</text>
<text x="172.3" y="1469.9" font-size="28" text-anchor="end">3.10 Mb</text>
<text x="761.9" y="1488.1" font-size="28" text-anchor="middle" font-style="italic">Osi</text>
<text x="1482.8" y="1488.1" font-size="28" text-anchor="middle" font-style="italic">Osj</text>
<text x="1799.4" y="1488.1" font-size="28" text-anchor="middle" font-style="italic">Or</text>
<text x="1941" y="1488.1" font-size="28" text-anchor="middle" font-style="italic">Og</text>
<text x="2011.8" y="1488.1" font-size="28" text-anchor="middle" font-style="italic">Ob</text>
<text x="0.9" y="1520.8" font-size="35.5" font-weight="bold">l</text>
<text x="80.7" y="1541.6" font-size="28">Chr9</text>
<rect x="186.4" y="1567.9" width="8.2" height="79.7" fill="#e5e4de" rx="1.5"/>
<rect x="193.4" y="1567.9" width="1.2" height="79.7" fill="#d9d9cf"/>
<rect x="194.6" y="1567.9" width="1047.1" height="79.7" fill="#eef6db"/>
<path d="M202.4 1567.9V1647.6M210.1 1567.9V1647.6M217.9 1567.9V1647.6M225.6 1567.9V1647.6M233.4 1567.9V1647.6M241.1 1567.9V1647.6M248.9 1567.9V1647.6M256.7 1567.9V1647.6M264.4 1567.9V1647.6M272.2 1567.9V1647.6M279.9 1567.9V1647.6M287.7 1567.9V1647.6M295.4 1567.9V1647.6M303.2 1567.9V1647.6M310.9 1567.9V1647.6M318.7 1567.9V1647.6M326.5 1567.9V1647.6M334.2 1567.9V1647.6M342 1567.9V1647.6M349.7 1567.9V1647.6M357.5 1567.9V1647.6M365.2 1567.9V1647.6M373 1567.9V1647.6M380.8 1567.9V1647.6M388.5 1567.9V1647.6M396.3 1567.9V1647.6M404 1567.9V1647.6M411.8 1567.9V1647.6M419.5 1567.9V1647.6M427.3 1567.9V1647.6M435 1567.9V1647.6M442.8 1567.9V1647.6M450.6 1567.9V1647.6M458.3 1567.9V1647.6M466.1 1567.9V1647.6M473.8 1567.9V1647.6M481.6 1567.9V1647.6M489.3 1567.9V1647.6M497.1 1567.9V1647.6M504.9 1567.9V1647.6M512.6 1567.9V1647.6M520.4 1567.9V1647.6M528.1 1567.9V1647.6M535.9 1567.9V1647.6M543.6 1567.9V1647.6M551.4 1567.9V1647.6M559.1 1567.9V1647.6M566.9 1567.9V1647.6M574.7 1567.9V1647.6M582.4 1567.9V1647.6M590.2 1567.9V1647.6M597.9 1567.9V1647.6M605.7 1567.9V1647.6M613.4 1567.9V1647.6M621.2 1567.9V1647.6M629 1567.9V1647.6M636.7 1567.9V1647.6M644.5 1567.9V1647.6M652.2 1567.9V1647.6M660 1567.9V1647.6M667.7 1567.9V1647.6M675.5 1567.9V1647.6M683.2 1567.9V1647.6M691 1567.9V1647.6M698.8 1567.9V1647.6M706.5 1567.9V1647.6M714.3 1567.9V1647.6M722 1567.9V1647.6M729.8 1567.9V1647.6M737.5 1567.9V1647.6M745.3 1567.9V1647.6M753.1 1567.9V1647.6M760.8 1567.9V1647.6M768.6 1567.9V1647.6M776.3 1567.9V1647.6M784.1 1567.9V1647.6M791.8 1567.9V1647.6M799.6 1567.9V1647.6M807.3 1567.9V1647.6M815.1 1567.9V1647.6M822.9 1567.9V1647.6M830.6 1567.9V1647.6M838.4 1567.9V1647.6M846.1 1567.9V1647.6M853.9 1567.9V1647.6M861.6 1567.9V1647.6M869.4 1567.9V1647.6M877.2 1567.9V1647.6M884.9 1567.9V1647.6M892.7 1567.9V1647.6M900.4 1567.9V1647.6M908.2 1567.9V1647.6M915.9 1567.9V1647.6M923.7 1567.9V1647.6M931.4 1567.9V1647.6M939.2 1567.9V1647.6M947 1567.9V1647.6M954.7 1567.9V1647.6M962.5 1567.9V1647.6M970.2 1567.9V1647.6M978 1567.9V1647.6M985.7 1567.9V1647.6M993.5 1567.9V1647.6M1001.3 1567.9V1647.6M1009 1567.9V1647.6M1016.8 1567.9V1647.6M1024.5 1567.9V1647.6M1032.3 1567.9V1647.6M1040 1567.9V1647.6M1047.8 1567.9V1647.6M1055.5 1567.9V1647.6M1063.3 1567.9V1647.6M1071.1 1567.9V1647.6M1078.8 1567.9V1647.6M1086.6 1567.9V1647.6M1094.3 1567.9V1647.6M1102.1 1567.9V1647.6M1109.8 1567.9V1647.6M1117.6 1567.9V1647.6M1125.4 1567.9V1647.6M1133.1 1567.9V1647.6M1140.9 1567.9V1647.6M1148.6 1567.9V1647.6M1156.4 1567.9V1647.6M1164.1 1567.9V1647.6M1171.9 1567.9V1647.6M1179.7 1567.9V1647.6M1187.4 1567.9V1647.6M1195.2 1567.9V1647.6M1202.9 1567.9V1647.6M1210.7 1567.9V1647.6M1218.4 1567.9V1647.6M1226.2 1567.9V1647.6M1233.9 1567.9V1647.6" fill="none" stroke="#dcecbf" stroke-width="1.1"/>
<rect x="1241.7" y="1567.9" width="449.9" height="79.7" fill="#ebf5fb"/>
<path d="M1249.5 1567.9V1647.6M1257.2 1567.9V1647.6M1265 1567.9V1647.6M1272.7 1567.9V1647.6M1280.5 1567.9V1647.6M1288.2 1567.9V1647.6M1296 1567.9V1647.6M1303.8 1567.9V1647.6M1311.5 1567.9V1647.6M1319.3 1567.9V1647.6M1327 1567.9V1647.6M1334.8 1567.9V1647.6M1342.5 1567.9V1647.6M1350.3 1567.9V1647.6M1358 1567.9V1647.6M1365.8 1567.9V1647.6M1373.6 1567.9V1647.6M1381.3 1567.9V1647.6M1389.1 1567.9V1647.6M1396.8 1567.9V1647.6M1404.6 1567.9V1647.6M1412.3 1567.9V1647.6M1420.1 1567.9V1647.6M1427.9 1567.9V1647.6M1435.6 1567.9V1647.6M1443.4 1567.9V1647.6M1451.1 1567.9V1647.6M1458.9 1567.9V1647.6M1466.6 1567.9V1647.6M1474.4 1567.9V1647.6M1482.1 1567.9V1647.6M1489.9 1567.9V1647.6M1497.7 1567.9V1647.6M1505.4 1567.9V1647.6M1513.2 1567.9V1647.6M1520.9 1567.9V1647.6M1528.7 1567.9V1647.6M1536.4 1567.9V1647.6M1544.2 1567.9V1647.6M1552 1567.9V1647.6M1559.7 1567.9V1647.6M1567.5 1567.9V1647.6M1575.2 1567.9V1647.6M1583 1567.9V1647.6M1590.7 1567.9V1647.6M1598.5 1567.9V1647.6M1606.2 1567.9V1647.6M1614 1567.9V1647.6M1621.8 1567.9V1647.6M1629.5 1567.9V1647.6M1637.3 1567.9V1647.6M1645 1567.9V1647.6M1652.8 1567.9V1647.6M1660.5 1567.9V1647.6M1668.3 1567.9V1647.6M1676.1 1567.9V1647.6M1683.8 1567.9V1647.6" fill="none" stroke="#d5eaf6" stroke-width="1.1"/>
<rect x="1691.6" y="1567.9" width="201.7" height="79.7" fill="#e6e0e9"/>
<path d="M1699.3 1567.9V1647.6M1707.1 1567.9V1647.6M1714.8 1567.9V1647.6M1722.6 1567.9V1647.6M1730.3 1567.9V1647.6M1738.1 1567.9V1647.6M1745.9 1567.9V1647.6M1753.6 1567.9V1647.6M1761.4 1567.9V1647.6M1769.1 1567.9V1647.6M1776.9 1567.9V1647.6M1784.6 1567.9V1647.6M1792.4 1567.9V1647.6M1800.2 1567.9V1647.6M1807.9 1567.9V1647.6M1815.7 1567.9V1647.6M1823.4 1567.9V1647.6M1831.2 1567.9V1647.6M1838.9 1567.9V1647.6M1846.7 1567.9V1647.6M1854.4 1567.9V1647.6M1862.2 1567.9V1647.6M1870 1567.9V1647.6M1877.7 1567.9V1647.6M1885.5 1567.9V1647.6" fill="none" stroke="#d4c4d8" stroke-width="1.1"/>
<rect x="1893.2" y="1567.9" width="85.3" height="79.7" fill="#f6f9e0"/>
<path d="M1901 1567.9V1647.6M1908.7 1567.9V1647.6M1916.5 1567.9V1647.6M1924.3 1567.9V1647.6M1932 1567.9V1647.6M1939.8 1567.9V1647.6M1947.5 1567.9V1647.6M1955.3 1567.9V1647.6M1963 1567.9V1647.6M1970.8 1567.9V1647.6" fill="none" stroke="#e9f1c8" stroke-width="1.1"/>
<rect x="1978.5" y="1567.9" width="62.1" height="79.7" fill="#fdecdc"/>
<path d="M1986.3 1567.9V1647.6M1994.1 1567.9V1647.6M2001.8 1567.9V1647.6M2009.6 1567.9V1647.6M2017.3 1567.9V1647.6M2025.1 1567.9V1647.6M2032.8 1567.9V1647.6" fill="none" stroke="#f7dbc0" stroke-width="1.1"/>
<path d="M195.7 1607.1H201.5M234.5 1607.1H240.2M288.8 1607.1H294.5M304.3 1607.1H310M312 1607.1H317.8M381.9 1607.1H387.6M529.2 1607.1H535M591.3 1607.1H597M668.8 1607.1H674.6M847.2 1607.1H853M855 1607.1H860.7M878.3 1607.1H884M886 1607.1H891.8M893.8 1607.1H899.5M909.3 1607.1H915M971.3 1607.1H977.1M979.1 1607.1H984.8M986.8 1607.1H992.6M994.6 1607.1H1000.4M1002.4 1607.1H1008.1M1017.9 1607.1H1023.6M1048.9 1607.1H1054.6M1095.4 1607.1H1101.2M1103.2 1607.1H1108.9M1134.2 1607.1H1140M1165.2 1607.1H1171M1196.3 1607.1H1202M1211.8 1607.1H1217.5M1219.5 1607.1H1225.3M1878.8 1607.1H1884.6" fill="none" stroke="#bcbdb8" stroke-width="2"/>
<path d="M203.5 1607.1H209.2M211.2 1607.1H217M219 1607.1H224.7M226.7 1607.1H232.5M242.2 1607.1H248M250 1607.1H255.8M265.5 1607.1H271.3M273.3 1607.1H279M281 1607.1H286.8M296.5 1607.1H302.3M319.8 1607.1H325.6M327.6 1607.1H333.3M335.3 1607.1H341.1M343.1 1607.1H348.8M350.8 1607.1H356.6M358.6 1607.1H364.3M366.3 1607.1H372.1M389.6 1607.1H395.4M397.4 1607.1H403.1M405.1 1607.1H410.9M412.9 1607.1H418.6M420.6 1607.1H426.4M428.4 1607.1H434.1M436.1 1607.1H441.9M443.9 1607.1H449.7M451.7 1607.1H457.4M459.4 1607.1H465.2M467.2 1607.1H472.9M490.4 1607.1H496.2M498.2 1607.1H504M506 1607.1H511.7M521.5 1607.1H527.2M537 1607.1H542.7M544.7 1607.1H550.5M552.5 1607.1H558.2M560.2 1607.1H566M568 1607.1H573.8M575.8 1607.1H581.5M583.5 1607.1H589.3M599 1607.1H604.8M606.8 1607.1H612.5M614.5 1607.1H620.3M622.3 1607.1H628.1M630.1 1607.1H635.8M645.6 1607.1H651.3M653.3 1607.1H659.1M661.1 1607.1H666.8M676.6 1607.1H682.3M684.3 1607.1H690.1M692.1 1607.1H697.9M699.9 1607.1H705.6M707.6 1607.1H713.4M715.4 1607.1H721.1M723.1 1607.1H728.9M738.6 1607.1H744.4M746.4 1607.1H752.2M754.2 1607.1H759.9M769.7 1607.1H775.4M777.4 1607.1H783.2M785.2 1607.1H790.9M792.9 1607.1H798.7M800.7 1607.1H806.4M816.2 1607.1H822M824 1607.1H829.7M831.7 1607.1H837.5M839.5 1607.1H845.2M862.7 1607.1H868.5M870.5 1607.1H876.3M901.5 1607.1H907.3M917 1607.1H922.8M924.8 1607.1H930.5M932.5 1607.1H938.3M940.3 1607.1H946.1M948.1 1607.1H953.8M955.8 1607.1H961.6M963.6 1607.1H969.3M1010.1 1607.1H1015.9M1025.6 1607.1H1031.4M1033.4 1607.1H1039.1M1041.1 1607.1H1046.9M1056.6 1607.1H1062.4M1064.4 1607.1H1070.2M1072.2 1607.1H1077.9M1079.9 1607.1H1085.7M1087.7 1607.1H1093.4M1110.9 1607.1H1116.7M1118.7 1607.1H1124.5M1126.5 1607.1H1132.2M1142 1607.1H1147.7M1149.7 1607.1H1155.5M1157.5 1607.1H1163.2M1173 1607.1H1178.8M1180.8 1607.1H1186.5M1188.5 1607.1H1194.3M1204 1607.1H1209.8M1227.3 1607.1H1233M1235 1607.1H1240.8M1242.8 1607.1H1248.6M1250.6 1607.1H1256.3M1258.3 1607.1H1264.1M1266.1 1607.1H1271.8M1273.8 1607.1H1279.6M1281.6 1607.1H1287.3M1289.3 1607.1H1295.1M1297.1 1607.1H1302.9M1304.9 1607.1H1310.6M1312.6 1607.1H1318.4M1320.4 1607.1H1326.1M1328.1 1607.1H1333.9M1335.9 1607.1H1341.6M1343.6 1607.1H1349.4M1351.4 1607.1H1357.1M1359.1 1607.1H1364.9M1366.9 1607.1H1372.7M1374.7 1607.1H1380.4M1382.4 1607.1H1388.2M1390.2 1607.1H1395.9M1397.9 1607.1H1403.7M1405.7 1607.1H1411.4M1413.4 1607.1H1419.2M1421.2 1607.1H1427M1429 1607.1H1434.7M1436.7 1607.1H1442.5M1444.5 1607.1H1450.2M1452.2 1607.1H1458M1460 1607.1H1465.7M1467.7 1607.1H1473.5M1475.5 1607.1H1481.2M1483.2 1607.1H1489M1491 1607.1H1496.8M1498.8 1607.1H1504.5M1506.5 1607.1H1512.3M1514.3 1607.1H1520M1522 1607.1H1527.8M1529.8 1607.1H1535.5M1537.5 1607.1H1543.3M1545.3 1607.1H1551.1M1553.1 1607.1H1558.8M1560.8 1607.1H1566.6M1568.6 1607.1H1574.3M1576.3 1607.1H1582.1M1584.1 1607.1H1589.8M1591.8 1607.1H1597.6M1599.6 1607.1H1605.3M1607.3 1607.1H1613.1M1615.1 1607.1H1620.9M1622.9 1607.1H1628.6M1630.6 1607.1H1636.4M1638.4 1607.1H1644.1M1646.1 1607.1H1651.9M1653.9 1607.1H1659.6M1661.6 1607.1H1667.4M1669.4 1607.1H1675.2M1677.2 1607.1H1682.9M1684.9 1607.1H1690.7M1692.7 1607.1H1698.4M1708.2 1607.1H1713.9M1723.7 1607.1H1729.4M1778 1607.1H1783.7M1785.7 1607.1H1791.5M1793.5 1607.1H1799.3M1855.5 1607.1H1861.3M1886.6 1607.1H1892.3M1894.3 1607.1H1900.1M1902.1 1607.1H1907.8M1909.8 1607.1H1915.6M1917.6 1607.1H1923.4M1925.4 1607.1H1931.1M1933.1 1607.1H1938.9M1940.9 1607.1H1946.6M1948.6 1607.1H1954.4M1956.4 1607.1H1962.1M1964.1 1607.1H1969.9M1971.9 1607.1H1977.6M1979.6 1607.1H1985.4M1987.4 1607.1H1993.2M1995.2 1607.1H2000.9M2002.9 1607.1H2008.7M2010.7 1607.1H2016.4M2018.4 1607.1H2024.2M2026.2 1607.1H2031.9M2033.9 1607.1H2039.7M186.8 1607.1H193.2" fill="none" stroke="#4467ab" stroke-width="2"/>
<path d="M257.8 1607.1H263.5M374.1 1607.1H379.9M474.9 1607.1H480.7M482.7 1607.1H488.4M513.7 1607.1H519.5M730.9 1607.1H736.6M808.4 1607.1H814.2" fill="none" stroke="#b8321f" stroke-width="2"/>
<path d="M1700.4 1607.1H1706.2M1715.9 1607.1H1721.7M1731.4 1607.1H1737.2M1747 1607.1H1752.7M1754.7 1607.1H1760.5M1762.5 1607.1H1768.2M1770.2 1607.1H1776M1801.3 1607.1H1807M1809 1607.1H1814.8M1816.8 1607.1H1822.5M1824.5 1607.1H1830.3M1832.3 1607.1H1838M1840 1607.1H1845.8M1847.8 1607.1H1853.5M1863.3 1607.1H1869.1M1871.1 1607.1H1876.8" fill="none" stroke="#a3181a" stroke-width="2"/>
<line x1="178" y1="1568.3" x2="186" y2="1568.3" stroke="#111" stroke-width="2.2"/>
<line x1="178" y1="1647.6" x2="186" y2="1647.6" stroke="#111" stroke-width="2.2"/>
<text x="172.3" y="1577.3" font-size="28" text-anchor="end">19.66 Mb</text>
<text x="172.3" y="1656.1" font-size="28" text-anchor="end">20.46 Mb</text>
<text x="761.9" y="1675.6" font-size="28" text-anchor="middle" font-style="italic">Osi</text>
<text x="1482.8" y="1675.6" font-size="28" text-anchor="middle" font-style="italic">Osj</text>
<text x="1799.4" y="1675.6" font-size="28" text-anchor="middle" font-style="italic">Or</text>
<text x="1941" y="1675.6" font-size="28" text-anchor="middle" font-style="italic">Og</text>
<text x="2011.8" y="1675.6" font-size="28" text-anchor="middle" font-style="italic">Ob</text>
<text x="0.8" y="1722.6" font-size="35.5" font-weight="bold">m</text>
<polygon points="394.3,1776.1 434.5,1776.1 360,1842.1 344.6,1842.1" fill="#f9cde1"/>
<polygon points="437.4,1776.1 451.3,1776.1 391.4,1842.1 382.6,1842.1" fill="#f9cde1"/>
<polygon points="456.4,1776.1 465.2,1776.1 405,1842.1 396.5,1842.1" fill="#f9cde1"/>
<polygon points="467,1776.1 495.8,1776.1 442.5,1842.1 407.5,1842.1" fill="#f9cde1"/>
<polygon points="497.3,1776.1 528,1776.1 495.1,1842.1 460.8,1842.1" fill="#f9cde1"/>
<polygon points="531.6,1776.1 574.7,1776.1 525.8,1842.1 506.1,1842.1" fill="#f9cde1"/>
<polygon points="582.8,1776.1 593,1776.1 595.2,1842.1 585,1842.1" fill="#f9cde1"/>
<polygon points="595.1,1776.1 603.2,1776.1 604.6,1842.1 596.6,1842.1" fill="#f9cde1"/>
<polygon points="693.7,1776.1 756.6,1776.1 687.2,1842.1 622.1,1842.1" fill="#f9cde1"/>
<polygon points="756.6,1776.1 761.7,1776.1 715.7,1842.1 712,1842.1" fill="#f9cde1"/>
<polygon points="772.6,1776.1 782.9,1776.1 740.5,1842.1 730.3,1842.1" fill="#f9cde1"/>
<polygon points="795.3,1776.1 802.6,1776.1 765.3,1842.1 756.6,1842.1" fill="#f9cde1"/>
<polygon points="806.2,1776.1 826.7,1776.1 787.3,1842.1 769,1842.1" fill="#f9cde1"/>
<polygon points="828.2,1776.1 842.8,1776.1 804,1842.1 789.4,1842.1" fill="#f9cde1"/>
<polygon points="343.9,1857.2 357.8,1857.2 375.3,1923.6 343.9,1923.6" fill="#f9cde1"/>
<polygon points="381.9,1857.2 390.6,1857.2 392.1,1923.6 383.3,1923.6" fill="#f9cde1"/>
<polygon points="399.4,1857.2 441.8,1857.2 441,1923.6 397.9,1923.6" fill="#f9cde1"/>
<polygon points="460,1857.2 465.2,1857.2 447.6,1923.6 443.2,1923.6" fill="#f9cde1"/>
<polygon points="468.8,1857.2 479.8,1857.2 465.2,1923.6 454.9,1923.6" fill="#f9cde1"/>
<polygon points="479.8,1857.2 493.6,1857.2 490.7,1923.6 477.6,1923.6" fill="#f9cde1"/>
<polygon points="509.7,1857.2 522.6,1857.2 511.2,1923.6 498.8,1923.6" fill="#f9cde1"/>
<polygon points="529.4,1857.2 540.4,1857.2 532.4,1923.6 520.7,1923.6" fill="#f9cde1"/>
<polygon points="585,1857.2 593,1857.2 546.2,1923.6 534.6,1923.6" fill="#f9cde1"/>
<polygon points="595.2,1857.2 625.8,1857.2 578.4,1923.6 547.7,1923.6" fill="#f9cde1"/>
<polygon points="631.6,1857.2 686.4,1857.2 704.7,1923.6 648.4,1923.6" fill="#f9cde1"/>
<polygon points="730.3,1857.2 759.5,1857.2 800.4,1923.6 771.2,1923.6" fill="#f9cde1"/>
<polygon points="343.9,1938.4 378.5,1938.4 367.7,2004.6 343.4,2004.6" fill="#f9cde1"/>
<polygon points="382.9,1938.4 440.8,1938.4 433,2004.6 372.4,2004.6" fill="#f9cde1"/>
<polygon points="442.5,1938.4 446.9,1938.4 456,2004.6 451.3,2004.6" fill="#f9cde1"/>
<polygon points="457.4,1938.4 464.7,1938.4 490.7,2004.6 484.1,2004.6" fill="#f9cde1"/>
<polygon points="477.6,1938.4 490.7,1938.4 505.3,2004.6 490.7,2004.6" fill="#f9cde1"/>
<polygon points="498.8,1938.4 511.2,1938.4 533.8,2004.6 521.4,2004.6" fill="#f9cde1"/>
<polygon points="520.7,1938.4 541.9,1938.4 559.4,2004.6 539.7,2004.6" fill="#f9cde1"/>
<polygon points="549.9,1938.4 581.3,1938.4 591.5,2004.6 561.6,2004.6" fill="#f9cde1"/>
<polygon points="648.4,1938.4 680.6,1938.4 626.5,2004.6 592.2,2004.6" fill="#f9cde1"/>
<polygon points="680.6,1938.4 704,1938.4 660.9,2004.6 639.7,2004.6" fill="#f9cde1"/>
<polygon points="771.2,1938.4 833.3,1938.4 766.8,2004.6 702.5,2004.6" fill="#f9cde1"/>
<polygon points="395.8,2019.9 433,2019.9 373.8,2085.4 342.9,2085.4" fill="#f9cde1"/>
<polygon points="452,2019.9 456.4,2019.9 388.4,2085.4 379.7,2085.4" fill="#f9cde1"/>
<polygon points="484.1,2019.9 506.1,2019.9 435.2,2085.4 400.1,2085.4" fill="#f9cde1"/>
<polygon points="517.8,2019.9 537.5,2019.9 448.4,2085.4 435.9,2085.4" fill="#f9cde1"/>
<polygon points="552.8,2019.9 566.7,2019.9 458.6,2085.4 452.7,2085.4" fill="#f9cde1"/>
<polygon points="621.4,2019.9 628,2019.9 689.4,2085.4 682,2085.4" fill="#f9cde1"/>
<polygon points="647,2019.9 661.6,2019.9 708.4,2085.4 693.7,2085.4" fill="#f9cde1"/>
<polygon points="703.2,2019.9 712.7,2019.9 808.4,2085.4 799,2085.4" fill="#f9cde1"/>
<polygon points="780.7,2019.9 797.5,2019.9 846.4,2085.4 830.4,2085.4" fill="#f9cde1"/>
<polygon points="342.1,2100 430.8,2100 448.4,2161 342.1,2161" fill="#f9cde1"/>
<polygon points="435.9,2100 539.7,2100 576.2,2161 471.7,2161" fill="#f9cde1"/>
<polygon points="684.2,2100 718.6,2100 711.3,2161 676.9,2161" fill="#f9cde1"/>
<polygon points="744.1,2100 852.3,2100 852.3,2161 711.3,2161" fill="#f9cde1"/>
<line x1="434.5" y1="1776" x2="360" y2="1842.5" stroke="#ffffff" stroke-width="0.9"/>
<line x1="495.8" y1="1776" x2="442.5" y2="1842.5" stroke="#ffffff" stroke-width="0.9"/>
<line x1="515" y1="1776" x2="478" y2="1842.5" stroke="#ffffff" stroke-width="0.9"/>
<line x1="553" y1="1776" x2="515" y2="1842.5" stroke="#ffffff" stroke-width="0.9"/>
<line x1="720" y1="1776" x2="640" y2="1842.5" stroke="#ffffff" stroke-width="0.9"/>
<line x1="730" y1="1776" x2="655" y2="1842.5" stroke="#ffffff" stroke-width="0.9"/>
<line x1="345" y1="2100" x2="372" y2="2161.5" stroke="#ffffff" stroke-width="0.9"/>
<line x1="389" y1="2100" x2="409" y2="2161.5" stroke="#ffffff" stroke-width="0.9"/>
<line x1="445" y1="2100" x2="481" y2="2161.5" stroke="#ffffff" stroke-width="0.9"/>
<line x1="505" y1="1938" x2="498" y2="2005" stroke="#ffffff" stroke-width="0.9"/>
<line x1="416" y1="1938" x2="412" y2="2005" stroke="#ffffff" stroke-width="0.9"/>
<line x1="343.5" y1="1766.9" x2="855" y2="1768.8" stroke="#0c0c0c" stroke-width="3" stroke-linecap="round"/>
<line x1="343.5" y1="1849.4" x2="855" y2="1850.6" stroke="#0c0c0c" stroke-width="3" stroke-linecap="round"/>
<line x1="343.5" y1="1931.3" x2="855" y2="1933.3" stroke="#0c0c0c" stroke-width="3" stroke-linecap="round"/>
<line x1="343.5" y1="2011.9" x2="855" y2="2013.3" stroke="#0c0c0c" stroke-width="3" stroke-linecap="round"/>
<line x1="343.5" y1="2093" x2="855" y2="2094.8" stroke="#0c0c0c" stroke-width="3" stroke-linecap="round"/>
<line x1="343.5" y1="2166.5" x2="855" y2="2168.2" stroke="#0c0c0c" stroke-width="3" stroke-linecap="round"/>
<polygon points="654.3,1763.8 667.4,1763.8 667.4,1759.8 682.8,1768.6 667.4,1777.3 667.4,1773.3 654.3,1773.3" fill="#88dcbd" stroke="#88dcbd" stroke-width="0.8" stroke-linejoin="round"/>
<polygon points="706.9,1764 730.3,1764 730.3,1760 753.6,1768.8 730.3,1777.5 730.3,1773.5 706.9,1773.5" fill="#88dcbd" stroke="#88dcbd" stroke-width="0.8" stroke-linejoin="round"/>
<line x1="661.6" y1="1752.5" x2="661.6" y2="1781.9" stroke="#111" stroke-width="1.8"/>
<polygon points="654.3,1845.5 669.6,1845.5 669.6,1841.5 685,1850.2 669.6,1859 669.6,1855 654.3,1855" fill="#88dcbd" stroke="#88dcbd" stroke-width="0.8" stroke-linejoin="round"/>
<polygon points="654.3,1927.5 677.7,1927.5 677.7,1923.5 702.5,1932.2 677.7,1941 677.7,1937 654.3,1937" fill="#88dcbd" stroke="#88dcbd" stroke-width="0.8" stroke-linejoin="round"/>
<polygon points="597.3,2008 625.1,2008 625.1,2004 656.5,2012.7 625.1,2021.5 625.1,2017.5 597.3,2017.5" fill="#88dcbd" stroke="#88dcbd" stroke-width="0.8" stroke-linejoin="round"/>
<polygon points="652.8,2089.2 672.6,2089.2 672.6,2085.2 696.7,2094 672.6,2102.8 672.6,2098.8 652.8,2098.8" fill="#88dcbd" stroke="#88dcbd" stroke-width="0.8" stroke-linejoin="round"/>
<polygon points="652.5,2162.8 674.7,2162.8 674.7,2158.8 698.9,2167.6 674.7,2176.3 674.7,2172.3 652.5,2172.3" fill="#88dcbd" stroke="#88dcbd" stroke-width="0.8" stroke-linejoin="round"/>
<path d="M729.5 1762.5 L668.7 1849.5 L677.7 1931.8 L625.3 2012.5 L672.6 2093.8 L674.2 2168.5" fill="none" stroke="#5a5a5a" stroke-width="2.3" stroke-dasharray="6.5 5.5"/>
<text x="603.2" y="1749.2" font-size="28">F-box domain</text>
<text x="45.5" y="1775.5" font-size="28">Hap.1</text>
<text x="45.5" y="1939" font-size="28">Hap.2</text>
<text x="45.5" y="2017" font-size="28">Hap.3</text>
<text x="45.5" y="2095.8" font-size="28">Hap.4</text>
<text x="45.5" y="2172.4" font-size="28">Hap.5</text>
<text x="221.2" y="1764.2" font-size="28">NH265</text>
<text x="221.2" y="1792.7" font-size="28">(n=15)</text>
<text x="221.2" y="1925.5" font-size="28">CW12</text>
<text x="221.2" y="1954.2" font-size="28">(n=23)</text>
<text x="221.2" y="2009.7" font-size="28">NH044</text>
<text x="221.2" y="2037.6" font-size="28">(n=57)</text>
<text x="221.2" y="2089" font-size="28">NH006</text>
<text x="221.2" y="2117.3" font-size="28">(n=72)</text>
<text x="221.2" y="2163.3" font-size="28">NH030</text>
<text x="221.2" y="2192" font-size="28">(n=60)</text>
<text x="306" y="1857.3" font-size="28" text-anchor="end" font-style="italic">O. longistaminata</text>
<path d="M167.6 1769.4 L167.6 1740.2 A29.2 29.2 0 1 1 141.9 1783.3 Z" fill="#655a9b"/>
<path d="M167.6 1769.4 L141.9 1783.3 A29.2 29.2 0 0 1 167.6 1740.2 Z" fill="#cc5028"/>
<path d="M167.6 1931 L167.6 1901.8 A29.2 29.2 0 1 1 156 1957.8 Z" fill="#a84d8e"/>
<path d="M167.6 1931 L156 1957.8 A29.2 29.2 0 0 1 146.2 1911.1 Z" fill="#6490c0"/>
<path d="M167.6 1931 L146.2 1911.1 A29.2 29.2 0 0 1 152.4 1906 Z" fill="#655a9b"/>
<path d="M167.6 1931 L152.4 1906 A29.2 29.2 0 0 1 167.6 1901.8 Z" fill="#cc5028"/>
<path d="M167.6 2011.8 L167.6 1982.6 A29.2 29.2 0 1 1 164.4 1982.8 Z" fill="#a84d8e"/>
<path d="M167.6 2011.8 L164.4 1982.8 A29.2 29.2 0 0 1 167.6 1982.6 Z" fill="#6490c0"/>
<path d="M167.6 2093.6 L167.6 2064.4 A29.2 29.2 0 1 1 141.9 2079.7 Z" fill="#a84d8e"/>
<path d="M167.6 2093.6 L141.9 2079.7 A29.2 29.2 0 0 1 160.7 2065.2 Z" fill="#5f9457"/>
<path d="M167.6 2093.6 L160.7 2065.2 A29.2 29.2 0 0 1 167.6 2064.4 Z" fill="#6490c0"/>
<path d="M167.6 2167.9 L167.6 2138.7 A29.2 29.2 0 0 1 175.6 2139.8 Z" fill="#a84d8e"/>
<path d="M167.6 2167.9 L175.6 2139.8 A29.2 29.2 0 1 1 141.9 2154 Z" fill="#5f9457"/>
<path d="M167.6 2167.9 L141.9 2154 A29.2 29.2 0 0 1 167.6 2138.7 Z" fill="#6490c0"/>
<polygon points="414.5,2192.3 426.4,2192.3 426.4,2185.1 437.4,2199.3 426.4,2213.6 426.4,2206.3 414.5,2206.3" fill="#88dcbd" stroke="#88dcbd" stroke-width="0.8" stroke-linejoin="round"/>
<text x="441.8" y="2206.3" font-size="28">OG0005409</text>
<line x1="623.6" y1="2199" x2="697.4" y2="2199" stroke="#111" stroke-width="2.6"/>
<text x="702.5" y="2206.3" font-size="28">20 kb</text>
<rect x="897" y="2035.7" width="14.7" height="14.6" fill="#a84d8e"/>
<text x="929.1" y="2049.7" font-size="28" font-style="italic">Osi</text>
<rect x="897" y="2064.4" width="14.7" height="14.6" fill="#5f9457"/>
<text x="929.1" y="2077.8" font-size="28" font-style="italic">Osj</text>
<rect x="897" y="2093.3" width="14.7" height="14.6" fill="#6490c0"/>
<text x="929.1" y="2106.5" font-size="28" font-style="italic">Or</text>
<rect x="897" y="2122" width="14.7" height="14.6" fill="#655a9b"/>
<text x="929.1" y="2134.9" font-size="28" font-style="italic">Og</text>
<rect x="897" y="2150.1" width="14.7" height="14.6" fill="#cc5028"/>
<text x="929.1" y="2163.5" font-size="28" font-style="italic">Ob</text>
<text x="1067" y="1722.6" font-size="35.5" font-weight="bold">n</text>
<polygon points="1463.3,1780.4 1842.2,1780.4 1842.8,1856 1464.2,1856" fill="#f9cde1"/>
<polygon points="1480.3,1882.8 1546.7,1882.8 1555.6,1957.5 1488.6,1957.5" fill="#f9cde1"/>
<polygon points="1580.9,1882.8 1590.4,1882.8 1591.9,1957.5 1582.4,1957.5" fill="#f9cde1"/>
<polygon points="1610.7,1882.8 1630.9,1882.8 1628.5,1957.5 1605.3,1957.5" fill="#f9cde1"/>
<polygon points="1632.4,1882.8 1652.3,1882.8 1646.4,1957.5 1629.4,1957.5" fill="#f9cde1"/>
<polygon points="1655.3,1882.8 1686.5,1882.8 1749,1957.5 1717.8,1957.5" fill="#f9cde1"/>
<polygon points="1705,1882.8 1763.9,1882.8 1818.4,1957.5 1761,1957.5" fill="#f9cde1"/>
<polygon points="1814.5,1882.8 1824.9,1882.8 1870.5,1957.5 1859.2,1957.5" fill="#f9cde1"/>
<polygon points="1828.8,1882.8 1843.4,1882.8 1891,1957.5 1875.5,1957.5" fill="#f9cde1"/>
<polygon points="1424,1984.4 1433.6,1984.4 1447,2059.1 1438,2059.1" fill="#f9cde1"/>
<polygon points="1440.4,1984.4 1447,1984.4 1458,2059.1 1450.8,2059.1" fill="#f9cde1"/>
<polygon points="1447.9,1984.4 1455,1984.4 1475.8,2059.1 1467.8,2059.1" fill="#f9cde1"/>
<polygon points="1489.2,1984.4 1566.9,1984.4 1542.2,2059.1 1495.5,2059.1" fill="#f9cde1"/>
<polygon points="1568.1,1984.4 1592.2,1984.4 1598.8,2059.1 1543.1,2059.1" fill="#f9cde1"/>
<polygon points="1607.7,1984.4 1646.4,1984.4 1650.8,2059.1 1611.5,2059.1" fill="#f9cde1"/>
<polygon points="1649.3,1984.4 1674.6,1984.4 1679.1,2059.1 1652.3,2059.1" fill="#f9cde1"/>
<polygon points="1677.6,1984.4 1750,1984.4 1750,2059.1 1680.6,2059.1" fill="#f9cde1"/>
<polygon points="1761.8,1984.4 1819,1984.4 1826.4,2059.1 1768.4,2059.1" fill="#f9cde1"/>
<polygon points="1862.1,1984.4 1868.7,1984.4 1895.5,2059.1 1887.4,2059.1" fill="#f9cde1"/>
<polygon points="1409.8,2086.5 1419.6,2086.5 1417.2,2161.5 1406.8,2161.5" fill="#f9cde1"/>
<polygon points="1438,2086.5 1447,2086.5 1426.1,2161.5 1418.1,2161.5" fill="#f9cde1"/>
<polygon points="1448.5,2086.5 1458,2086.5 1441,2161.5 1433,2161.5" fill="#f9cde1"/>
<polygon points="1499,2086.5 1728.2,2086.5 1698.5,2161.5 1469.3,2161.5" fill="#f9cde1"/>
<polygon points="1734.2,2086.5 1832.4,2086.5 1869.6,2161.5 1775.8,2161.5" fill="#f9cde1"/>
<polygon points="1847.9,2086.5 1896.4,2086.5 1915.7,2161.5 1874,2161.5" fill="#f9cde1"/>
<line x1="1711" y1="1984" x2="1713" y2="2059.5" stroke="#ffffff" stroke-width="0.9"/>
<line x1="1763" y1="1882.5" x2="1808" y2="1958" stroke="#ffffff" stroke-width="0.9"/>
<line x1="1838" y1="2086" x2="1865" y2="2162" stroke="#ffffff" stroke-width="0.9"/>
<line x1="1436" y1="1984" x2="1449" y2="2059.5" stroke="#ffffff" stroke-width="0.9"/>
<line x1="1389.5" y1="1767.6" x2="1917" y2="1767.6" stroke="#0c0c0c" stroke-width="3" stroke-linecap="round"/>
<line x1="1389.5" y1="1869.4" x2="1917" y2="1869.4" stroke="#0c0c0c" stroke-width="3" stroke-linecap="round"/>
<line x1="1389.5" y1="1971.2" x2="1917" y2="1971.2" stroke="#0c0c0c" stroke-width="3" stroke-linecap="round"/>
<line x1="1389.5" y1="2072.5" x2="1917" y2="2072.5" stroke="#0c0c0c" stroke-width="3" stroke-linecap="round"/>
<line x1="1389.5" y1="2168.3" x2="1917" y2="2168.3" stroke="#0c0c0c" stroke-width="3" stroke-linecap="round"/>
<polygon points="1619.6,1759.6 1652.3,1759.6 1652.3,1753.6 1685,1767.6 1652.3,1781.6 1652.3,1775.6 1619.6,1775.6" fill="#88dcbd" stroke="#88dcbd" stroke-width="0.8" stroke-linejoin="round"/>
<polygon points="1620.5,1861.4 1638.3,1861.4 1638.3,1855.4 1656.8,1869.4 1638.3,1883.4 1638.3,1877.4 1620.5,1877.4" fill="#f39d2e" stroke="#f39d2e" stroke-width="0.8" stroke-linejoin="round"/>
<polygon points="1657.7,1861.4 1671.7,1861.4 1671.7,1855.4 1686,1869.4 1671.7,1883.4 1671.7,1877.4 1657.7,1877.4" fill="#88dcbd" stroke="#88dcbd" stroke-width="0.8" stroke-linejoin="round"/>
<polygon points="1614.2,1963.2 1631.5,1963.2 1631.5,1957.2 1648.8,1971.2 1631.5,1985.2 1631.5,1979.2 1614.2,1979.2" fill="#f39d2e" stroke="#f39d2e" stroke-width="0.8" stroke-linejoin="round"/>
<polygon points="1666.3,1963.2 1685,1963.2 1685,1957.2 1704.4,1971.2 1685,1985.2 1685,1979.2 1666.3,1979.2" fill="#88dcbd" stroke="#88dcbd" stroke-width="0.8" stroke-linejoin="round"/>
<polygon points="1732.1,1963.2 1740.1,1963.2 1740.1,1957.2 1749.9,1971.2 1740.1,1985.2 1740.1,1979.2 1732.1,1979.2" fill="#88dcbd" stroke="#88dcbd" stroke-width="0.8" stroke-linejoin="round"/>
<polygon points="1619.6,2064.5 1636,2064.5 1636,2058.5 1650.2,2072.5 1636,2086.5 1636,2080.5 1619.6,2080.5" fill="#f39d2e" stroke="#f39d2e" stroke-width="0.8" stroke-linejoin="round"/>
<polygon points="1670.2,2064.5 1685,2064.5 1685,2058.5 1700,2072.5 1685,2086.5 1685,2080.5 1670.2,2080.5" fill="#88dcbd" stroke="#88dcbd" stroke-width="0.8" stroke-linejoin="round"/>
<polygon points="1717.2,2064.5 1732.7,2064.5 1732.7,2058.5 1750,2072.5 1732.7,2086.5 1732.7,2080.5 1717.2,2080.5" fill="#88dcbd" stroke="#88dcbd" stroke-width="0.8" stroke-linejoin="round"/>
<polygon points="1589.2,2160.3 1603.8,2160.3 1603.8,2154.3 1619.6,2168.3 1603.8,2182.3 1603.8,2176.3 1589.2,2176.3" fill="#f39d2e" stroke="#f39d2e" stroke-width="0.8" stroke-linejoin="round"/>
<polygon points="1639.8,2160.3 1653.8,2160.3 1653.8,2154.3 1668.7,2168.3 1653.8,2182.3 1653.8,2176.3 1639.8,2176.3" fill="#88dcbd" stroke="#88dcbd" stroke-width="0.8" stroke-linejoin="round"/>
<polygon points="1686.5,2163.3 1688.5,2163.3 1688.5,2154.8 1695.5,2168.3 1688.5,2181.8 1688.5,2173.3 1686.5,2173.3" fill="#88dcbd" stroke="#88dcbd" stroke-width="0.8" stroke-linejoin="round"/>
<polygon points="1773.5,2163.3 1777.5,2163.3 1777.5,2154.3 1787.7,2168.3 1777.5,2182.3 1777.5,2173.3 1773.5,2173.3" fill="#88dcbd" stroke="#88dcbd" stroke-width="0.8" stroke-linejoin="round"/>
<path d="M1652.3 1767.6 L1673.2 1869.4 L1741.6 1971.2 L1734.2 2072.5 L1778.8 2168.3" fill="none" stroke="#5a5a5a" stroke-width="2.3" stroke-dasharray="6.5 5.5"/>
<path d="M1634.5 1869.4 L1629.4 1971.2 L1633.6 2072.5 L1603.8 2168.3" fill="none" stroke="#5a5a5a" stroke-width="2.3" stroke-dasharray="6.5 5.5"/>
<path d="M1684.2 1971.2 L1683.6 2072.5 L1653.8 2168.3" fill="none" stroke="#5a5a5a" stroke-width="2.3" stroke-dasharray="6.5 5.5"/>
<text x="1108.5" y="1776.4" font-size="28">Hap.1</text>
<text x="1108.5" y="1875.5" font-size="28">Hap.2</text>
<text x="1108.5" y="2080" font-size="28">Hap.3</text>
<text x="1108.5" y="2175.5" font-size="28">Hap.4</text>
<text x="1281.8" y="1775.5" font-size="28">NH056</text>
<text x="1281.8" y="1801.2" font-size="28">(n=19)</text>
<text x="1281.8" y="1875.5" font-size="28">NH159</text>
<text x="1277.6" y="1902.7" font-size="28">(n=182)</text>
<text x="1281.8" y="2080" font-size="28">CW33</text>
<text x="1281.8" y="2107.3" font-size="28">(n=21)</text>
<text x="1281.8" y="2175.5" font-size="28">CW36</text>
<text x="1281.8" y="2204.2" font-size="28">(n=2)</text>
<text x="1362.4" y="1980" font-size="28" text-anchor="end" font-style="italic">O. longistaminata</text>
<path d="M1226.7 1770 L1226.7 1740.5 A29.5 29.5 0 1 1 1217.1 1742.1 Z" fill="#a84d8e"/>
<path d="M1226.7 1770 L1217.1 1742.1 A29.5 29.5 0 0 1 1226.7 1740.5 Z" fill="#6490c0"/>
<path d="M1226 1869.4 L1226 1839.9 A29.5 29.5 0 1 1 1219.4 1898.1 Z" fill="#a84d8e"/>
<path d="M1226 1869.4 L1219.4 1898.1 A29.5 29.5 0 0 1 1201.8 1852.5 Z" fill="#5f9457"/>
<path d="M1226 1869.4 L1201.8 1852.5 A29.5 29.5 0 0 1 1208.2 1845.8 Z" fill="#6490c0"/>
<path d="M1226 1869.4 L1208.2 1845.8 A29.5 29.5 0 0 1 1217.7 1841.1 Z" fill="#655a9b"/>
<path d="M1226 1869.4 L1217.7 1841.1 A29.5 29.5 0 0 1 1226 1839.9 Z" fill="#cc5028"/>
<path d="M1227.6 2073.3 L1227.6 2043.8 A29.5 29.5 0 0 1 1253.1 2088.1 Z" fill="#a84d8e"/>
<path d="M1227.6 2073.3 L1253.1 2088.1 A29.5 29.5 0 1 1 1227.6 2043.8 Z" fill="#6490c0"/>
<circle cx="1226" cy="2167.9" r="29.5" fill="#6490c0"/>
<polygon points="1389,2192.6 1400.5,2192.6 1400.5,2185.3 1411.3,2199.6 1400.5,2213.8 1400.5,2206.6 1389,2206.6" fill="#88dcbd" stroke="#88dcbd" stroke-width="0.8" stroke-linejoin="round"/>
<text x="1415.7" y="2205.5" font-size="28">OG0005321</text>
<polygon points="1589.8,2192.6 1601.3,2192.6 1601.3,2185.3 1612.1,2199.6 1601.3,2213.8 1601.3,2206.6 1589.8,2206.6" fill="#f39d2e" stroke="#f39d2e" stroke-width="0.8" stroke-linejoin="round"/>
<text x="1617.5" y="2205.5" font-size="28">OG0024617</text>
<line x1="1789.2" y1="2199" x2="1860.7" y2="2199" stroke="#111" stroke-width="2.6"/>
<text x="1863.6" y="2205.5" font-size="28">10 kb</text>
<rect x="1952.1" y="2036.2" width="14.7" height="14.6" fill="#a84d8e"/>
<text x="1988.4" y="2049.4" font-size="28" font-style="italic">Osi</text>
<rect x="1952.1" y="2064.9" width="14.7" height="14.6" fill="#5f9457"/>
<text x="1988.4" y="2078" font-size="28" font-style="italic">Osj</text>
<rect x="1952.1" y="2093.1" width="14.7" height="14.6" fill="#6490c0"/>
<text x="1988.4" y="2106.5" font-size="28" font-style="italic">Or</text>
<rect x="1952.1" y="2121.7" width="14.7" height="14.6" fill="#655a9b"/>
<text x="1988.4" y="2135" font-size="28" font-style="italic">Og</text>
<rect x="1952.1" y="2150.3" width="14.7" height="14.6" fill="#cc5028"/>
<text x="1988.4" y="2163.7" font-size="28" font-style="italic">Ob</text>
</svg>
</body></html>
